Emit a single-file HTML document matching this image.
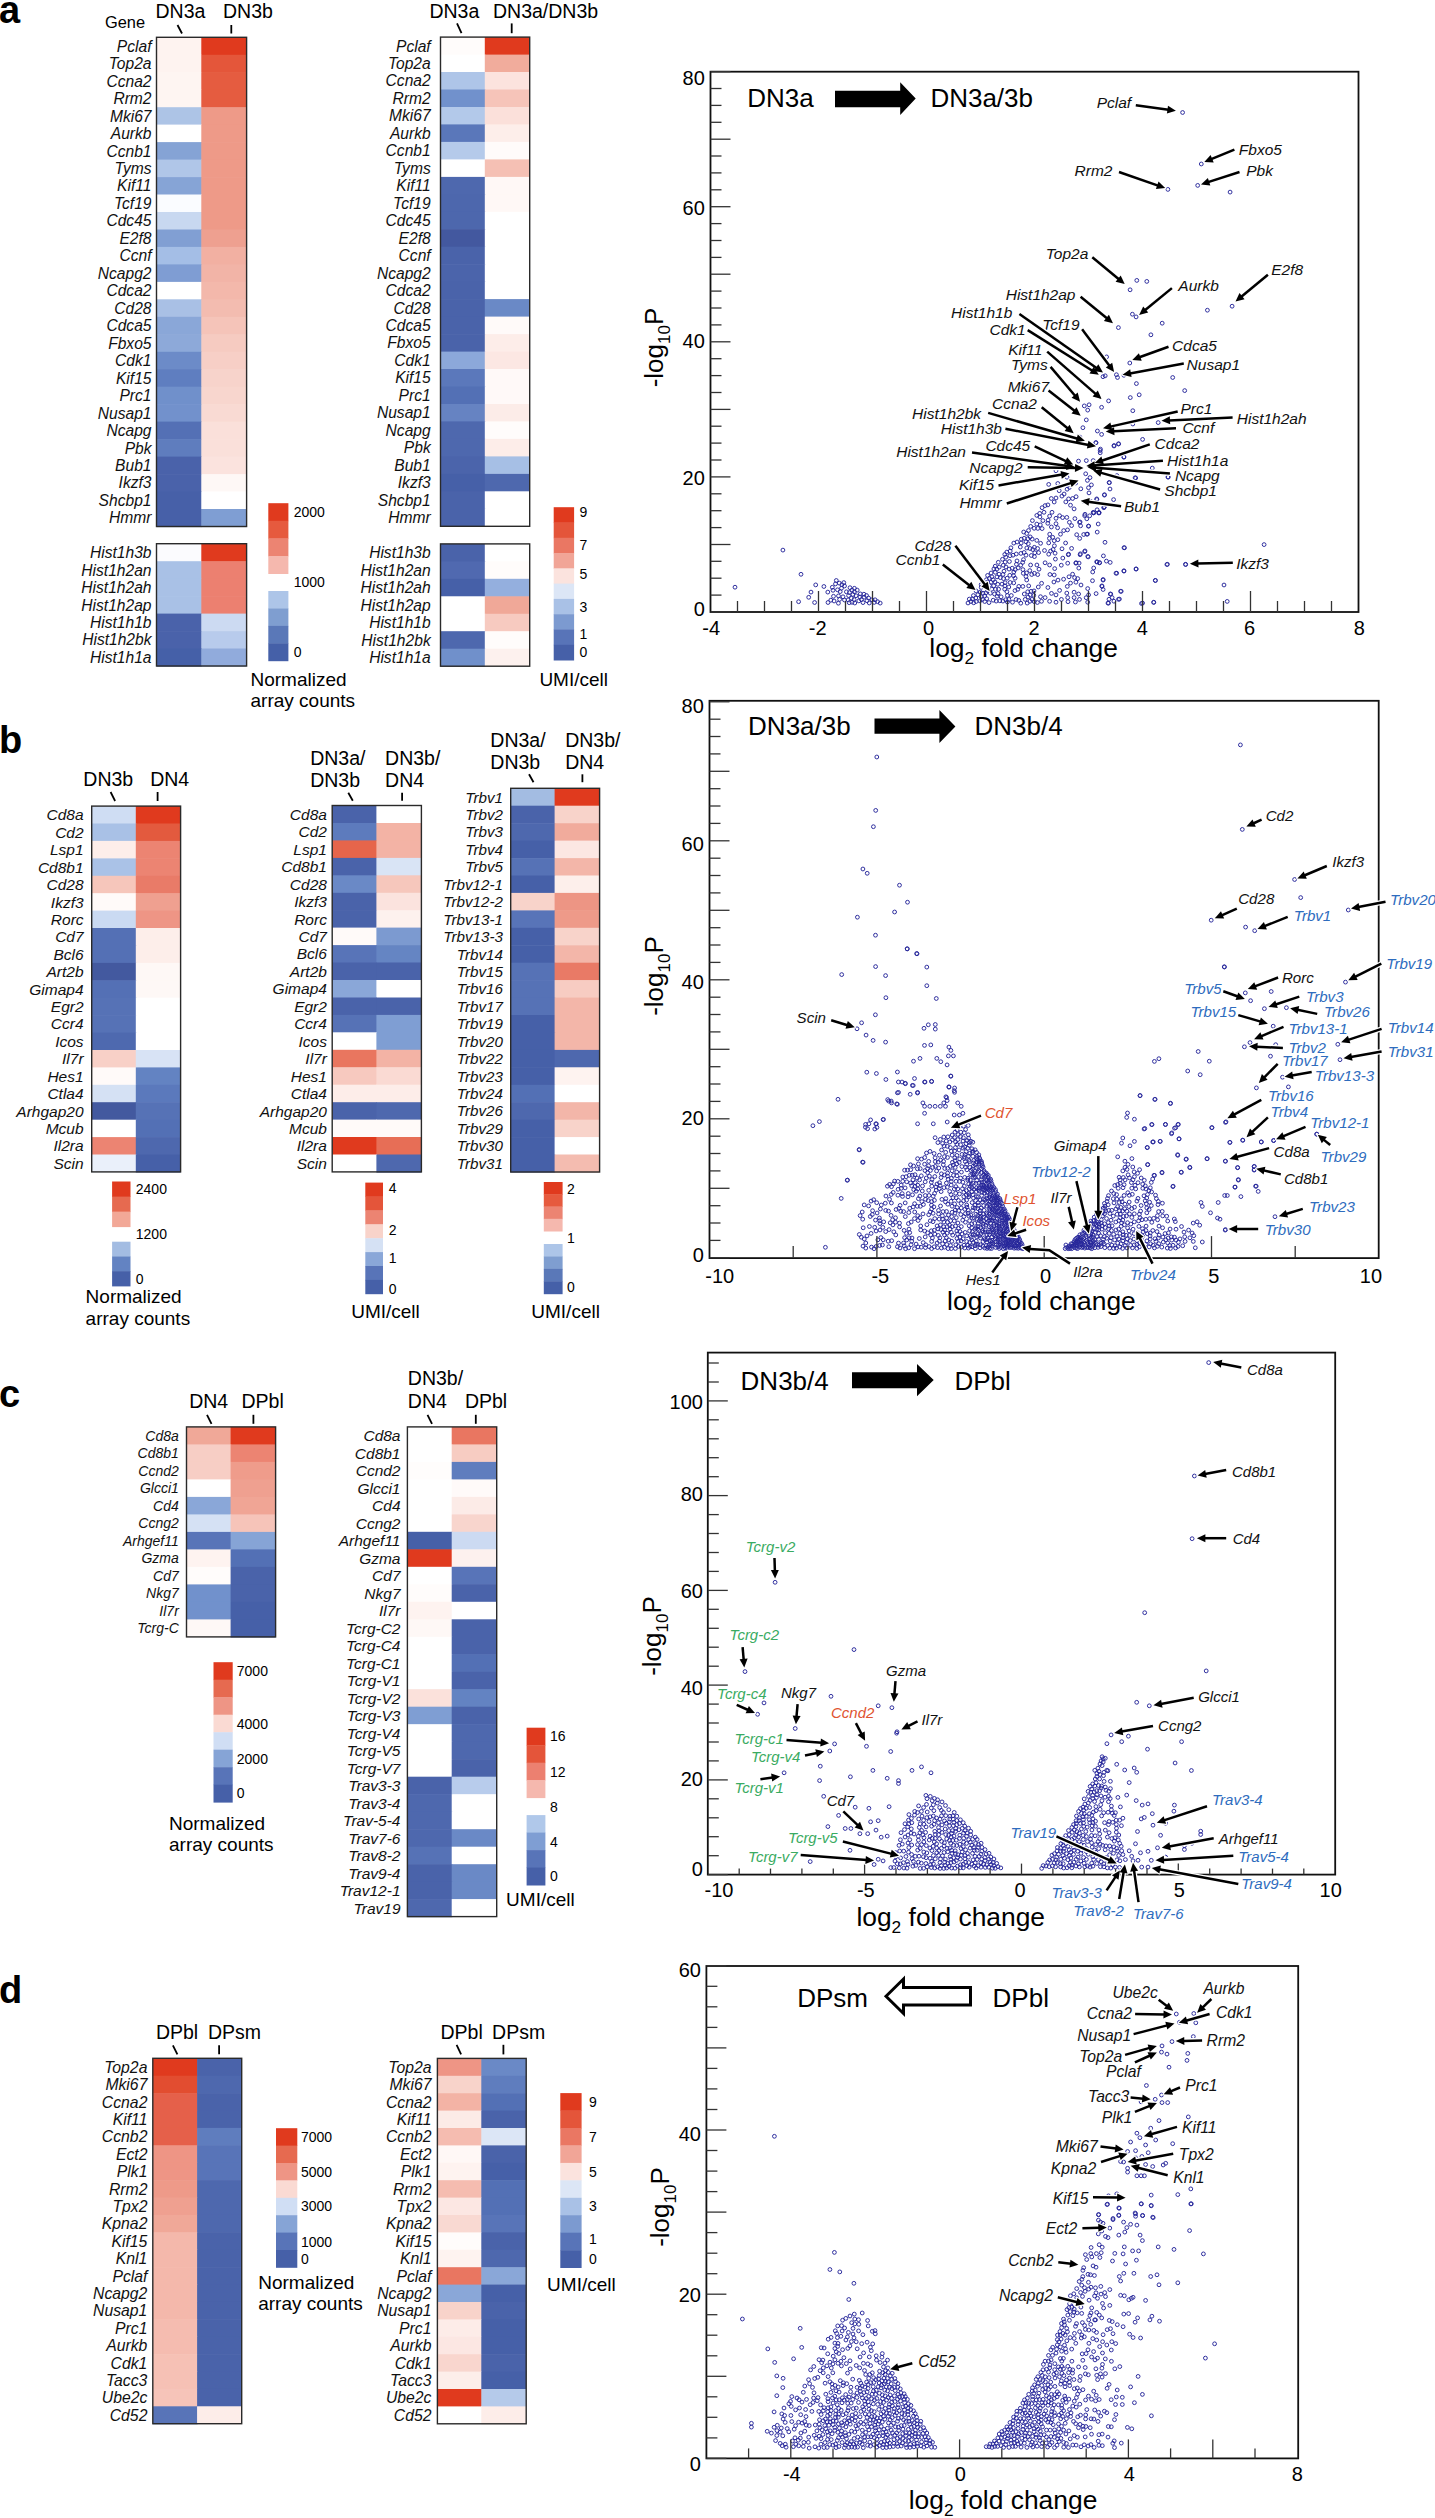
<!DOCTYPE html>
<html><head><meta charset="utf-8"><style>
html,body{margin:0;padding:0;background:#fff;}
svg{display:block;font-family:"Liberation Sans",sans-serif;}
</style></head><body>
<svg width="1435" height="2518" viewBox="0 0 1435 2518">
<defs><marker id="m" markerWidth="6" markerHeight="6" refX="3" refY="3" markerUnits="userSpaceOnUse" overflow="visible"><circle cx="3" cy="3" r="1.9" fill="none" stroke="#26269a" stroke-width="0.95"/></marker></defs>
<rect width="100%" height="100%" fill="#fff"/>
<text x="-1" y="23" font-size="38" text-anchor="start" fill="#000" font-weight="bold">a</text>
<text x="-1" y="753" font-size="38" text-anchor="start" fill="#000" font-weight="bold">b</text>
<text x="-1" y="1407" font-size="38" text-anchor="start" fill="#000" font-weight="bold">c</text>
<text x="-1" y="2003" font-size="38" text-anchor="start" fill="#000" font-weight="bold">d</text>
<text x="105" y="28" font-size="16.4" text-anchor="start" fill="#000">Gene</text>
<text x="155.5" y="17.8" font-size="19.5" text-anchor="start" fill="#000">DN3a</text>
<text x="223" y="17.8" font-size="19.5" text-anchor="start" fill="#000">DN3b</text>
<line x1="177.5" y1="25" x2="182" y2="33.5" stroke="#000" stroke-width="1.8"/>
<line x1="231.3" y1="25" x2="231.3" y2="33.5" stroke="#000" stroke-width="1.8"/>
<rect x="156.5" y="37.3" width="45.4" height="18.1" fill="#FEF3F0"/>
<rect x="201.3" y="37.3" width="45.3" height="18.1" fill="#E03A1E"/>
<text x="151.5" y="51.7" font-size="15.6" text-anchor="end" fill="#111" font-style="italic">Pclaf</text>
<rect x="156.5" y="54.8" width="45.4" height="18.1" fill="#FEF3F0"/>
<rect x="201.3" y="54.8" width="45.3" height="18.1" fill="#E4563A"/>
<text x="151.5" y="69.1" font-size="15.6" text-anchor="end" fill="#111" font-style="italic">Top2a</text>
<rect x="156.5" y="72.2" width="45.4" height="18.1" fill="#FEF5F2"/>
<rect x="201.3" y="72.2" width="45.3" height="18.1" fill="#E55C40"/>
<text x="151.5" y="86.6" font-size="15.6" text-anchor="end" fill="#111" font-style="italic">Ccna2</text>
<rect x="156.5" y="89.7" width="45.4" height="18.1" fill="#FEF5F2"/>
<rect x="201.3" y="89.7" width="45.3" height="18.1" fill="#E55C40"/>
<text x="151.5" y="104.1" font-size="15.6" text-anchor="end" fill="#111" font-style="italic">Rrm2</text>
<rect x="156.5" y="107.2" width="45.4" height="18.1" fill="#ADC4E6"/>
<rect x="201.3" y="107.2" width="45.3" height="18.1" fill="#EE9A88"/>
<text x="151.5" y="121.5" font-size="15.6" text-anchor="end" fill="#111" font-style="italic">Mki67</text>
<rect x="156.5" y="124.6" width="45.4" height="18.1" fill="#FFFFFF"/>
<rect x="201.3" y="124.6" width="45.3" height="18.1" fill="#EE9A88"/>
<text x="151.5" y="139" font-size="15.6" text-anchor="end" fill="#111" font-style="italic">Aurkb</text>
<rect x="156.5" y="142.1" width="45.4" height="18.1" fill="#85A3D5"/>
<rect x="201.3" y="142.1" width="45.3" height="18.1" fill="#EE9A88"/>
<text x="151.5" y="156.5" font-size="15.6" text-anchor="end" fill="#111" font-style="italic">Ccnb1</text>
<rect x="156.5" y="159.6" width="45.4" height="18.1" fill="#B0C6E8"/>
<rect x="201.3" y="159.6" width="45.3" height="18.1" fill="#EE9A88"/>
<text x="151.5" y="173.9" font-size="15.6" text-anchor="end" fill="#111" font-style="italic">Tyms</text>
<rect x="156.5" y="177.1" width="45.4" height="18.1" fill="#86A4D6"/>
<rect x="201.3" y="177.1" width="45.3" height="18.1" fill="#EE9A88"/>
<text x="151.5" y="191.4" font-size="15.6" text-anchor="end" fill="#111" font-style="italic">Kif11</text>
<rect x="156.5" y="194.5" width="45.4" height="18.1" fill="#FAFCFF"/>
<rect x="201.3" y="194.5" width="45.3" height="18.1" fill="#EE9A88"/>
<text x="151.5" y="208.9" font-size="15.6" text-anchor="end" fill="#111" font-style="italic">Tcf19</text>
<rect x="156.5" y="212" width="45.4" height="18.1" fill="#C8D8F0"/>
<rect x="201.3" y="212" width="45.3" height="18.1" fill="#EE9A88"/>
<text x="151.5" y="226.4" font-size="15.6" text-anchor="end" fill="#111" font-style="italic">Cdc45</text>
<rect x="156.5" y="229.5" width="45.4" height="18.1" fill="#819FD3"/>
<rect x="201.3" y="229.5" width="45.3" height="18.1" fill="#EEA090"/>
<text x="151.5" y="243.8" font-size="15.6" text-anchor="end" fill="#111" font-style="italic">E2f8</text>
<rect x="156.5" y="246.9" width="45.4" height="18.1" fill="#A4BEE6"/>
<rect x="201.3" y="246.9" width="45.3" height="18.1" fill="#F2B0A2"/>
<text x="151.5" y="261.3" font-size="15.6" text-anchor="end" fill="#111" font-style="italic">Ccnf</text>
<rect x="156.5" y="264.4" width="45.4" height="18.1" fill="#7F9DD3"/>
<rect x="201.3" y="264.4" width="45.3" height="18.1" fill="#F2B4A7"/>
<text x="151.5" y="278.8" font-size="15.6" text-anchor="end" fill="#111" font-style="italic">Ncapg2</text>
<rect x="156.5" y="281.9" width="45.4" height="18.1" fill="#FFFFFF"/>
<rect x="201.3" y="281.9" width="45.3" height="18.1" fill="#F3B8AB"/>
<text x="151.5" y="296.2" font-size="15.6" text-anchor="end" fill="#111" font-style="italic">Cdca2</text>
<rect x="156.5" y="299.3" width="45.4" height="18.1" fill="#A9C0E5"/>
<rect x="201.3" y="299.3" width="45.3" height="18.1" fill="#F3BCB0"/>
<text x="151.5" y="313.7" font-size="15.6" text-anchor="end" fill="#111" font-style="italic">Cd28</text>
<rect x="156.5" y="316.8" width="45.4" height="18.1" fill="#8AA7D8"/>
<rect x="201.3" y="316.8" width="45.3" height="18.1" fill="#F5C4B9"/>
<text x="151.5" y="331.2" font-size="15.6" text-anchor="end" fill="#111" font-style="italic">Cdca5</text>
<rect x="156.5" y="334.3" width="45.4" height="18.1" fill="#8DA9D9"/>
<rect x="201.3" y="334.3" width="45.3" height="18.1" fill="#F6CBC1"/>
<text x="151.5" y="348.6" font-size="15.6" text-anchor="end" fill="#111" font-style="italic">Fbxo5</text>
<rect x="156.5" y="351.8" width="45.4" height="18.1" fill="#6C8BC8"/>
<rect x="201.3" y="351.8" width="45.3" height="18.1" fill="#F7CFC6"/>
<text x="151.5" y="366.1" font-size="15.6" text-anchor="end" fill="#111" font-style="italic">Cdk1</text>
<rect x="156.5" y="369.2" width="45.4" height="18.1" fill="#5F7EC0"/>
<rect x="201.3" y="369.2" width="45.3" height="18.1" fill="#F7D3CB"/>
<text x="151.5" y="383.6" font-size="15.6" text-anchor="end" fill="#111" font-style="italic">Kif15</text>
<rect x="156.5" y="386.7" width="45.4" height="18.1" fill="#7090CB"/>
<rect x="201.3" y="386.7" width="45.3" height="18.1" fill="#F8D6CE"/>
<text x="151.5" y="401.1" font-size="15.6" text-anchor="end" fill="#111" font-style="italic">Prc1</text>
<rect x="156.5" y="404.2" width="45.4" height="18.1" fill="#7291CC"/>
<rect x="201.3" y="404.2" width="45.3" height="18.1" fill="#F9DAD3"/>
<text x="151.5" y="418.5" font-size="15.6" text-anchor="end" fill="#111" font-style="italic">Nusap1</text>
<rect x="156.5" y="421.6" width="45.4" height="18.1" fill="#5470B5"/>
<rect x="201.3" y="421.6" width="45.3" height="18.1" fill="#FAE0DA"/>
<text x="151.5" y="436" font-size="15.6" text-anchor="end" fill="#111" font-style="italic">Ncapg</text>
<rect x="156.5" y="439.1" width="45.4" height="18.1" fill="#5F7DBE"/>
<rect x="201.3" y="439.1" width="45.3" height="18.1" fill="#FAE0DA"/>
<text x="151.5" y="453.5" font-size="15.6" text-anchor="end" fill="#111" font-style="italic">Pbk</text>
<rect x="156.5" y="456.6" width="45.4" height="18.1" fill="#4A62AA"/>
<rect x="201.3" y="456.6" width="45.3" height="18.1" fill="#FBE3DE"/>
<text x="151.5" y="470.9" font-size="15.6" text-anchor="end" fill="#111" font-style="italic">Bub1</text>
<rect x="156.5" y="474.1" width="45.4" height="18.1" fill="#4A62AA"/>
<rect x="201.3" y="474.1" width="45.3" height="18.1" fill="#FEF8F6"/>
<text x="151.5" y="488.4" font-size="15.6" text-anchor="end" fill="#111" font-style="italic">Ikzf3</text>
<rect x="156.5" y="491.5" width="45.4" height="18.1" fill="#4760A8"/>
<rect x="201.3" y="491.5" width="45.3" height="18.1" fill="#FFFFFF"/>
<text x="151.5" y="505.9" font-size="15.6" text-anchor="end" fill="#111" font-style="italic">Shcbp1</text>
<rect x="156.5" y="509" width="45.4" height="18.1" fill="#4760A8"/>
<rect x="201.3" y="509" width="45.3" height="18.1" fill="#7F9ED3"/>
<text x="151.5" y="523.3" font-size="15.6" text-anchor="end" fill="#111" font-style="italic">Hmmr</text>
<rect x="156.5" y="37.3" width="90.1" height="489.2" fill="none" stroke="#2a2a2a" stroke-width="1.4"/>
<rect x="156.5" y="543.7" width="45.4" height="18.1" fill="#FBFBFE"/>
<rect x="201.3" y="543.7" width="45.3" height="18.1" fill="#E03A1E"/>
<text x="151.5" y="558.1" font-size="15.6" text-anchor="end" fill="#111" font-style="italic">Hist1h3b</text>
<rect x="156.5" y="561.2" width="45.4" height="18.1" fill="#A9C1E6"/>
<rect x="201.3" y="561.2" width="45.3" height="18.1" fill="#EC8070"/>
<text x="151.5" y="575.5" font-size="15.6" text-anchor="end" fill="#111" font-style="italic">Hist1h2an</text>
<rect x="156.5" y="578.6" width="45.4" height="18.1" fill="#A9C1E6"/>
<rect x="201.3" y="578.6" width="45.3" height="18.1" fill="#EC8070"/>
<text x="151.5" y="593" font-size="15.6" text-anchor="end" fill="#111" font-style="italic">Hist1h2ah</text>
<rect x="156.5" y="596.1" width="45.4" height="18.1" fill="#A9C1E6"/>
<rect x="201.3" y="596.1" width="45.3" height="18.1" fill="#EC8070"/>
<text x="151.5" y="610.5" font-size="15.6" text-anchor="end" fill="#111" font-style="italic">Hist1h2ap</text>
<rect x="156.5" y="613.6" width="45.4" height="18.1" fill="#4A62AA"/>
<rect x="201.3" y="613.6" width="45.3" height="18.1" fill="#CCDAF2"/>
<text x="151.5" y="627.9" font-size="15.6" text-anchor="end" fill="#111" font-style="italic">Hist1h1b</text>
<rect x="156.5" y="631.1" width="45.4" height="18.1" fill="#4A62AA"/>
<rect x="201.3" y="631.1" width="45.3" height="18.1" fill="#B8CBEC"/>
<text x="151.5" y="645.4" font-size="15.6" text-anchor="end" fill="#111" font-style="italic">Hist1h2bk</text>
<rect x="156.5" y="648.5" width="45.4" height="18.1" fill="#4560A8"/>
<rect x="201.3" y="648.5" width="45.3" height="18.1" fill="#91ABDC"/>
<text x="151.5" y="662.9" font-size="15.6" text-anchor="end" fill="#111" font-style="italic">Hist1h1a</text>
<rect x="156.5" y="543.7" width="90.1" height="122.3" fill="none" stroke="#2a2a2a" stroke-width="1.4"/>
<rect x="268.3" y="503.2" width="20.1" height="18" fill="#E03A1E"/>
<rect x="268.3" y="520.8" width="20.1" height="18" fill="#E65A3E"/>
<rect x="268.3" y="538.4" width="20.1" height="18" fill="#EC8472"/>
<rect x="268.3" y="556" width="20.1" height="18" fill="#F5B8AE"/>
<rect x="268.3" y="591" width="20.1" height="17.9" fill="#ADC5E8"/>
<rect x="268.3" y="608.5" width="20.1" height="17.8" fill="#7F9ED0"/>
<rect x="268.3" y="625.9" width="20.1" height="17.8" fill="#5A78B8"/>
<rect x="268.3" y="643.3" width="20.1" height="17.9" fill="#4560A8"/>
<text x="293.7" y="517.4" font-size="14" text-anchor="start" fill="#000">2000</text>
<text x="293.7" y="587.2" font-size="14" text-anchor="start" fill="#000">1000</text>
<text x="293.7" y="656.6" font-size="14" text-anchor="start" fill="#000">0</text>
<text x="250.5" y="686.3" font-size="19" text-anchor="start" fill="#000">Normalized</text>
<text x="250.5" y="706.6" font-size="19" text-anchor="start" fill="#000">array counts</text>
<text x="429.4" y="17.8" font-size="19.5" text-anchor="start" fill="#000">DN3a</text>
<text x="493" y="17.8" font-size="19.5" text-anchor="start" fill="#000">DN3a/DN3b</text>
<line x1="457" y1="23.4" x2="461.5" y2="33.2" stroke="#000" stroke-width="1.8"/>
<line x1="511.7" y1="23.4" x2="511.7" y2="33.2" stroke="#000" stroke-width="1.8"/>
<rect x="440.5" y="37.1" width="44.9" height="18.1" fill="#FFFCFB"/>
<rect x="484.8" y="37.1" width="44.9" height="18.1" fill="#E03A1E"/>
<text x="430.7" y="51.5" font-size="15.6" text-anchor="end" fill="#111" font-style="italic">Pclaf</text>
<rect x="440.5" y="54.6" width="44.9" height="18.1" fill="#FFFFFF"/>
<rect x="484.8" y="54.6" width="44.9" height="18.1" fill="#F1AC9C"/>
<text x="430.7" y="68.9" font-size="15.6" text-anchor="end" fill="#111" font-style="italic">Top2a</text>
<rect x="440.5" y="72" width="44.9" height="18.1" fill="#AEC5E8"/>
<rect x="484.8" y="72" width="44.9" height="18.1" fill="#FCE3DE"/>
<text x="430.7" y="86.4" font-size="15.6" text-anchor="end" fill="#111" font-style="italic">Ccna2</text>
<rect x="440.5" y="89.5" width="44.9" height="18.1" fill="#7191CC"/>
<rect x="484.8" y="89.5" width="44.9" height="18.1" fill="#F6C4B9"/>
<text x="430.7" y="103.9" font-size="15.6" text-anchor="end" fill="#111" font-style="italic">Rrm2</text>
<rect x="440.5" y="107" width="44.9" height="18.1" fill="#B3C9EA"/>
<rect x="484.8" y="107" width="44.9" height="18.1" fill="#FBE0DA"/>
<text x="430.7" y="121.3" font-size="15.6" text-anchor="end" fill="#111" font-style="italic">Mki67</text>
<rect x="440.5" y="124.4" width="44.9" height="18.1" fill="#5A77BA"/>
<rect x="484.8" y="124.4" width="44.9" height="18.1" fill="#FDEEEA"/>
<text x="430.7" y="138.8" font-size="15.6" text-anchor="end" fill="#111" font-style="italic">Aurkb</text>
<rect x="440.5" y="141.9" width="44.9" height="18.1" fill="#B5CAEA"/>
<rect x="484.8" y="141.9" width="44.9" height="18.1" fill="#FFFBFA"/>
<text x="430.7" y="156.3" font-size="15.6" text-anchor="end" fill="#111" font-style="italic">Ccnb1</text>
<rect x="440.5" y="159.4" width="44.9" height="18.1" fill="#FFFFFF"/>
<rect x="484.8" y="159.4" width="44.9" height="18.1" fill="#F5C0B4"/>
<text x="430.7" y="173.7" font-size="15.6" text-anchor="end" fill="#111" font-style="italic">Tyms</text>
<rect x="440.5" y="176.9" width="44.9" height="18.1" fill="#4E68AE"/>
<rect x="484.8" y="176.9" width="44.9" height="18.1" fill="#FFF8F6"/>
<text x="430.7" y="191.2" font-size="15.6" text-anchor="end" fill="#111" font-style="italic">Kif11</text>
<rect x="440.5" y="194.3" width="44.9" height="18.1" fill="#4D67AD"/>
<rect x="484.8" y="194.3" width="44.9" height="18.1" fill="#FFF8F6"/>
<text x="430.7" y="208.7" font-size="15.6" text-anchor="end" fill="#111" font-style="italic">Tcf19</text>
<rect x="440.5" y="211.8" width="44.9" height="18.1" fill="#4D67AD"/>
<rect x="484.8" y="211.8" width="44.9" height="18.1" fill="#FFFFFF"/>
<text x="430.7" y="226.2" font-size="15.6" text-anchor="end" fill="#111" font-style="italic">Cdc45</text>
<rect x="440.5" y="229.3" width="44.9" height="18.1" fill="#43589F"/>
<rect x="484.8" y="229.3" width="44.9" height="18.1" fill="#FFFFFF"/>
<text x="430.7" y="243.6" font-size="15.6" text-anchor="end" fill="#111" font-style="italic">E2f8</text>
<rect x="440.5" y="246.7" width="44.9" height="18.1" fill="#4A63AA"/>
<rect x="484.8" y="246.7" width="44.9" height="18.1" fill="#FFFFFF"/>
<text x="430.7" y="261.1" font-size="15.6" text-anchor="end" fill="#111" font-style="italic">Ccnf</text>
<rect x="440.5" y="264.2" width="44.9" height="18.1" fill="#4B64AB"/>
<rect x="484.8" y="264.2" width="44.9" height="18.1" fill="#FFFFFF"/>
<text x="430.7" y="278.6" font-size="15.6" text-anchor="end" fill="#111" font-style="italic">Ncapg2</text>
<rect x="440.5" y="281.7" width="44.9" height="18.1" fill="#4A63AA"/>
<rect x="484.8" y="281.7" width="44.9" height="18.1" fill="#FFFFFF"/>
<text x="430.7" y="296" font-size="15.6" text-anchor="end" fill="#111" font-style="italic">Cdca2</text>
<rect x="440.5" y="299.1" width="44.9" height="18.1" fill="#4A63AA"/>
<rect x="484.8" y="299.1" width="44.9" height="18.1" fill="#6A89C6"/>
<text x="430.7" y="313.5" font-size="15.6" text-anchor="end" fill="#111" font-style="italic">Cd28</text>
<rect x="440.5" y="316.6" width="44.9" height="18.1" fill="#4A63AA"/>
<rect x="484.8" y="316.6" width="44.9" height="18.1" fill="#FFFAF9"/>
<text x="430.7" y="331" font-size="15.6" text-anchor="end" fill="#111" font-style="italic">Cdca5</text>
<rect x="440.5" y="334.1" width="44.9" height="18.1" fill="#4A63AA"/>
<rect x="484.8" y="334.1" width="44.9" height="18.1" fill="#FDEDE9"/>
<text x="430.7" y="348.4" font-size="15.6" text-anchor="end" fill="#111" font-style="italic">Fbxo5</text>
<rect x="440.5" y="351.6" width="44.9" height="18.1" fill="#8CA8DA"/>
<rect x="484.8" y="351.6" width="44.9" height="18.1" fill="#FCE7E3"/>
<text x="430.7" y="365.9" font-size="15.6" text-anchor="end" fill="#111" font-style="italic">Cdk1</text>
<rect x="440.5" y="369" width="44.9" height="18.1" fill="#5B78BB"/>
<rect x="484.8" y="369" width="44.9" height="18.1" fill="#FFF9F8"/>
<text x="430.7" y="383.4" font-size="15.6" text-anchor="end" fill="#111" font-style="italic">Kif15</text>
<rect x="440.5" y="386.5" width="44.9" height="18.1" fill="#5370B5"/>
<rect x="484.8" y="386.5" width="44.9" height="18.1" fill="#FFF9F8"/>
<text x="430.7" y="400.9" font-size="15.6" text-anchor="end" fill="#111" font-style="italic">Prc1</text>
<rect x="440.5" y="404" width="44.9" height="18.1" fill="#6683C2"/>
<rect x="484.8" y="404" width="44.9" height="18.1" fill="#FCECE8"/>
<text x="430.7" y="418.3" font-size="15.6" text-anchor="end" fill="#111" font-style="italic">Nusap1</text>
<rect x="440.5" y="421.4" width="44.9" height="18.1" fill="#4E68AE"/>
<rect x="484.8" y="421.4" width="44.9" height="18.1" fill="#FFFCFB"/>
<text x="430.7" y="435.8" font-size="15.6" text-anchor="end" fill="#111" font-style="italic">Ncapg</text>
<rect x="440.5" y="438.9" width="44.9" height="18.1" fill="#4E68AE"/>
<rect x="484.8" y="438.9" width="44.9" height="18.1" fill="#FDEDE9"/>
<text x="430.7" y="453.3" font-size="15.6" text-anchor="end" fill="#111" font-style="italic">Pbk</text>
<rect x="440.5" y="456.4" width="44.9" height="18.1" fill="#4B64AB"/>
<rect x="484.8" y="456.4" width="44.9" height="18.1" fill="#A6BFE5"/>
<text x="430.7" y="470.7" font-size="15.6" text-anchor="end" fill="#111" font-style="italic">Bub1</text>
<rect x="440.5" y="473.9" width="44.9" height="18.1" fill="#4660A8"/>
<rect x="484.8" y="473.9" width="44.9" height="18.1" fill="#4E68AE"/>
<text x="430.7" y="488.2" font-size="15.6" text-anchor="end" fill="#111" font-style="italic">Ikzf3</text>
<rect x="440.5" y="491.3" width="44.9" height="18.1" fill="#4A63AA"/>
<rect x="484.8" y="491.3" width="44.9" height="18.1" fill="#FFFFFF"/>
<text x="430.7" y="505.7" font-size="15.6" text-anchor="end" fill="#111" font-style="italic">Shcbp1</text>
<rect x="440.5" y="508.8" width="44.9" height="18.1" fill="#4A63AA"/>
<rect x="484.8" y="508.8" width="44.9" height="18.1" fill="#FFFFFF"/>
<text x="430.7" y="523.1" font-size="15.6" text-anchor="end" fill="#111" font-style="italic">Hmmr</text>
<rect x="440.5" y="37.1" width="89.2" height="489.2" fill="none" stroke="#2a2a2a" stroke-width="1.4"/>
<rect x="440.5" y="543.9" width="44.9" height="18.1" fill="#4A63AA"/>
<rect x="484.8" y="543.9" width="44.9" height="18.1" fill="#FFFFFF"/>
<text x="430.7" y="558.3" font-size="15.6" text-anchor="end" fill="#111" font-style="italic">Hist1h3b</text>
<rect x="440.5" y="561.4" width="44.9" height="18.1" fill="#5069B0"/>
<rect x="484.8" y="561.4" width="44.9" height="18.1" fill="#FFFCFB"/>
<text x="430.7" y="575.7" font-size="15.6" text-anchor="end" fill="#111" font-style="italic">Hist1h2an</text>
<rect x="440.5" y="578.8" width="44.9" height="18.1" fill="#4660A8"/>
<rect x="484.8" y="578.8" width="44.9" height="18.1" fill="#94AFDE"/>
<text x="430.7" y="593.2" font-size="15.6" text-anchor="end" fill="#111" font-style="italic">Hist1h2ah</text>
<rect x="440.5" y="596.3" width="44.9" height="18.1" fill="#FFFFFF"/>
<rect x="484.8" y="596.3" width="44.9" height="18.1" fill="#F0A898"/>
<text x="430.7" y="610.7" font-size="15.6" text-anchor="end" fill="#111" font-style="italic">Hist1h2ap</text>
<rect x="440.5" y="613.8" width="44.9" height="18.1" fill="#FFFFFF"/>
<rect x="484.8" y="613.8" width="44.9" height="18.1" fill="#F7CAC0"/>
<text x="430.7" y="628.1" font-size="15.6" text-anchor="end" fill="#111" font-style="italic">Hist1h1b</text>
<rect x="440.5" y="631.2" width="44.9" height="18.1" fill="#4E68AE"/>
<rect x="484.8" y="631.2" width="44.9" height="18.1" fill="#FFFCFB"/>
<text x="430.7" y="645.6" font-size="15.6" text-anchor="end" fill="#111" font-style="italic">Hist1h2bk</text>
<rect x="440.5" y="648.7" width="44.9" height="18.1" fill="#7090CB"/>
<rect x="484.8" y="648.7" width="44.9" height="18.1" fill="#FDF1EE"/>
<text x="430.7" y="663.1" font-size="15.6" text-anchor="end" fill="#111" font-style="italic">Hist1h1a</text>
<rect x="440.5" y="543.9" width="89.2" height="122.3" fill="none" stroke="#2a2a2a" stroke-width="1.4"/>
<rect x="553.7" y="507.2" width="20.4" height="15.7" fill="#E03A1E"/>
<rect x="553.7" y="522.5" width="20.4" height="15.7" fill="#E4553A"/>
<rect x="553.7" y="537.8" width="20.4" height="15.7" fill="#EA7763"/>
<rect x="553.7" y="553.1" width="20.4" height="15.7" fill="#F1A597"/>
<rect x="553.7" y="568.4" width="20.4" height="15.7" fill="#FBE3DE"/>
<rect x="553.7" y="583.6" width="20.4" height="15.7" fill="#DCE6F6"/>
<rect x="553.7" y="598.9" width="20.4" height="15.7" fill="#A9C1E6"/>
<rect x="553.7" y="614.2" width="20.4" height="15.7" fill="#7C9AD0"/>
<rect x="553.7" y="629.5" width="20.4" height="15.7" fill="#5874B8"/>
<rect x="553.7" y="644.8" width="20.4" height="15.7" fill="#4660A8"/>
<text x="579.6" y="516.9" font-size="14" text-anchor="start" fill="#000">9</text>
<text x="579.6" y="549.6" font-size="14" text-anchor="start" fill="#000">7</text>
<text x="579.6" y="578.9" font-size="14" text-anchor="start" fill="#000">5</text>
<text x="579.6" y="611.5" font-size="14" text-anchor="start" fill="#000">3</text>
<text x="579.6" y="639.4" font-size="14" text-anchor="start" fill="#000">1</text>
<text x="579.6" y="656.6" font-size="14" text-anchor="start" fill="#000">0</text>
<text x="539.4" y="686" font-size="19" text-anchor="start" fill="#000">UMI/cell</text>
<text x="83.3" y="786.4" font-size="19.5" text-anchor="start" fill="#000">DN3b</text>
<text x="150.2" y="786.4" font-size="19.5" text-anchor="start" fill="#000">DN4</text>
<line x1="110.6" y1="792" x2="115.1" y2="801" stroke="#000" stroke-width="1.8"/>
<line x1="157.6" y1="792" x2="157.6" y2="801" stroke="#000" stroke-width="1.8"/>
<rect x="91.7" y="806.1" width="44.7" height="18" fill="#CFDDF3"/>
<rect x="135.8" y="806.1" width="44.8" height="18" fill="#E03A1E"/>
<text x="83.6" y="820.4" font-size="15.5" text-anchor="end" fill="#111" font-style="italic">Cd8a</text>
<rect x="91.7" y="823.5" width="44.7" height="18" fill="#A9C1E6"/>
<rect x="135.8" y="823.5" width="44.8" height="18" fill="#E35A3E"/>
<text x="83.6" y="837.8" font-size="15.5" text-anchor="end" fill="#111" font-style="italic">Cd2</text>
<rect x="91.7" y="840.9" width="44.7" height="18" fill="#FDEEEA"/>
<rect x="135.8" y="840.9" width="44.8" height="18" fill="#EC8472"/>
<text x="83.6" y="855.2" font-size="15.5" text-anchor="end" fill="#111" font-style="italic">Lsp1</text>
<rect x="91.7" y="858.4" width="44.7" height="18" fill="#AAC2E7"/>
<rect x="135.8" y="858.4" width="44.8" height="18" fill="#EC8472"/>
<text x="83.6" y="872.7" font-size="15.5" text-anchor="end" fill="#111" font-style="italic">Cd8b1</text>
<rect x="91.7" y="875.8" width="44.7" height="18" fill="#F6C6BB"/>
<rect x="135.8" y="875.8" width="44.8" height="18" fill="#E97B68"/>
<text x="83.6" y="890.1" font-size="15.5" text-anchor="end" fill="#111" font-style="italic">Cd28</text>
<rect x="91.7" y="893.2" width="44.7" height="18" fill="#FFFAF9"/>
<rect x="135.8" y="893.2" width="44.8" height="18" fill="#EFA090"/>
<text x="83.6" y="907.5" font-size="15.5" text-anchor="end" fill="#111" font-style="italic">Ikzf3</text>
<rect x="91.7" y="910.6" width="44.7" height="18" fill="#CADAF2"/>
<rect x="135.8" y="910.6" width="44.8" height="18" fill="#EE9585"/>
<text x="83.6" y="924.9" font-size="15.5" text-anchor="end" fill="#111" font-style="italic">Rorc</text>
<rect x="91.7" y="928" width="44.7" height="18" fill="#5470B5"/>
<rect x="135.8" y="928" width="44.8" height="18" fill="#FDEEEA"/>
<text x="83.6" y="942.3" font-size="15.5" text-anchor="end" fill="#111" font-style="italic">Cd7</text>
<rect x="91.7" y="945.5" width="44.7" height="18" fill="#5470B5"/>
<rect x="135.8" y="945.5" width="44.8" height="18" fill="#FDEEEA"/>
<text x="83.6" y="959.8" font-size="15.5" text-anchor="end" fill="#111" font-style="italic">Bcl6</text>
<rect x="91.7" y="962.9" width="44.7" height="18" fill="#43599F"/>
<rect x="135.8" y="962.9" width="44.8" height="18" fill="#FEF8F6"/>
<text x="83.6" y="977.2" font-size="15.5" text-anchor="end" fill="#111" font-style="italic">Art2b</text>
<rect x="91.7" y="980.3" width="44.7" height="18" fill="#5470B5"/>
<rect x="135.8" y="980.3" width="44.8" height="18" fill="#FEF8F6"/>
<text x="83.6" y="994.6" font-size="15.5" text-anchor="end" fill="#111" font-style="italic">Gimap4</text>
<rect x="91.7" y="997.7" width="44.7" height="18" fill="#5672B6"/>
<rect x="135.8" y="997.7" width="44.8" height="18" fill="#FFFFFF"/>
<text x="83.6" y="1012" font-size="15.5" text-anchor="end" fill="#111" font-style="italic">Egr2</text>
<rect x="91.7" y="1015.1" width="44.7" height="18" fill="#5672B6"/>
<rect x="135.8" y="1015.1" width="44.8" height="18" fill="#FFFFFF"/>
<text x="83.6" y="1029.4" font-size="15.5" text-anchor="end" fill="#111" font-style="italic">Ccr4</text>
<rect x="91.7" y="1032.6" width="44.7" height="18" fill="#4E69AF"/>
<rect x="135.8" y="1032.6" width="44.8" height="18" fill="#FFFFFF"/>
<text x="83.6" y="1046.8" font-size="15.5" text-anchor="end" fill="#111" font-style="italic">Icos</text>
<rect x="91.7" y="1050" width="44.7" height="18" fill="#F8D0C7"/>
<rect x="135.8" y="1050" width="44.8" height="18" fill="#D8E3F5"/>
<text x="83.6" y="1064.3" font-size="15.5" text-anchor="end" fill="#111" font-style="italic">Il7r</text>
<rect x="91.7" y="1067.4" width="44.7" height="18" fill="#FFFAF9"/>
<rect x="135.8" y="1067.4" width="44.8" height="18" fill="#6383C2"/>
<text x="83.6" y="1081.7" font-size="15.5" text-anchor="end" fill="#111" font-style="italic">Hes1</text>
<rect x="91.7" y="1084.8" width="44.7" height="18" fill="#D5E1F4"/>
<rect x="135.8" y="1084.8" width="44.8" height="18" fill="#5B79BC"/>
<text x="83.6" y="1099.1" font-size="15.5" text-anchor="end" fill="#111" font-style="italic">Ctla4</text>
<rect x="91.7" y="1102.2" width="44.7" height="18" fill="#43599F"/>
<rect x="135.8" y="1102.2" width="44.8" height="18" fill="#5672B6"/>
<text x="83.6" y="1116.5" font-size="15.5" text-anchor="end" fill="#111" font-style="italic">Arhgap20</text>
<rect x="91.7" y="1119.7" width="44.7" height="18" fill="#FFFFFF"/>
<rect x="135.8" y="1119.7" width="44.8" height="18" fill="#5370B5"/>
<text x="83.6" y="1134" font-size="15.5" text-anchor="end" fill="#111" font-style="italic">Mcub</text>
<rect x="91.7" y="1137.1" width="44.7" height="18" fill="#EC8472"/>
<rect x="135.8" y="1137.1" width="44.8" height="18" fill="#4E68AE"/>
<text x="83.6" y="1151.4" font-size="15.5" text-anchor="end" fill="#111" font-style="italic">Il2ra</text>
<rect x="91.7" y="1154.5" width="44.7" height="18" fill="#EAF0FA"/>
<rect x="135.8" y="1154.5" width="44.8" height="18" fill="#4660A8"/>
<text x="83.6" y="1168.8" font-size="15.5" text-anchor="end" fill="#111" font-style="italic">Scin</text>
<rect x="91.7" y="806.1" width="88.9" height="365.8" fill="none" stroke="#2a2a2a" stroke-width="1.4"/>
<rect x="112.1" y="1181.5" width="18.4" height="15.5" fill="#E03A1E"/>
<rect x="112.1" y="1196.6" width="18.4" height="15.5" fill="#E66A50"/>
<rect x="112.1" y="1211.6" width="18.4" height="15.5" fill="#F2A897"/>
<rect x="112.1" y="1241.7" width="18.4" height="15.2" fill="#A3BCE2"/>
<rect x="112.1" y="1256.5" width="18.4" height="15.2" fill="#6383C2"/>
<rect x="112.1" y="1271.2" width="18.4" height="15.2" fill="#4660A8"/>
<text x="135.8" y="1194" font-size="14" text-anchor="start" fill="#000">2400</text>
<text x="135.8" y="1239.2" font-size="14" text-anchor="start" fill="#000">1200</text>
<text x="135.8" y="1283.5" font-size="14" text-anchor="start" fill="#000">0</text>
<text x="85.6" y="1303" font-size="19" text-anchor="start" fill="#000">Normalized</text>
<text x="85.6" y="1324.5" font-size="19" text-anchor="start" fill="#000">array counts</text>
<text x="310.2" y="765.4" font-size="19.5" text-anchor="start" fill="#000">DN3a/</text>
<text x="310.2" y="787.4" font-size="19.5" text-anchor="start" fill="#000">DN3b</text>
<text x="385.1" y="765.4" font-size="19.5" text-anchor="start" fill="#000">DN3b/</text>
<text x="385.1" y="787.4" font-size="19.5" text-anchor="start" fill="#000">DN4</text>
<line x1="348.3" y1="792.8" x2="352.8" y2="800.8" stroke="#000" stroke-width="1.8"/>
<line x1="402.1" y1="792.8" x2="402.1" y2="800.8" stroke="#000" stroke-width="1.8"/>
<rect x="332.2" y="805.5" width="44.8" height="18.1" fill="#4A63AA"/>
<rect x="376.4" y="805.5" width="45" height="18.1" fill="#FFFFFF"/>
<text x="326.9" y="819.8" font-size="15.5" text-anchor="end" fill="#111" font-style="italic">Cd8a</text>
<rect x="332.2" y="823" width="44.8" height="18.1" fill="#5D7BBD"/>
<rect x="376.4" y="823" width="45" height="18.1" fill="#F3B3A5"/>
<text x="326.9" y="837.3" font-size="15.5" text-anchor="end" fill="#111" font-style="italic">Cd2</text>
<rect x="332.2" y="840.4" width="44.8" height="18.1" fill="#E6654B"/>
<rect x="376.4" y="840.4" width="45" height="18.1" fill="#F3B3A5"/>
<text x="326.9" y="854.7" font-size="15.5" text-anchor="end" fill="#111" font-style="italic">Lsp1</text>
<rect x="332.2" y="857.9" width="44.8" height="18.1" fill="#4A63AA"/>
<rect x="376.4" y="857.9" width="45" height="18.1" fill="#D9E4F5"/>
<text x="326.9" y="872.2" font-size="15.5" text-anchor="end" fill="#111" font-style="italic">Cd8b1</text>
<rect x="332.2" y="875.3" width="44.8" height="18.1" fill="#6A89C6"/>
<rect x="376.4" y="875.3" width="45" height="18.1" fill="#F6C7BC"/>
<text x="326.9" y="889.6" font-size="15.5" text-anchor="end" fill="#111" font-style="italic">Cd28</text>
<rect x="332.2" y="892.8" width="44.8" height="18.1" fill="#4A63AA"/>
<rect x="376.4" y="892.8" width="45" height="18.1" fill="#FBE3DE"/>
<text x="326.9" y="907.1" font-size="15.5" text-anchor="end" fill="#111" font-style="italic">Ikzf3</text>
<rect x="332.2" y="910.2" width="44.8" height="18.1" fill="#4A63AA"/>
<rect x="376.4" y="910.2" width="45" height="18.1" fill="#FDF1EE"/>
<text x="326.9" y="924.5" font-size="15.5" text-anchor="end" fill="#111" font-style="italic">Rorc</text>
<rect x="332.2" y="927.6" width="44.8" height="18.1" fill="#FFFAF9"/>
<rect x="376.4" y="927.6" width="45" height="18.1" fill="#7C9AD0"/>
<text x="326.9" y="942" font-size="15.5" text-anchor="end" fill="#111" font-style="italic">Cd7</text>
<rect x="332.2" y="945.1" width="44.8" height="18.1" fill="#5874B8"/>
<rect x="376.4" y="945.1" width="45" height="18.1" fill="#6585C3"/>
<text x="326.9" y="959.4" font-size="15.5" text-anchor="end" fill="#111" font-style="italic">Bcl6</text>
<rect x="332.2" y="962.5" width="44.8" height="18.1" fill="#4A63AA"/>
<rect x="376.4" y="962.5" width="45" height="18.1" fill="#4A63AA"/>
<text x="326.9" y="976.9" font-size="15.5" text-anchor="end" fill="#111" font-style="italic">Art2b</text>
<rect x="332.2" y="980" width="44.8" height="18.1" fill="#8AA7D8"/>
<rect x="376.4" y="980" width="45" height="18.1" fill="#FFFFFF"/>
<text x="326.9" y="994.3" font-size="15.5" text-anchor="end" fill="#111" font-style="italic">Gimap4</text>
<rect x="332.2" y="997.5" width="44.8" height="18.1" fill="#4A63AA"/>
<rect x="376.4" y="997.5" width="45" height="18.1" fill="#4A63AA"/>
<text x="326.9" y="1011.8" font-size="15.5" text-anchor="end" fill="#111" font-style="italic">Egr2</text>
<rect x="332.2" y="1014.9" width="44.8" height="18.1" fill="#5672B6"/>
<rect x="376.4" y="1014.9" width="45" height="18.1" fill="#7F9ED3"/>
<text x="326.9" y="1029.2" font-size="15.5" text-anchor="end" fill="#111" font-style="italic">Ccr4</text>
<rect x="332.2" y="1032.3" width="44.8" height="18.1" fill="#FFFFFF"/>
<rect x="376.4" y="1032.3" width="45" height="18.1" fill="#7F9ED3"/>
<text x="326.9" y="1046.7" font-size="15.5" text-anchor="end" fill="#111" font-style="italic">Icos</text>
<rect x="332.2" y="1049.8" width="44.8" height="18.1" fill="#E9765F"/>
<rect x="376.4" y="1049.8" width="45" height="18.1" fill="#F3B3A5"/>
<text x="326.9" y="1064.1" font-size="15.5" text-anchor="end" fill="#111" font-style="italic">Il7r</text>
<rect x="332.2" y="1067.2" width="44.8" height="18.1" fill="#F7C9BF"/>
<rect x="376.4" y="1067.2" width="45" height="18.1" fill="#FADAD3"/>
<text x="326.9" y="1081.6" font-size="15.5" text-anchor="end" fill="#111" font-style="italic">Hes1</text>
<rect x="332.2" y="1084.7" width="44.8" height="18.1" fill="#FDEDE9"/>
<rect x="376.4" y="1084.7" width="45" height="18.1" fill="#FDEDE9"/>
<text x="326.9" y="1099" font-size="15.5" text-anchor="end" fill="#111" font-style="italic">Ctla4</text>
<rect x="332.2" y="1102.2" width="44.8" height="18.1" fill="#4A63AA"/>
<rect x="376.4" y="1102.2" width="45" height="18.1" fill="#4E68AE"/>
<text x="326.9" y="1116.5" font-size="15.5" text-anchor="end" fill="#111" font-style="italic">Arhgap20</text>
<rect x="332.2" y="1119.6" width="44.8" height="18.1" fill="#FFFAF9"/>
<rect x="376.4" y="1119.6" width="45" height="18.1" fill="#FFFAF9"/>
<text x="326.9" y="1133.9" font-size="15.5" text-anchor="end" fill="#111" font-style="italic">Mcub</text>
<rect x="332.2" y="1137" width="44.8" height="18.1" fill="#E03A1E"/>
<rect x="376.4" y="1137" width="45" height="18.1" fill="#E76E56"/>
<text x="326.9" y="1151.4" font-size="15.5" text-anchor="end" fill="#111" font-style="italic">Il2ra</text>
<rect x="332.2" y="1154.5" width="44.8" height="18.1" fill="#FFFFFF"/>
<rect x="376.4" y="1154.5" width="45" height="18.1" fill="#4E68AE"/>
<text x="326.9" y="1168.8" font-size="15.5" text-anchor="end" fill="#111" font-style="italic">Scin</text>
<rect x="332.2" y="805.5" width="89.2" height="366.4" fill="none" stroke="#2a2a2a" stroke-width="1.4"/>
<rect x="365.3" y="1182.6" width="17.7" height="14.3" fill="#E03A1E"/>
<rect x="365.3" y="1196.5" width="17.7" height="14.3" fill="#E4553A"/>
<rect x="365.3" y="1210.4" width="17.7" height="14.3" fill="#EC8472"/>
<rect x="365.3" y="1224.3" width="17.7" height="14.3" fill="#F8D3CA"/>
<rect x="365.3" y="1238.2" width="17.7" height="14.3" fill="#D5E1F4"/>
<rect x="365.3" y="1252.1" width="17.7" height="14.3" fill="#8AA7D8"/>
<rect x="365.3" y="1266" width="17.7" height="14.3" fill="#5874B8"/>
<rect x="365.3" y="1279.9" width="17.7" height="14.3" fill="#4660A8"/>
<text x="388.8" y="1192.9" font-size="14" text-anchor="start" fill="#000">4</text>
<text x="388.8" y="1235.3" font-size="14" text-anchor="start" fill="#000">2</text>
<text x="388.8" y="1263.1" font-size="14" text-anchor="start" fill="#000">1</text>
<text x="388.8" y="1293.5" font-size="14" text-anchor="start" fill="#000">0</text>
<text x="351.2" y="1317.7" font-size="19" text-anchor="start" fill="#000">UMI/cell</text>
<text x="490.3" y="746.9" font-size="19.5" text-anchor="start" fill="#000">DN3a/</text>
<text x="490.3" y="769.4" font-size="19.5" text-anchor="start" fill="#000">DN3b</text>
<text x="565.2" y="746.9" font-size="19.5" text-anchor="start" fill="#000">DN3b/</text>
<text x="565.2" y="769.4" font-size="19.5" text-anchor="start" fill="#000">DN4</text>
<line x1="529" y1="774.3" x2="533.5" y2="782.2" stroke="#000" stroke-width="1.8"/>
<line x1="582.4" y1="774.3" x2="582.4" y2="782.2" stroke="#000" stroke-width="1.8"/>
<rect x="510.7" y="788.3" width="44.5" height="18" fill="#A3BCE2"/>
<rect x="554.6" y="788.3" width="45" height="18" fill="#E03A1E"/>
<text x="503" y="802.5" font-size="15.2" text-anchor="end" fill="#111" font-style="italic">Trbv1</text>
<rect x="510.7" y="805.7" width="44.5" height="18" fill="#4A63AA"/>
<rect x="554.6" y="805.7" width="45" height="18" fill="#F8D3CA"/>
<text x="503" y="819.9" font-size="15.2" text-anchor="end" fill="#111" font-style="italic">Trbv2</text>
<rect x="510.7" y="823.2" width="44.5" height="18" fill="#4E68AE"/>
<rect x="554.6" y="823.2" width="45" height="18" fill="#F1AB9C"/>
<text x="503" y="837.4" font-size="15.2" text-anchor="end" fill="#111" font-style="italic">Trbv3</text>
<rect x="510.7" y="840.6" width="44.5" height="18" fill="#4660A8"/>
<rect x="554.6" y="840.6" width="45" height="18" fill="#FCE7E3"/>
<text x="503" y="854.8" font-size="15.2" text-anchor="end" fill="#111" font-style="italic">Trbv4</text>
<rect x="510.7" y="858.1" width="44.5" height="18" fill="#5672B6"/>
<rect x="554.6" y="858.1" width="45" height="18" fill="#F3B6A9"/>
<text x="503" y="872.3" font-size="15.2" text-anchor="end" fill="#111" font-style="italic">Trbv5</text>
<rect x="510.7" y="875.5" width="44.5" height="18" fill="#4660A8"/>
<rect x="554.6" y="875.5" width="45" height="18" fill="#FDEFEB"/>
<text x="503" y="889.7" font-size="15.2" text-anchor="end" fill="#111" font-style="italic">Trbv12-1</text>
<rect x="510.7" y="892.9" width="44.5" height="18" fill="#F8D3CA"/>
<rect x="554.6" y="892.9" width="45" height="18" fill="#ED9584"/>
<text x="503" y="907.1" font-size="15.2" text-anchor="end" fill="#111" font-style="italic">Trbv12-2</text>
<rect x="510.7" y="910.4" width="44.5" height="18" fill="#5874B8"/>
<rect x="554.6" y="910.4" width="45" height="18" fill="#EE9A89"/>
<text x="503" y="924.6" font-size="15.2" text-anchor="end" fill="#111" font-style="italic">Trbv13-1</text>
<rect x="510.7" y="927.8" width="44.5" height="18" fill="#4660A8"/>
<rect x="554.6" y="927.8" width="45" height="18" fill="#F8D3CA"/>
<text x="503" y="942" font-size="15.2" text-anchor="end" fill="#111" font-style="italic">Trbv13-3</text>
<rect x="510.7" y="945.3" width="44.5" height="18" fill="#4660A8"/>
<rect x="554.6" y="945.3" width="45" height="18" fill="#F3B6A9"/>
<text x="503" y="959.5" font-size="15.2" text-anchor="end" fill="#111" font-style="italic">Trbv14</text>
<rect x="510.7" y="962.7" width="44.5" height="18" fill="#5672B6"/>
<rect x="554.6" y="962.7" width="45" height="18" fill="#E97A66"/>
<text x="503" y="976.9" font-size="15.2" text-anchor="end" fill="#111" font-style="italic">Trbv15</text>
<rect x="510.7" y="980.1" width="44.5" height="18" fill="#5672B6"/>
<rect x="554.6" y="980.1" width="45" height="18" fill="#F7CCC2"/>
<text x="503" y="994.3" font-size="15.2" text-anchor="end" fill="#111" font-style="italic">Trbv16</text>
<rect x="510.7" y="997.6" width="44.5" height="18" fill="#5672B6"/>
<rect x="554.6" y="997.6" width="45" height="18" fill="#F3B6A9"/>
<text x="503" y="1011.8" font-size="15.2" text-anchor="end" fill="#111" font-style="italic">Trbv17</text>
<rect x="510.7" y="1015" width="44.5" height="18" fill="#4660A8"/>
<rect x="554.6" y="1015" width="45" height="18" fill="#F3B6A9"/>
<text x="503" y="1029.2" font-size="15.2" text-anchor="end" fill="#111" font-style="italic">Trbv19</text>
<rect x="510.7" y="1032.5" width="44.5" height="18" fill="#4660A8"/>
<rect x="554.6" y="1032.5" width="45" height="18" fill="#F3B6A9"/>
<text x="503" y="1046.7" font-size="15.2" text-anchor="end" fill="#111" font-style="italic">Trbv20</text>
<rect x="510.7" y="1049.9" width="44.5" height="18" fill="#4660A8"/>
<rect x="554.6" y="1049.9" width="45" height="18" fill="#4E68AE"/>
<text x="503" y="1064.1" font-size="15.2" text-anchor="end" fill="#111" font-style="italic">Trbv22</text>
<rect x="510.7" y="1067.3" width="44.5" height="18" fill="#4660A8"/>
<rect x="554.6" y="1067.3" width="45" height="18" fill="#FEF3F0"/>
<text x="503" y="1081.5" font-size="15.2" text-anchor="end" fill="#111" font-style="italic">Trbv23</text>
<rect x="510.7" y="1084.8" width="44.5" height="18" fill="#5370B5"/>
<rect x="554.6" y="1084.8" width="45" height="18" fill="#FFFFFF"/>
<text x="503" y="1099" font-size="15.2" text-anchor="end" fill="#111" font-style="italic">Trbv24</text>
<rect x="510.7" y="1102.2" width="44.5" height="18" fill="#4E68AE"/>
<rect x="554.6" y="1102.2" width="45" height="18" fill="#F3B6A9"/>
<text x="503" y="1116.4" font-size="15.2" text-anchor="end" fill="#111" font-style="italic">Trbv26</text>
<rect x="510.7" y="1119.7" width="44.5" height="18" fill="#4660A8"/>
<rect x="554.6" y="1119.7" width="45" height="18" fill="#F8D3CA"/>
<text x="503" y="1133.9" font-size="15.2" text-anchor="end" fill="#111" font-style="italic">Trbv29</text>
<rect x="510.7" y="1137.1" width="44.5" height="18" fill="#4660A8"/>
<rect x="554.6" y="1137.1" width="45" height="18" fill="#FFFFFF"/>
<text x="503" y="1151.3" font-size="15.2" text-anchor="end" fill="#111" font-style="italic">Trbv30</text>
<rect x="510.7" y="1154.5" width="44.5" height="18" fill="#4660A8"/>
<rect x="554.6" y="1154.5" width="45" height="18" fill="#F4BCB0"/>
<text x="503" y="1168.7" font-size="15.2" text-anchor="end" fill="#111" font-style="italic">Trbv31</text>
<rect x="510.7" y="788.3" width="88.9" height="383.7" fill="none" stroke="#2a2a2a" stroke-width="1.4"/>
<rect x="543.8" y="1182" width="18.8" height="12.7" fill="#E03A1E"/>
<rect x="543.8" y="1194.2" width="18.8" height="12.7" fill="#E65A3E"/>
<rect x="543.8" y="1206.5" width="18.8" height="12.7" fill="#EC8472"/>
<rect x="543.8" y="1218.8" width="18.8" height="12.7" fill="#F5B8AE"/>
<rect x="543.8" y="1244" width="18.8" height="12.9" fill="#ADC5E8"/>
<rect x="543.8" y="1256.5" width="18.8" height="12.9" fill="#7F9ED0"/>
<rect x="543.8" y="1268.9" width="18.8" height="12.8" fill="#5A78B8"/>
<rect x="543.8" y="1281.3" width="18.8" height="12.9" fill="#4560A8"/>
<text x="567" y="1194.2" font-size="14" text-anchor="start" fill="#000">2</text>
<text x="567" y="1243.2" font-size="14" text-anchor="start" fill="#000">1</text>
<text x="567" y="1292.2" font-size="14" text-anchor="start" fill="#000">0</text>
<text x="531.3" y="1317.7" font-size="19" text-anchor="start" fill="#000">UMI/cell</text>
<text x="189.2" y="1407.8" font-size="19.5" text-anchor="start" fill="#000">DN4</text>
<text x="241.5" y="1407.8" font-size="19.5" text-anchor="start" fill="#000">DPbl</text>
<line x1="207" y1="1414.8" x2="211.5" y2="1423.8" stroke="#000" stroke-width="1.8"/>
<line x1="253.4" y1="1414.8" x2="253.4" y2="1423.8" stroke="#000" stroke-width="1.8"/>
<rect x="186.5" y="1426.9" width="44.7" height="18.1" fill="#F0A898"/>
<rect x="230.6" y="1426.9" width="45" height="18.1" fill="#E03A1E"/>
<text x="178.8" y="1440.7" font-size="14.0" text-anchor="end" fill="#111" font-style="italic">Cd8a</text>
<rect x="186.5" y="1444.4" width="44.7" height="18.1" fill="#F7CEC5"/>
<rect x="230.6" y="1444.4" width="45" height="18.1" fill="#EC8472"/>
<text x="178.8" y="1458.2" font-size="14.0" text-anchor="end" fill="#111" font-style="italic">Cd8b1</text>
<rect x="186.5" y="1461.9" width="44.7" height="18.1" fill="#F7CEC5"/>
<rect x="230.6" y="1461.9" width="45" height="18.1" fill="#EF9C8B"/>
<text x="178.8" y="1475.7" font-size="14.0" text-anchor="end" fill="#111" font-style="italic">Ccnd2</text>
<rect x="186.5" y="1479.4" width="44.7" height="18.1" fill="#FFFFFF"/>
<rect x="230.6" y="1479.4" width="45" height="18.1" fill="#EFA090"/>
<text x="178.8" y="1493.2" font-size="14.0" text-anchor="end" fill="#111" font-style="italic">Glcci1</text>
<rect x="186.5" y="1496.9" width="44.7" height="18.1" fill="#8AA7D8"/>
<rect x="230.6" y="1496.9" width="45" height="18.1" fill="#F0A595"/>
<text x="178.8" y="1510.7" font-size="14.0" text-anchor="end" fill="#111" font-style="italic">Cd4</text>
<rect x="186.5" y="1514.4" width="44.7" height="18.1" fill="#D5E1F4"/>
<rect x="230.6" y="1514.4" width="45" height="18.1" fill="#F6C4B9"/>
<text x="178.8" y="1528.2" font-size="14.0" text-anchor="end" fill="#111" font-style="italic">Ccng2</text>
<rect x="186.5" y="1531.9" width="44.7" height="18.1" fill="#5874B8"/>
<rect x="230.6" y="1531.9" width="45" height="18.1" fill="#86A4D6"/>
<text x="178.8" y="1545.7" font-size="14.0" text-anchor="end" fill="#111" font-style="italic">Arhgef11</text>
<rect x="186.5" y="1549.4" width="44.7" height="18.1" fill="#FEF3F0"/>
<rect x="230.6" y="1549.4" width="45" height="18.1" fill="#5370B5"/>
<text x="178.8" y="1563.2" font-size="14.0" text-anchor="end" fill="#111" font-style="italic">Gzma</text>
<rect x="186.5" y="1566.9" width="44.7" height="18.1" fill="#FFFCFB"/>
<rect x="230.6" y="1566.9" width="45" height="18.1" fill="#4A63AA"/>
<text x="178.8" y="1580.7" font-size="14.0" text-anchor="end" fill="#111" font-style="italic">Cd7</text>
<rect x="186.5" y="1584.4" width="44.7" height="18.1" fill="#7191CC"/>
<rect x="230.6" y="1584.4" width="45" height="18.1" fill="#4A63AA"/>
<text x="178.8" y="1598.2" font-size="14.0" text-anchor="end" fill="#111" font-style="italic">Nkg7</text>
<rect x="186.5" y="1601.9" width="44.7" height="18.1" fill="#7191CC"/>
<rect x="230.6" y="1601.9" width="45" height="18.1" fill="#4660A8"/>
<text x="178.8" y="1615.7" font-size="14.0" text-anchor="end" fill="#111" font-style="italic">Il7r</text>
<rect x="186.5" y="1619.4" width="44.7" height="18.1" fill="#FEF8F6"/>
<rect x="230.6" y="1619.4" width="45" height="18.1" fill="#4660A8"/>
<text x="178.8" y="1633.2" font-size="14.0" text-anchor="end" fill="#111" font-style="italic">Tcrg-C</text>
<rect x="186.5" y="1426.9" width="89.1" height="210" fill="none" stroke="#2a2a2a" stroke-width="1.4"/>
<rect x="213.5" y="1662.2" width="19.2" height="17.9" fill="#E03A1E"/>
<rect x="213.5" y="1679.7" width="19.2" height="17.9" fill="#E66A50"/>
<rect x="213.5" y="1697.2" width="19.2" height="17.9" fill="#EE9585"/>
<rect x="213.5" y="1714.7" width="19.2" height="17.9" fill="#FADAD3"/>
<rect x="213.5" y="1732.2" width="19.2" height="17.9" fill="#D0DEF4"/>
<rect x="213.5" y="1749.7" width="19.2" height="17.9" fill="#86A4D6"/>
<rect x="213.5" y="1767.2" width="19.2" height="17.9" fill="#5874B8"/>
<rect x="213.5" y="1784.7" width="19.2" height="17.9" fill="#4660A8"/>
<text x="236.8" y="1676.4" font-size="14" text-anchor="start" fill="#000">7000</text>
<text x="236.8" y="1729" font-size="14" text-anchor="start" fill="#000">4000</text>
<text x="236.8" y="1763.8" font-size="14" text-anchor="start" fill="#000">2000</text>
<text x="236.8" y="1798.3" font-size="14" text-anchor="start" fill="#000">0</text>
<text x="169" y="1830.1" font-size="19" text-anchor="start" fill="#000">Normalized</text>
<text x="169" y="1850.8" font-size="19" text-anchor="start" fill="#000">array counts</text>
<text x="407.8" y="1384.8" font-size="19.5" text-anchor="start" fill="#000">DN3b/</text>
<text x="407.8" y="1407.8" font-size="19.5" text-anchor="start" fill="#000">DN4</text>
<text x="464.9" y="1407.8" font-size="19.5" text-anchor="start" fill="#000">DPbl</text>
<line x1="427.5" y1="1414.8" x2="432" y2="1423.8" stroke="#000" stroke-width="1.8"/>
<line x1="475.8" y1="1414.8" x2="475.8" y2="1423.8" stroke="#000" stroke-width="1.8"/>
<rect x="407.4" y="1426.9" width="44.9" height="18.1" fill="#FFFFFF"/>
<rect x="451.7" y="1426.9" width="45" height="18.1" fill="#E97661"/>
<text x="400.5" y="1441.2" font-size="15.5" text-anchor="end" fill="#111" font-style="italic">Cd8a</text>
<rect x="407.4" y="1444.4" width="44.9" height="18.1" fill="#FFFFFF"/>
<rect x="451.7" y="1444.4" width="45" height="18.1" fill="#F7CCC2"/>
<text x="400.5" y="1458.7" font-size="15.5" text-anchor="end" fill="#111" font-style="italic">Cd8b1</text>
<rect x="407.4" y="1461.9" width="44.9" height="18.1" fill="#FFFDFC"/>
<rect x="451.7" y="1461.9" width="45" height="18.1" fill="#5F7DBE"/>
<text x="400.5" y="1476.2" font-size="15.5" text-anchor="end" fill="#111" font-style="italic">Ccnd2</text>
<rect x="407.4" y="1479.4" width="44.9" height="18.1" fill="#FFFFFF"/>
<rect x="451.7" y="1479.4" width="45" height="18.1" fill="#FFFAF9"/>
<text x="400.5" y="1493.7" font-size="15.5" text-anchor="end" fill="#111" font-style="italic">Glcci1</text>
<rect x="407.4" y="1496.9" width="44.9" height="18.1" fill="#FFFFFF"/>
<rect x="451.7" y="1496.9" width="45" height="18.1" fill="#FCEBE7"/>
<text x="400.5" y="1511.2" font-size="15.5" text-anchor="end" fill="#111" font-style="italic">Cd4</text>
<rect x="407.4" y="1514.4" width="44.9" height="18.1" fill="#FFFFFF"/>
<rect x="451.7" y="1514.4" width="45" height="18.1" fill="#F8D5CD"/>
<text x="400.5" y="1528.7" font-size="15.5" text-anchor="end" fill="#111" font-style="italic">Ccng2</text>
<rect x="407.4" y="1531.8" width="44.9" height="18.1" fill="#4660A8"/>
<rect x="451.7" y="1531.8" width="45" height="18.1" fill="#CCDAF2"/>
<text x="400.5" y="1546.2" font-size="15.5" text-anchor="end" fill="#111" font-style="italic">Arhgef11</text>
<rect x="407.4" y="1549.3" width="44.9" height="18.1" fill="#E03A1E"/>
<rect x="451.7" y="1549.3" width="45" height="18.1" fill="#FDF1EE"/>
<text x="400.5" y="1563.7" font-size="15.5" text-anchor="end" fill="#111" font-style="italic">Gzma</text>
<rect x="407.4" y="1566.8" width="44.9" height="18.1" fill="#FFFFFF"/>
<rect x="451.7" y="1566.8" width="45" height="18.1" fill="#5874B8"/>
<text x="400.5" y="1581.1" font-size="15.5" text-anchor="end" fill="#111" font-style="italic">Cd7</text>
<rect x="407.4" y="1584.3" width="44.9" height="18.1" fill="#FFFCFB"/>
<rect x="451.7" y="1584.3" width="45" height="18.1" fill="#4A63AA"/>
<text x="400.5" y="1598.6" font-size="15.5" text-anchor="end" fill="#111" font-style="italic">Nkg7</text>
<rect x="407.4" y="1601.8" width="44.9" height="18.1" fill="#FEF3F0"/>
<rect x="451.7" y="1601.8" width="45" height="18.1" fill="#FFFFFF"/>
<text x="400.5" y="1616.1" font-size="15.5" text-anchor="end" fill="#111" font-style="italic">Il7r</text>
<rect x="407.4" y="1619.3" width="44.9" height="18.1" fill="#FEF8F6"/>
<rect x="451.7" y="1619.3" width="45" height="18.1" fill="#4A63AA"/>
<text x="400.5" y="1633.6" font-size="15.5" text-anchor="end" fill="#111" font-style="italic">Tcrg-C2</text>
<rect x="407.4" y="1636.8" width="44.9" height="18.1" fill="#FFFFFF"/>
<rect x="451.7" y="1636.8" width="45" height="18.1" fill="#4A63AA"/>
<text x="400.5" y="1651.1" font-size="15.5" text-anchor="end" fill="#111" font-style="italic">Tcrg-C4</text>
<rect x="407.4" y="1654.3" width="44.9" height="18.1" fill="#FFFFFF"/>
<rect x="451.7" y="1654.3" width="45" height="18.1" fill="#5370B5"/>
<text x="400.5" y="1668.6" font-size="15.5" text-anchor="end" fill="#111" font-style="italic">Tcrg-C1</text>
<rect x="407.4" y="1671.8" width="44.9" height="18.1" fill="#FFFFFF"/>
<rect x="451.7" y="1671.8" width="45" height="18.1" fill="#4A63AA"/>
<text x="400.5" y="1686.1" font-size="15.5" text-anchor="end" fill="#111" font-style="italic">Tcrg-V1</text>
<rect x="407.4" y="1689.2" width="44.9" height="18.1" fill="#FBE1DB"/>
<rect x="451.7" y="1689.2" width="45" height="18.1" fill="#6383C2"/>
<text x="400.5" y="1703.6" font-size="15.5" text-anchor="end" fill="#111" font-style="italic">Tcrg-V2</text>
<rect x="407.4" y="1706.7" width="44.9" height="18.1" fill="#7F9ED3"/>
<rect x="451.7" y="1706.7" width="45" height="18.1" fill="#4A63AA"/>
<text x="400.5" y="1721.1" font-size="15.5" text-anchor="end" fill="#111" font-style="italic">Tcrg-V3</text>
<rect x="407.4" y="1724.2" width="44.9" height="18.1" fill="#FFFFFF"/>
<rect x="451.7" y="1724.2" width="45" height="18.1" fill="#4E68AE"/>
<text x="400.5" y="1738.6" font-size="15.5" text-anchor="end" fill="#111" font-style="italic">Tcrg-V4</text>
<rect x="407.4" y="1741.7" width="44.9" height="18.1" fill="#FFFFFF"/>
<rect x="451.7" y="1741.7" width="45" height="18.1" fill="#4E68AE"/>
<text x="400.5" y="1756" font-size="15.5" text-anchor="end" fill="#111" font-style="italic">Tcrg-V5</text>
<rect x="407.4" y="1759.2" width="44.9" height="18.1" fill="#FFFFFF"/>
<rect x="451.7" y="1759.2" width="45" height="18.1" fill="#4A63AA"/>
<text x="400.5" y="1773.5" font-size="15.5" text-anchor="end" fill="#111" font-style="italic">Tcrg-V7</text>
<rect x="407.4" y="1776.7" width="44.9" height="18.1" fill="#4A63AA"/>
<rect x="451.7" y="1776.7" width="45" height="18.1" fill="#B8CCEC"/>
<text x="400.5" y="1791" font-size="15.5" text-anchor="end" fill="#111" font-style="italic">Trav3-3</text>
<rect x="407.4" y="1794.2" width="44.9" height="18.1" fill="#4E68AE"/>
<rect x="451.7" y="1794.2" width="45" height="18.1" fill="#FFFFFF"/>
<text x="400.5" y="1808.5" font-size="15.5" text-anchor="end" fill="#111" font-style="italic">Trav3-4</text>
<rect x="407.4" y="1811.7" width="44.9" height="18.1" fill="#4E68AE"/>
<rect x="451.7" y="1811.7" width="45" height="18.1" fill="#FFFFFF"/>
<text x="400.5" y="1826" font-size="15.5" text-anchor="end" fill="#111" font-style="italic">Trav-5-4</text>
<rect x="407.4" y="1829.2" width="44.9" height="18.1" fill="#4E68AE"/>
<rect x="451.7" y="1829.2" width="45" height="18.1" fill="#6A89C6"/>
<text x="400.5" y="1843.5" font-size="15.5" text-anchor="end" fill="#111" font-style="italic">Trav7-6</text>
<rect x="407.4" y="1846.7" width="44.9" height="18.1" fill="#5672B6"/>
<rect x="451.7" y="1846.7" width="45" height="18.1" fill="#FFFFFF"/>
<text x="400.5" y="1861" font-size="15.5" text-anchor="end" fill="#111" font-style="italic">Trav8-2</text>
<rect x="407.4" y="1864.2" width="44.9" height="18.1" fill="#4A63AA"/>
<rect x="451.7" y="1864.2" width="45" height="18.1" fill="#6A89C6"/>
<text x="400.5" y="1878.5" font-size="15.5" text-anchor="end" fill="#111" font-style="italic">Trav9-4</text>
<rect x="407.4" y="1881.6" width="44.9" height="18.1" fill="#4A63AA"/>
<rect x="451.7" y="1881.6" width="45" height="18.1" fill="#6A89C6"/>
<text x="400.5" y="1896" font-size="15.5" text-anchor="end" fill="#111" font-style="italic">Trav12-1</text>
<rect x="407.4" y="1899.1" width="44.9" height="18.1" fill="#4E68AE"/>
<rect x="451.7" y="1899.1" width="45" height="18.1" fill="#FFFFFF"/>
<text x="400.5" y="1913.5" font-size="15.5" text-anchor="end" fill="#111" font-style="italic">Trav19</text>
<rect x="407.4" y="1426.9" width="89.3" height="489.7" fill="none" stroke="#2a2a2a" stroke-width="1.4"/>
<rect x="526.6" y="1727.7" width="18.8" height="17.9" fill="#E03A1E"/>
<rect x="526.6" y="1745.2" width="18.8" height="17.9" fill="#E4553A"/>
<rect x="526.6" y="1762.7" width="18.8" height="17.9" fill="#EC8070"/>
<rect x="526.6" y="1780.2" width="18.8" height="17.9" fill="#F5B8AE"/>
<rect x="526.6" y="1815.1" width="18.8" height="17.9" fill="#B0C8EA"/>
<rect x="526.6" y="1832.6" width="18.8" height="17.9" fill="#7F9ED3"/>
<rect x="526.6" y="1850.1" width="18.8" height="17.9" fill="#5874B8"/>
<rect x="526.6" y="1867.6" width="18.8" height="17.9" fill="#4660A8"/>
<text x="550" y="1741" font-size="14" text-anchor="start" fill="#000">16</text>
<text x="550" y="1776.6" font-size="14" text-anchor="start" fill="#000">12</text>
<text x="550" y="1811.7" font-size="14" text-anchor="start" fill="#000">8</text>
<text x="550" y="1846.6" font-size="14" text-anchor="start" fill="#000">4</text>
<text x="550" y="1881.1" font-size="14" text-anchor="start" fill="#000">0</text>
<text x="506.1" y="1906" font-size="19" text-anchor="start" fill="#000">UMI/cell</text>
<text x="155.9" y="2039.3" font-size="19.5" text-anchor="start" fill="#000">DPbl</text>
<text x="208" y="2039.3" font-size="19.5" text-anchor="start" fill="#000">DPsm</text>
<line x1="172.9" y1="2045.3" x2="177.4" y2="2054.3" stroke="#000" stroke-width="1.8"/>
<line x1="219.1" y1="2045.3" x2="219.1" y2="2054.3" stroke="#000" stroke-width="1.8"/>
<rect x="152.8" y="2058.3" width="44.9" height="18" fill="#E03A1E"/>
<rect x="197.1" y="2058.3" width="44.6" height="18" fill="#4A63AA"/>
<text x="147.4" y="2072.7" font-size="15.75" text-anchor="end" fill="#111" font-style="italic">Top2a</text>
<rect x="152.8" y="2075.7" width="44.9" height="18" fill="#E24D30"/>
<rect x="197.1" y="2075.7" width="44.6" height="18" fill="#4E68AE"/>
<text x="147.4" y="2090.1" font-size="15.75" text-anchor="end" fill="#111" font-style="italic">Mki67</text>
<rect x="152.8" y="2093.1" width="44.9" height="18" fill="#E5604A"/>
<rect x="197.1" y="2093.1" width="44.6" height="18" fill="#4A63AA"/>
<text x="147.4" y="2107.5" font-size="15.75" text-anchor="end" fill="#111" font-style="italic">Ccna2</text>
<rect x="152.8" y="2110.5" width="44.9" height="18" fill="#E5604A"/>
<rect x="197.1" y="2110.5" width="44.6" height="18" fill="#4A63AA"/>
<text x="147.4" y="2124.9" font-size="15.75" text-anchor="end" fill="#111" font-style="italic">Kif11</text>
<rect x="152.8" y="2127.9" width="44.9" height="18" fill="#E5604A"/>
<rect x="197.1" y="2127.9" width="44.6" height="18" fill="#5F7DBE"/>
<text x="147.4" y="2142.3" font-size="15.75" text-anchor="end" fill="#111" font-style="italic">Ccnb2</text>
<rect x="152.8" y="2145.3" width="44.9" height="18" fill="#EE9585"/>
<rect x="197.1" y="2145.3" width="44.6" height="18" fill="#5874B8"/>
<text x="147.4" y="2159.7" font-size="15.75" text-anchor="end" fill="#111" font-style="italic">Ect2</text>
<rect x="152.8" y="2162.7" width="44.9" height="18" fill="#EE9585"/>
<rect x="197.1" y="2162.7" width="44.6" height="18" fill="#5874B8"/>
<text x="147.4" y="2177.1" font-size="15.75" text-anchor="end" fill="#111" font-style="italic">Plk1</text>
<rect x="152.8" y="2180.1" width="44.9" height="18" fill="#EE9A89"/>
<rect x="197.1" y="2180.1" width="44.6" height="18" fill="#4E68AE"/>
<text x="147.4" y="2194.5" font-size="15.75" text-anchor="end" fill="#111" font-style="italic">Rrm2</text>
<rect x="152.8" y="2197.5" width="44.9" height="18" fill="#EFA090"/>
<rect x="197.1" y="2197.5" width="44.6" height="18" fill="#4E68AE"/>
<text x="147.4" y="2211.9" font-size="15.75" text-anchor="end" fill="#111" font-style="italic">Tpx2</text>
<rect x="152.8" y="2214.9" width="44.9" height="18" fill="#F0A898"/>
<rect x="197.1" y="2214.9" width="44.6" height="18" fill="#4E68AE"/>
<text x="147.4" y="2229.3" font-size="15.75" text-anchor="end" fill="#111" font-style="italic">Kpna2</text>
<rect x="152.8" y="2232.3" width="44.9" height="18" fill="#F4B8AB"/>
<rect x="197.1" y="2232.3" width="44.6" height="18" fill="#4A63AA"/>
<text x="147.4" y="2246.7" font-size="15.75" text-anchor="end" fill="#111" font-style="italic">Kif15</text>
<rect x="152.8" y="2249.7" width="44.9" height="18" fill="#F4B8AB"/>
<rect x="197.1" y="2249.7" width="44.6" height="18" fill="#4A63AA"/>
<text x="147.4" y="2264.1" font-size="15.75" text-anchor="end" fill="#111" font-style="italic">Knl1</text>
<rect x="152.8" y="2267.1" width="44.9" height="18" fill="#F4B8AB"/>
<rect x="197.1" y="2267.1" width="44.6" height="18" fill="#4A63AA"/>
<text x="147.4" y="2281.5" font-size="15.75" text-anchor="end" fill="#111" font-style="italic">Pclaf</text>
<rect x="152.8" y="2284.5" width="44.9" height="18" fill="#F4B8AB"/>
<rect x="197.1" y="2284.5" width="44.6" height="18" fill="#4A63AA"/>
<text x="147.4" y="2298.9" font-size="15.75" text-anchor="end" fill="#111" font-style="italic">Ncapg2</text>
<rect x="152.8" y="2301.9" width="44.9" height="18" fill="#F4B8AB"/>
<rect x="197.1" y="2301.9" width="44.6" height="18" fill="#4A63AA"/>
<text x="147.4" y="2316.3" font-size="15.75" text-anchor="end" fill="#111" font-style="italic">Nusap1</text>
<rect x="152.8" y="2319.3" width="44.9" height="18" fill="#F5BCB0"/>
<rect x="197.1" y="2319.3" width="44.6" height="18" fill="#4A63AA"/>
<text x="147.4" y="2333.7" font-size="15.75" text-anchor="end" fill="#111" font-style="italic">Prc1</text>
<rect x="152.8" y="2336.7" width="44.9" height="18" fill="#F5BCB0"/>
<rect x="197.1" y="2336.7" width="44.6" height="18" fill="#4A63AA"/>
<text x="147.4" y="2351.1" font-size="15.75" text-anchor="end" fill="#111" font-style="italic">Aurkb</text>
<rect x="152.8" y="2354.1" width="44.9" height="18" fill="#F6C1B5"/>
<rect x="197.1" y="2354.1" width="44.6" height="18" fill="#4A63AA"/>
<text x="147.4" y="2368.5" font-size="15.75" text-anchor="end" fill="#111" font-style="italic">Cdk1</text>
<rect x="152.8" y="2371.5" width="44.9" height="18" fill="#F6C1B5"/>
<rect x="197.1" y="2371.5" width="44.6" height="18" fill="#4A63AA"/>
<text x="147.4" y="2385.9" font-size="15.75" text-anchor="end" fill="#111" font-style="italic">Tacc3</text>
<rect x="152.8" y="2388.9" width="44.9" height="18" fill="#F6C4B9"/>
<rect x="197.1" y="2388.9" width="44.6" height="18" fill="#4A63AA"/>
<text x="147.4" y="2403.3" font-size="15.75" text-anchor="end" fill="#111" font-style="italic">Ube2c</text>
<rect x="152.8" y="2406.3" width="44.9" height="18" fill="#5874B8"/>
<rect x="197.1" y="2406.3" width="44.6" height="18" fill="#FDEDE9"/>
<text x="147.4" y="2420.7" font-size="15.75" text-anchor="end" fill="#111" font-style="italic">Cd52</text>
<rect x="152.8" y="2058.3" width="88.9" height="365.4" fill="none" stroke="#2a2a2a" stroke-width="1.4"/>
<rect x="276" y="2128.2" width="21.3" height="17.8" fill="#E03A1E"/>
<rect x="276" y="2145.6" width="21.3" height="17.8" fill="#E66A50"/>
<rect x="276" y="2163" width="21.3" height="17.8" fill="#EE9585"/>
<rect x="276" y="2180.4" width="21.3" height="17.8" fill="#FADAD3"/>
<rect x="276" y="2197.8" width="21.3" height="17.8" fill="#D0DEF4"/>
<rect x="276" y="2215.2" width="21.3" height="17.8" fill="#86A4D6"/>
<rect x="276" y="2232.6" width="21.3" height="17.8" fill="#5874B8"/>
<rect x="276" y="2250" width="21.3" height="17.8" fill="#4660A8"/>
<text x="300.9" y="2142.2" font-size="14" text-anchor="start" fill="#000">7000</text>
<text x="300.9" y="2176.6" font-size="14" text-anchor="start" fill="#000">5000</text>
<text x="300.9" y="2211.4" font-size="14" text-anchor="start" fill="#000">3000</text>
<text x="300.9" y="2246.5" font-size="14" text-anchor="start" fill="#000">1000</text>
<text x="300.9" y="2264.1" font-size="14" text-anchor="start" fill="#000">0</text>
<text x="258.2" y="2289.2" font-size="19" text-anchor="start" fill="#000">Normalized</text>
<text x="258.2" y="2309.5" font-size="19" text-anchor="start" fill="#000">array counts</text>
<text x="440.5" y="2038.8" font-size="19.5" text-anchor="start" fill="#000">DPbl</text>
<text x="492.1" y="2038.8" font-size="19.5" text-anchor="start" fill="#000">DPsm</text>
<line x1="456.6" y1="2044.8" x2="461.1" y2="2054.4" stroke="#000" stroke-width="1.8"/>
<line x1="503.4" y1="2044.8" x2="503.4" y2="2054.4" stroke="#000" stroke-width="1.8"/>
<rect x="437.4" y="2058.4" width="44.5" height="18" fill="#EE9585"/>
<rect x="481.3" y="2058.4" width="44.9" height="18" fill="#6A89C6"/>
<text x="431.5" y="2072.8" font-size="15.75" text-anchor="end" fill="#111" font-style="italic">Top2a</text>
<rect x="437.4" y="2075.8" width="44.5" height="18" fill="#F8D3CA"/>
<rect x="481.3" y="2075.8" width="44.9" height="18" fill="#5F7DBE"/>
<text x="431.5" y="2090.2" font-size="15.75" text-anchor="end" fill="#111" font-style="italic">Mki67</text>
<rect x="437.4" y="2093.2" width="44.5" height="18" fill="#F3B3A5"/>
<rect x="481.3" y="2093.2" width="44.9" height="18" fill="#5370B5"/>
<text x="431.5" y="2107.6" font-size="15.75" text-anchor="end" fill="#111" font-style="italic">Ccna2</text>
<rect x="437.4" y="2110.6" width="44.5" height="18" fill="#FCEBE7"/>
<rect x="481.3" y="2110.6" width="44.9" height="18" fill="#4A63AA"/>
<text x="431.5" y="2125" font-size="15.75" text-anchor="end" fill="#111" font-style="italic">Kif11</text>
<rect x="437.4" y="2128" width="44.5" height="18" fill="#F5BCB0"/>
<rect x="481.3" y="2128" width="44.9" height="18" fill="#DCE6F6"/>
<text x="431.5" y="2142.4" font-size="15.75" text-anchor="end" fill="#111" font-style="italic">Ccnb2</text>
<rect x="437.4" y="2145.4" width="44.5" height="18" fill="#FFF8F6"/>
<rect x="481.3" y="2145.4" width="44.9" height="18" fill="#4A63AA"/>
<text x="431.5" y="2159.8" font-size="15.75" text-anchor="end" fill="#111" font-style="italic">Ect2</text>
<rect x="437.4" y="2162.8" width="44.5" height="18" fill="#FEF3F0"/>
<rect x="481.3" y="2162.8" width="44.9" height="18" fill="#4660A8"/>
<text x="431.5" y="2177.2" font-size="15.75" text-anchor="end" fill="#111" font-style="italic">Plk1</text>
<rect x="437.4" y="2180.2" width="44.5" height="18" fill="#F5BCB0"/>
<rect x="481.3" y="2180.2" width="44.9" height="18" fill="#5370B5"/>
<text x="431.5" y="2194.6" font-size="15.75" text-anchor="end" fill="#111" font-style="italic">Rrm2</text>
<rect x="437.4" y="2197.6" width="44.5" height="18" fill="#FCE7E3"/>
<rect x="481.3" y="2197.6" width="44.9" height="18" fill="#5370B5"/>
<text x="431.5" y="2212" font-size="15.75" text-anchor="end" fill="#111" font-style="italic">Tpx2</text>
<rect x="437.4" y="2215" width="44.5" height="18" fill="#F9D9D2"/>
<rect x="481.3" y="2215" width="44.9" height="18" fill="#5874B8"/>
<text x="431.5" y="2229.4" font-size="15.75" text-anchor="end" fill="#111" font-style="italic">Kpna2</text>
<rect x="437.4" y="2232.4" width="44.5" height="18" fill="#FFFCFB"/>
<rect x="481.3" y="2232.4" width="44.9" height="18" fill="#4A63AA"/>
<text x="431.5" y="2246.8" font-size="15.75" text-anchor="end" fill="#111" font-style="italic">Kif15</text>
<rect x="437.4" y="2249.8" width="44.5" height="18" fill="#FEF3F0"/>
<rect x="481.3" y="2249.8" width="44.9" height="18" fill="#4E68AE"/>
<text x="431.5" y="2264.2" font-size="15.75" text-anchor="end" fill="#111" font-style="italic">Knl1</text>
<rect x="437.4" y="2267.2" width="44.5" height="18" fill="#E97661"/>
<rect x="481.3" y="2267.2" width="44.9" height="18" fill="#8AA7D8"/>
<text x="431.5" y="2281.6" font-size="15.75" text-anchor="end" fill="#111" font-style="italic">Pclaf</text>
<rect x="437.4" y="2284.6" width="44.5" height="18" fill="#8AA7D8"/>
<rect x="481.3" y="2284.6" width="44.9" height="18" fill="#4660A8"/>
<text x="431.5" y="2299" font-size="15.75" text-anchor="end" fill="#111" font-style="italic">Ncapg2</text>
<rect x="437.4" y="2302" width="44.5" height="18" fill="#F8D3CA"/>
<rect x="481.3" y="2302" width="44.9" height="18" fill="#4A63AA"/>
<text x="431.5" y="2316.4" font-size="15.75" text-anchor="end" fill="#111" font-style="italic">Nusap1</text>
<rect x="437.4" y="2319.4" width="44.5" height="18" fill="#FDECE8"/>
<rect x="481.3" y="2319.4" width="44.9" height="18" fill="#4660A8"/>
<text x="431.5" y="2333.8" font-size="15.75" text-anchor="end" fill="#111" font-style="italic">Prc1</text>
<rect x="437.4" y="2336.8" width="44.5" height="18" fill="#FCE7E3"/>
<rect x="481.3" y="2336.8" width="44.9" height="18" fill="#4660A8"/>
<text x="431.5" y="2351.2" font-size="15.75" text-anchor="end" fill="#111" font-style="italic">Aurkb</text>
<rect x="437.4" y="2354.2" width="44.5" height="18" fill="#F9D6CE"/>
<rect x="481.3" y="2354.2" width="44.9" height="18" fill="#4A63AA"/>
<text x="431.5" y="2368.6" font-size="15.75" text-anchor="end" fill="#111" font-style="italic">Cdk1</text>
<rect x="437.4" y="2371.6" width="44.5" height="18" fill="#FDEEEA"/>
<rect x="481.3" y="2371.6" width="44.9" height="18" fill="#4660A8"/>
<text x="431.5" y="2386" font-size="15.75" text-anchor="end" fill="#111" font-style="italic">Tacc3</text>
<rect x="437.4" y="2389" width="44.5" height="18" fill="#E03A1E"/>
<rect x="481.3" y="2389" width="44.9" height="18" fill="#B5CAEA"/>
<text x="431.5" y="2403.4" font-size="15.75" text-anchor="end" fill="#111" font-style="italic">Ube2c</text>
<rect x="437.4" y="2406.4" width="44.5" height="18" fill="#FFFFFF"/>
<rect x="481.3" y="2406.4" width="44.9" height="18" fill="#FDEDE9"/>
<text x="431.5" y="2420.8" font-size="15.75" text-anchor="end" fill="#111" font-style="italic">Cd52</text>
<rect x="437.4" y="2058.4" width="88.8" height="365.4" fill="none" stroke="#2a2a2a" stroke-width="1.4"/>
<rect x="560.3" y="2093.1" width="21.3" height="17.8" fill="#E03A1E"/>
<rect x="560.3" y="2110.5" width="21.3" height="17.9" fill="#E4553A"/>
<rect x="560.3" y="2128" width="21.3" height="17.8" fill="#EA7763"/>
<rect x="560.3" y="2145.4" width="21.3" height="17.9" fill="#F1A597"/>
<rect x="560.3" y="2162.9" width="21.3" height="17.8" fill="#FBE3DE"/>
<rect x="560.3" y="2180.3" width="21.3" height="17.8" fill="#DCE6F6"/>
<rect x="560.3" y="2197.8" width="21.3" height="17.9" fill="#A9C1E6"/>
<rect x="560.3" y="2215.2" width="21.3" height="17.8" fill="#7C9AD0"/>
<rect x="560.3" y="2232.7" width="21.3" height="17.9" fill="#5874B8"/>
<rect x="560.3" y="2250.2" width="21.3" height="17.8" fill="#4660A8"/>
<text x="588.9" y="2107.3" font-size="14" text-anchor="start" fill="#000">9</text>
<text x="588.9" y="2142" font-size="14" text-anchor="start" fill="#000">7</text>
<text x="588.9" y="2176.9" font-size="14" text-anchor="start" fill="#000">5</text>
<text x="588.9" y="2211.4" font-size="14" text-anchor="start" fill="#000">3</text>
<text x="588.9" y="2244.2" font-size="14" text-anchor="start" fill="#000">1</text>
<text x="588.9" y="2263.7" font-size="14" text-anchor="start" fill="#000">0</text>
<text x="547.1" y="2291.4" font-size="19" text-anchor="start" fill="#000">UMI/cell</text>
<polyline points="1182.6,112.5 1201.3,164 1167.9,189.4 1197.7,185.4 1230.1,192.1 1130.1,289.8 1136.8,280.4 1146.8,281.4 1136.1,316.9 1132.4,314.2 1207.4,310.2 1232.1,306.2 1162.2,323.2 1118.4,327.6 1150.9,334.8 1106.6,356.9 1129.8,363 1116.4,374.7 1117.5,377.5 1123.9,375.3 1103,376.7 1105.2,375.8 1172.7,377.5 1136.4,383.6 1184.7,390.6 1130.3,397.6 1139.2,394.8 1108.6,400.9 1101.6,407.3 1084.3,405.9 1089.1,404.8 1087.7,410.1 1132.8,410.7 1158.2,422.6 1132.8,424 1086.3,419.9 1082.9,427.7 1097.4,431 1101.6,434.4 1079.9,437.1 1096,442.7 1114.1,445.5 1118.6,443.8 1142.6,439.4 1100.2,450.5 1100.2,452.8 1123.9,456.9 1078.5,461.1 1086.3,460.6 1093.2,460.6 1152.3,468.1 1167.9,477 1116.9,475.6 1135.1,477.8 1109.1,482.6 1110,489 1104.4,495.1 1113.6,499.6 1096.9,499.6 1104.4,506.8 1093.2,512.4 1098.8,513 1124,547.7 1264.1,544.6 1166.9,564.5 1185.7,564.5 1116,573.2 1124,571.1 1136.2,569 1155.4,580.5 1224,585 1227.2,601.4 1141.5,603.5 1153.7,602.4 1120.6,591.3 1118.5,599.3 1110.8,594.1 1109,599.3 1103.1,580.1 1102.1,586.4 1108,603.1 1087.5,534.1 1088.5,526.1 1080.1,522 1084.7,515.7 1099,512.5 1093.7,512.9 1103.8,507.7 1080.1,554.7 1084.7,551.6 1087.8,556.4 1097.2,562 1099.7,562.7 1076,562.7 1068.3,554.7 1095.8,442.7 1100.4,449.1 1114,446 1118.5,444 1123.9,457.2 1168.3,477.1 1135.7,478 1109.4,482.6 1104.5,494.7 1104,507.4 1096.7,498.9 1093.7,512.8 1099.1,512.8 1056,470.8 1057.8,483.5 1048.7,484.4 1064.1,494 1056,498 1054.2,502 1045.1,505.6 1068.6,498.9 1074.1,508.9 1070.5,505.2 1084,501.6 1085,514.3 1079.5,522.4 1086.8,518.8 1088.6,526.1 1086.8,534.2 1066.8,517.4 1059.6,515.7 1056,518.3 1049.6,516.1 1047.8,523.3 1039.7,513.4 1032.4,520.6 1037.8,528.4 1023.7,532 1030.2,536.9 1056,523.7 1051.4,527 1060.5,534.2 1057.8,539.7 1040.6,543.3 1048.7,542.9 1044.5,550.5 1055.1,553.2 1068.6,554.2 1080.4,553.8 1085,550.9 1088.2,556.9 1062.8,558.1 1075.9,563.2 1067.7,563.2 1096.7,561.8 1099.4,562.8 1124.5,547.8 1032.8,549.6 1030.6,565 1048.7,554.2 1036.9,565 1045.1,562.8 1049.6,565 1054.7,568.6 1054.2,575 1063.6,579.2 1069,576.8 1070.5,583.1 1075.9,582.2 1077.7,578.6 1081,585 1087.7,588.6 1088.6,594.9 1087.7,602.2 1103.1,579.5 1101.8,585.9 1103.1,589.5 1110.3,594 1112.1,597.6 1108.5,603.1 1116.7,573.2 1123.9,570.8 1136,569 1121.2,591.3 1119.4,599.1 1142.6,603.1 1153.8,602.2 1155.3,580.4 1167.4,564.3 1185.5,564.3 1059.6,590.4 1066.8,593.1 1074.1,592.2 1078.6,594 1067.7,597.6 1074.1,597.6 1079.5,599.4 1056,594.9 1061.4,599.4 1056,602.2 1049.6,601.3 1045.1,597.6 1041.5,601.3 1034.2,601.6 1030.2,594.9 1025.2,599.4 1024.3,594 1018.8,600.4 1012.5,602.2 1008.9,599.4 735,587.2 782.9,550.1 801,574.3 798.6,601.7 815.7,584.9 823.9,586.5 811,592.1 808.7,597.3 814.6,602.5 827.8,592.1 828,602.5 836.3,580.5 835.5,583.9 843.8,582.6 844.5,586 840.2,591.6 833.5,596.3 838.4,603.2 843,596.8 997.8,584.3 1002.9,601.1 1017.1,542 973.7,602.8 1020.8,603.2 969.3,599.1 1004,571.2 998.3,562.3 1072.6,574.2 985.9,592.9 973.4,595.6 976.2,601.5 981.2,587.4 981.2,596.7 986.4,579.7 983,593.2 983.4,582 980.2,592 995.3,572.3 1015,590.6 968,603 990.9,582.3 1027.2,603.1 1036.8,540.4 995,582 1016.4,564.3 1034.8,552.8 996.8,569.2 1028.5,530.5 986.7,598.7 997,576.9 1071,483.2 987.6,590.6 998,593.5 1017,560.9 1058,580.1 1031.7,574.5 1028.3,543.7 993.2,600.2 976.1,591 991.9,576.8 1020.3,547 1005.8,557.2 989,602.6 1009.8,575.3 1013.8,572 993.7,585.8 984.7,601.5 1061.3,565.2 979.9,600.9 1005.1,582.7 1037.7,574.6 987.6,575.4 993.9,568.9 1007.4,595.5 1037.4,602.5 1003.3,565.2 1029.8,570.6 1013,555.2 984,585.1 1022.7,562.4 1015.1,578.2 1004.7,589.2 1020.9,553.4 972.5,598.9 1013.6,575.8 1047.9,504.9 1049.9,574.5 1026,555.2 1007.2,578.2 995.5,589.3 1020.7,565.2 1039,569.2 1008.8,587 981.2,584.5 1034,590.9 1030.7,526.4 1054.2,540.7 1006.8,552.1 1036.8,524.1 993.2,579.8 1065.8,501.9 1069.4,522.3 995.2,566.2 991.8,589.2 1061.9,496.1 1006.9,591.7 1004.8,554.4 1021.3,539.2 1018.2,567.9 1075.8,483 1000.3,577.6 1051.5,593.4 999.1,574.2 1067.4,485.5 1015.2,569.6 1033.8,595.3 1003,574.4 977.9,594.7 1032,599.4 1010.2,551.1 1023.5,559.6 1042.1,507.7 1071.6,548.4 996.2,601.1 1040.5,596.7 975.8,598 971,601.5 1034.2,528.3 1028,597 1050.6,551.1 1001.1,596.8 998.6,589.2 989.5,585.4 1022.8,586.4 1027.9,538.7 982.6,599.4 1009.1,569.1 1068,601.7 1011.3,595.5 1026.5,572.9 1055.4,559.1 1027.7,591.8 997.1,596.2 1029.9,601.3 1010.2,582.5 990.3,593.2 1038.3,587 1030,548.5 1017.8,589.3 1072.6,498.5 1090.7,501.3 1080.8,488.8 991.1,573 994.5,594 1067,477.2 1039.9,516.9 1012.2,568.2 987.6,582.2 1007.4,602 1036.8,515.4 1005.7,599.7 1024.1,552.5 1010,555.7 1044,512.3 1026.8,548 1083.7,534.5 1004.8,585.8 1002,584.1 1090,477.6 1067.5,529.9 1024.2,538.3 1049.7,534.2 1034.4,556.6 1052.7,537.3 1067.1,489.2 1002.5,559.3 1069.5,487.4 1026,541.8 1016.1,599.5 1089,492.9 1018.8,586.4 1034.4,547.3 999.8,600.8 999.2,567.1 1016.3,554 1006,567 1063.7,530.6 1031.3,555.5 1013.8,543.1 1009.4,561.5 1092.5,580.7 1053.1,549.5 1062.6,517.6 1028.7,585.9 989.4,578.4 1022.9,569.6 1053.9,582 1089.7,515.8 1038.6,552.6 1003.5,578.6 1021.2,543 1074.9,518.6 1042.9,520.6 1037.6,548.5 1049.4,538.4 1005.2,562.1 1010.9,547.8 1013.7,582.9 1076.1,496.7 1042.1,528.6 1023.3,573.3 1051.3,498.5 1048.1,520.1 1041.6,583.3 1031.1,591.3 1059.2,490.7 984.7,596 1040.3,524.9 1032.2,539.1 1079.1,563.1 1047.9,587.5 1026.7,533.5 1026.7,580 1062,548.8 1067.3,586.4 1076.7,534.7 1110.2,562.4 1105,542.3 1052,512.3 1113.9,601.2 1057.6,527.8 1071.6,525.6 1088.5,487.7 1097.2,532.1 1080.6,525.8 1065.6,543 1103.4,555.9 1086.2,597.7 1106.4,561.1 1054.4,545.8 1075.4,602 1085.7,473.8 1091.4,484.9 1098.2,524 1074.6,577.6 1092.7,572 1087.4,480.4 1034.4,573.3 1097.1,509.8 1079.7,538.4 1096.1,593.6 1026,576.5 1078.8,568.1 1093.7,568 869.3,603 880.2,603.1 841.5,588.2 856,595.7 863.9,594.2 832.3,587.3 872,599.8 868.6,598 849.2,602.7 874.2,602.4 864.1,597.2 867,600.7 854.8,603 857.2,590.1 848.6,595.6 860.3,593.9 849.4,592.6 859.9,597 877.6,601.7 861.4,599.6 858.8,600.9 854.4,591.8 844.5,600 834.1,601 852,602.3 854.1,599.6 850,587.7 853,594.5 863,602.6 833,590.3 846.4,591.8 854.4,588.3 838.5,595.9 839.6,599.4 830.8,600.2 848.1,599.9 839.3,583.1 866.5,595.5 837.5,589.8 852,590.1 851.4,598.3 875.1,599.8 841.9,584.7" fill="none" stroke="none" marker-start="url(#m)" marker-mid="url(#m)" marker-end="url(#m)"/>
<rect x="710.5" y="71.7" width="648" height="540.3" fill="none" stroke="#111" stroke-width="1.8"/>
<line x1="710.5" y1="612" x2="730.5" y2="612" stroke="#333" stroke-width="1.3"/>
<line x1="710.5" y1="595.1" x2="721.5" y2="595.1" stroke="#333" stroke-width="1.3"/>
<line x1="710.5" y1="578.2" x2="721.5" y2="578.2" stroke="#333" stroke-width="1.3"/>
<line x1="710.5" y1="561.3" x2="721.5" y2="561.3" stroke="#333" stroke-width="1.3"/>
<line x1="710.5" y1="544.5" x2="730.5" y2="544.5" stroke="#333" stroke-width="1.3"/>
<line x1="710.5" y1="527.6" x2="721.5" y2="527.6" stroke="#333" stroke-width="1.3"/>
<line x1="710.5" y1="510.7" x2="721.5" y2="510.7" stroke="#333" stroke-width="1.3"/>
<line x1="710.5" y1="493.8" x2="721.5" y2="493.8" stroke="#333" stroke-width="1.3"/>
<line x1="710.5" y1="476.9" x2="730.5" y2="476.9" stroke="#333" stroke-width="1.3"/>
<line x1="710.5" y1="460" x2="721.5" y2="460" stroke="#333" stroke-width="1.3"/>
<line x1="710.5" y1="443.1" x2="721.5" y2="443.1" stroke="#333" stroke-width="1.3"/>
<line x1="710.5" y1="426.2" x2="721.5" y2="426.2" stroke="#333" stroke-width="1.3"/>
<line x1="710.5" y1="409.4" x2="730.5" y2="409.4" stroke="#333" stroke-width="1.3"/>
<line x1="710.5" y1="392.5" x2="721.5" y2="392.5" stroke="#333" stroke-width="1.3"/>
<line x1="710.5" y1="375.6" x2="721.5" y2="375.6" stroke="#333" stroke-width="1.3"/>
<line x1="710.5" y1="358.7" x2="721.5" y2="358.7" stroke="#333" stroke-width="1.3"/>
<line x1="710.5" y1="341.8" x2="730.5" y2="341.8" stroke="#333" stroke-width="1.3"/>
<line x1="710.5" y1="324.9" x2="721.5" y2="324.9" stroke="#333" stroke-width="1.3"/>
<line x1="710.5" y1="308" x2="721.5" y2="308" stroke="#333" stroke-width="1.3"/>
<line x1="710.5" y1="291.1" x2="721.5" y2="291.1" stroke="#333" stroke-width="1.3"/>
<line x1="710.5" y1="274.2" x2="730.5" y2="274.2" stroke="#333" stroke-width="1.3"/>
<line x1="710.5" y1="257.4" x2="721.5" y2="257.4" stroke="#333" stroke-width="1.3"/>
<line x1="710.5" y1="240.5" x2="721.5" y2="240.5" stroke="#333" stroke-width="1.3"/>
<line x1="710.5" y1="223.6" x2="721.5" y2="223.6" stroke="#333" stroke-width="1.3"/>
<line x1="710.5" y1="206.7" x2="730.5" y2="206.7" stroke="#333" stroke-width="1.3"/>
<line x1="710.5" y1="189.8" x2="721.5" y2="189.8" stroke="#333" stroke-width="1.3"/>
<line x1="710.5" y1="172.9" x2="721.5" y2="172.9" stroke="#333" stroke-width="1.3"/>
<line x1="710.5" y1="156" x2="721.5" y2="156" stroke="#333" stroke-width="1.3"/>
<line x1="710.5" y1="139.2" x2="730.5" y2="139.2" stroke="#333" stroke-width="1.3"/>
<line x1="710.5" y1="122.3" x2="721.5" y2="122.3" stroke="#333" stroke-width="1.3"/>
<line x1="710.5" y1="105.4" x2="721.5" y2="105.4" stroke="#333" stroke-width="1.3"/>
<line x1="710.5" y1="88.5" x2="721.5" y2="88.5" stroke="#333" stroke-width="1.3"/>
<line x1="710.5" y1="71.6" x2="730.5" y2="71.6" stroke="#333" stroke-width="1.3"/>
<line x1="737.5" y1="612" x2="737.5" y2="601" stroke="#333" stroke-width="1.3"/>
<line x1="764.5" y1="612" x2="764.5" y2="601" stroke="#333" stroke-width="1.3"/>
<line x1="791.5" y1="612" x2="791.5" y2="601" stroke="#333" stroke-width="1.3"/>
<line x1="818.5" y1="612" x2="818.5" y2="591" stroke="#333" stroke-width="1.3"/>
<line x1="845.5" y1="612" x2="845.5" y2="601" stroke="#333" stroke-width="1.3"/>
<line x1="872.5" y1="612" x2="872.5" y2="591" stroke="#333" stroke-width="1.3"/>
<line x1="899.5" y1="612" x2="899.5" y2="601" stroke="#333" stroke-width="1.3"/>
<line x1="926.5" y1="612" x2="926.5" y2="591" stroke="#333" stroke-width="1.3"/>
<line x1="953.5" y1="612" x2="953.5" y2="601" stroke="#333" stroke-width="1.3"/>
<line x1="980.5" y1="612" x2="980.5" y2="591" stroke="#333" stroke-width="1.3"/>
<line x1="1007.5" y1="612" x2="1007.5" y2="601" stroke="#333" stroke-width="1.3"/>
<line x1="1034.5" y1="612" x2="1034.5" y2="591" stroke="#333" stroke-width="1.3"/>
<line x1="1061.5" y1="612" x2="1061.5" y2="601" stroke="#333" stroke-width="1.3"/>
<line x1="1088.5" y1="612" x2="1088.5" y2="591" stroke="#333" stroke-width="1.3"/>
<line x1="1115.5" y1="612" x2="1115.5" y2="601" stroke="#333" stroke-width="1.3"/>
<line x1="1142.5" y1="612" x2="1142.5" y2="591" stroke="#333" stroke-width="1.3"/>
<line x1="1169.5" y1="612" x2="1169.5" y2="601" stroke="#333" stroke-width="1.3"/>
<line x1="1196.5" y1="612" x2="1196.5" y2="601" stroke="#333" stroke-width="1.3"/>
<line x1="1223.5" y1="612" x2="1223.5" y2="601" stroke="#333" stroke-width="1.3"/>
<line x1="1250.5" y1="612" x2="1250.5" y2="591" stroke="#333" stroke-width="1.3"/>
<line x1="1277.5" y1="612" x2="1277.5" y2="601" stroke="#333" stroke-width="1.3"/>
<line x1="1304.5" y1="612" x2="1304.5" y2="601" stroke="#333" stroke-width="1.3"/>
<line x1="1331.5" y1="612" x2="1331.5" y2="601" stroke="#333" stroke-width="1.3"/>
<text x="704.8" y="616" font-size="20" text-anchor="end" fill="#000">0</text>
<text x="704.8" y="485.3" font-size="20" text-anchor="end" fill="#000">20</text>
<text x="704.8" y="348" font-size="20" text-anchor="end" fill="#000">40</text>
<text x="704.8" y="214.9" font-size="20" text-anchor="end" fill="#000">60</text>
<text x="704.8" y="85" font-size="20" text-anchor="end" fill="#000">80</text>
<text x="711.2" y="634.9" font-size="20" text-anchor="middle" fill="#000">-4</text>
<text x="817.7" y="634.9" font-size="20" text-anchor="middle" fill="#000">-2</text>
<text x="928.6" y="634.9" font-size="20" text-anchor="middle" fill="#000">0</text>
<text x="1034.1" y="634.9" font-size="20" text-anchor="middle" fill="#000">2</text>
<text x="1142.2" y="634.9" font-size="20" text-anchor="middle" fill="#000">4</text>
<text x="1249.5" y="634.9" font-size="20" text-anchor="middle" fill="#000">6</text>
<text x="1359.2" y="634.9" font-size="20" text-anchor="middle" fill="#000">8</text>
<text x="929.3" y="656.5" font-size="26.4">log<tspan font-size="17.3" dy="7">2</tspan><tspan dy="-7"> fold change</tspan></text>
<text transform="translate(663.3,347.5) rotate(-90)" font-size="26" text-anchor="middle">-log<tspan font-size="17" dy="7">10</tspan><tspan dy="-7">P</tspan></text>
<text x="747.3" y="107" font-size="26" text-anchor="start" fill="#000">DN3a</text>
<text x="930.4" y="107" font-size="26" text-anchor="start" fill="#000">DN3a/3b</text>
<polygon points="835,90.7 900.2,90.7 900.2,82.2 915.7,98.6 900.2,115 900.2,107.2 835,107.2" fill="#000"/>
<text x="1096.7" y="108.2" font-size="15.5" text-anchor="start" fill="#111" font-style="italic">Pclaf</text>
<text x="1238.8" y="155" font-size="15.5" text-anchor="start" fill="#111" font-style="italic">Fbxo5</text>
<text x="1246.2" y="175.8" font-size="15.5" text-anchor="start" fill="#111" font-style="italic">Pbk</text>
<text x="1074.6" y="175.8" font-size="15.5" text-anchor="start" fill="#111" font-style="italic">Rrm2</text>
<text x="1045.8" y="259.4" font-size="15.5" text-anchor="start" fill="#111" font-style="italic">Top2a</text>
<text x="1178.3" y="291.4" font-size="15.5" text-anchor="start" fill="#111" font-style="italic">Aurkb</text>
<text x="1271.2" y="275.1" font-size="15.5" text-anchor="start" fill="#111" font-style="italic">E2f8</text>
<text x="1005.7" y="299.5" font-size="15.5" text-anchor="start" fill="#111" font-style="italic">Hist1h2ap</text>
<text x="951.1" y="317.9" font-size="15.5" text-anchor="start" fill="#111" font-style="italic">Hist1h1b</text>
<text x="989.5" y="334.7" font-size="15.5" text-anchor="start" fill="#111" font-style="italic">Cdk1</text>
<text x="1042.2" y="329.9" font-size="15.5" text-anchor="start" fill="#111" font-style="italic">Tcf19</text>
<text x="1172.1" y="350.6" font-size="15.5" text-anchor="start" fill="#111" font-style="italic">Cdca5</text>
<text x="1186.6" y="369.5" font-size="15.5" text-anchor="start" fill="#111" font-style="italic">Nusap1</text>
<text x="1008.2" y="355" font-size="15.5" text-anchor="start" fill="#111" font-style="italic">Kif11</text>
<text x="1011" y="369.5" font-size="15.5" text-anchor="start" fill="#111" font-style="italic">Tyms</text>
<text x="1007.7" y="391.8" font-size="15.5" text-anchor="start" fill="#111" font-style="italic">Mki67</text>
<text x="992.1" y="408.5" font-size="15.5" text-anchor="start" fill="#111" font-style="italic">Ccna2</text>
<text x="912.1" y="419.1" font-size="15.5" text-anchor="start" fill="#111" font-style="italic">Hist1h2bk</text>
<text x="940.8" y="434.2" font-size="15.5" text-anchor="start" fill="#111" font-style="italic">Hist1h3b</text>
<text x="985.4" y="450.9" font-size="15.5" text-anchor="start" fill="#111" font-style="italic">Cdc45</text>
<text x="896.2" y="457.3" font-size="15.5" text-anchor="start" fill="#111" font-style="italic">Hist1h2an</text>
<text x="969.2" y="472.6" font-size="15.5" text-anchor="start" fill="#111" font-style="italic">Ncapg2</text>
<text x="958.9" y="489.9" font-size="15.5" text-anchor="start" fill="#111" font-style="italic">Kif15</text>
<text x="959.4" y="507.5" font-size="15.5" text-anchor="start" fill="#111" font-style="italic">Hmmr</text>
<text x="1180.5" y="414.1" font-size="15.5" text-anchor="start" fill="#111" font-style="italic">Prc1</text>
<text x="1236.8" y="423.9" font-size="15.5" text-anchor="start" fill="#111" font-style="italic">Hist1h2ah</text>
<text x="1182.4" y="433.1" font-size="15.5" text-anchor="start" fill="#111" font-style="italic">Ccnf</text>
<text x="1154.6" y="449" font-size="15.5" text-anchor="start" fill="#111" font-style="italic">Cdca2</text>
<text x="1167.1" y="466.2" font-size="15.5" text-anchor="start" fill="#111" font-style="italic">Hist1h1a</text>
<text x="1174.9" y="481" font-size="15.5" text-anchor="start" fill="#111" font-style="italic">Ncapg</text>
<text x="1164.3" y="496.3" font-size="15.5" text-anchor="start" fill="#111" font-style="italic">Shcbp1</text>
<text x="1123.9" y="512.2" font-size="15.5" text-anchor="start" fill="#111" font-style="italic">Bub1</text>
<text x="914.4" y="550.6" font-size="15.5" text-anchor="start" fill="#111" font-style="italic">Cd28</text>
<text x="895.6" y="564.5" font-size="15.5" text-anchor="start" fill="#111" font-style="italic">Ccnb1</text>
<text x="1236.2" y="569.2" font-size="15.5" text-anchor="start" fill="#111" font-style="italic">Ikzf3</text>
<line x1="1135.8" y1="105.2" x2="1168.5" y2="109.8" stroke="#fff" stroke-width="5.1" stroke-linecap="round"/>
<polygon points="1175.9,110.8 1166.9,113.6 1168,105.7" fill="#fff" stroke="#fff" stroke-width="2.4" stroke-linejoin="round"/>
<line x1="1234.4" y1="149.6" x2="1211.2" y2="159.1" stroke="#fff" stroke-width="5.1" stroke-linecap="round"/>
<polygon points="1204.3,162 1210.6,155.1 1213.7,162.5" fill="#fff" stroke="#fff" stroke-width="2.4" stroke-linejoin="round"/>
<line x1="1239.5" y1="172" x2="1208.1" y2="182.1" stroke="#fff" stroke-width="5.1" stroke-linecap="round"/>
<polygon points="1201,184.4 1207.9,178 1210.3,185.6" fill="#fff" stroke="#fff" stroke-width="2.4" stroke-linejoin="round"/>
<line x1="1119" y1="172" x2="1158.1" y2="185.6" stroke="#fff" stroke-width="5.1" stroke-linecap="round"/>
<polygon points="1165.2,188.1 1155.9,189.1 1158.5,181.5" fill="#fff" stroke="#fff" stroke-width="2.4" stroke-linejoin="round"/>
<line x1="1092.3" y1="257.3" x2="1118.9" y2="279.2" stroke="#fff" stroke-width="5.1" stroke-linecap="round"/>
<polygon points="1124.7,284 1115.6,281.7 1120.7,275.5" fill="#fff" stroke="#fff" stroke-width="2.4" stroke-linejoin="round"/>
<line x1="1171.9" y1="288.1" x2="1144.9" y2="310.2" stroke="#fff" stroke-width="5.1" stroke-linecap="round"/>
<polygon points="1139.1,314.9 1143.2,306.4 1148.2,312.6" fill="#fff" stroke="#fff" stroke-width="2.4" stroke-linejoin="round"/>
<line x1="1267.9" y1="274.7" x2="1241.3" y2="296.7" stroke="#fff" stroke-width="5.1" stroke-linecap="round"/>
<polygon points="1235.5,301.5 1239.5,293 1244.6,299.2" fill="#fff" stroke="#fff" stroke-width="2.4" stroke-linejoin="round"/>
<line x1="1080.6" y1="296.8" x2="1107.2" y2="318.5" stroke="#fff" stroke-width="5.1" stroke-linecap="round"/>
<polygon points="1113,323.2 1103.9,320.9 1108.9,314.7" fill="#fff" stroke="#fff" stroke-width="2.4" stroke-linejoin="round"/>
<line x1="1019.4" y1="313.9" x2="1096.9" y2="368.2" stroke="#fff" stroke-width="5.1" stroke-linecap="round"/>
<polygon points="1103,372.5 1093.7,370.9 1098.3,364.3" fill="#fff" stroke="#fff" stroke-width="2.4" stroke-linejoin="round"/>
<line x1="1027.7" y1="330.1" x2="1092.4" y2="370.7" stroke="#fff" stroke-width="5.1" stroke-linecap="round"/>
<polygon points="1098.8,374.7 1089.5,373.6 1093.7,366.8" fill="#fff" stroke="#fff" stroke-width="2.4" stroke-linejoin="round"/>
<line x1="1082.1" y1="329.3" x2="1109.6" y2="365.9" stroke="#fff" stroke-width="5.1" stroke-linecap="round"/>
<polygon points="1114.1,371.9 1105.8,367.5 1112.2,362.7" fill="#fff" stroke="#fff" stroke-width="2.4" stroke-linejoin="round"/>
<line x1="1168.5" y1="346.8" x2="1139.4" y2="357.3" stroke="#fff" stroke-width="5.1" stroke-linecap="round"/>
<polygon points="1132.3,359.9 1138.9,353.2 1141.7,360.8" fill="#fff" stroke="#fff" stroke-width="2.4" stroke-linejoin="round"/>
<line x1="1183.8" y1="363.6" x2="1129.9" y2="373.4" stroke="#fff" stroke-width="5.1" stroke-linecap="round"/>
<polygon points="1122.5,374.7 1130.2,369.2 1131.6,377.1" fill="#fff" stroke="#fff" stroke-width="2.4" stroke-linejoin="round"/>
<line x1="1047.2" y1="351.6" x2="1095.9" y2="394.1" stroke="#fff" stroke-width="5.1" stroke-linecap="round"/>
<polygon points="1101.6,399 1092.6,396.4 1097.8,390.4" fill="#fff" stroke="#fff" stroke-width="2.4" stroke-linejoin="round"/>
<line x1="1050.6" y1="366.9" x2="1075.3" y2="396" stroke="#fff" stroke-width="5.1" stroke-linecap="round"/>
<polygon points="1080.1,401.7 1071.6,397.8 1077.7,392.6" fill="#fff" stroke="#fff" stroke-width="2.4" stroke-linejoin="round"/>
<line x1="1048.6" y1="390.6" x2="1074.8" y2="411.1" stroke="#fff" stroke-width="5.1" stroke-linecap="round"/>
<polygon points="1080.7,415.7 1071.5,413.6 1076.5,407.3" fill="#fff" stroke="#fff" stroke-width="2.4" stroke-linejoin="round"/>
<line x1="1041.7" y1="407.3" x2="1067.9" y2="428.5" stroke="#fff" stroke-width="5.1" stroke-linecap="round"/>
<polygon points="1073.7,433.2 1064.6,431 1069.6,424.7" fill="#fff" stroke="#fff" stroke-width="2.4" stroke-linejoin="round"/>
<line x1="988.2" y1="412.9" x2="1077.7" y2="438.7" stroke="#fff" stroke-width="5.1" stroke-linecap="round"/>
<polygon points="1084.9,440.8 1075.6,442.3 1077.8,434.6" fill="#fff" stroke="#fff" stroke-width="2.4" stroke-linejoin="round"/>
<line x1="1005.4" y1="428.8" x2="1088.6" y2="444.9" stroke="#fff" stroke-width="5.1" stroke-linecap="round"/>
<polygon points="1096,446.3 1086.9,448.6 1088.4,440.8" fill="#fff" stroke="#fff" stroke-width="2.4" stroke-linejoin="round"/>
<line x1="1034.7" y1="446.3" x2="1066.4" y2="461.3" stroke="#fff" stroke-width="5.1" stroke-linecap="round"/>
<polygon points="1073.2,464.5 1063.8,464.5 1067.2,457.3" fill="#fff" stroke="#fff" stroke-width="2.4" stroke-linejoin="round"/>
<line x1="972" y1="452.5" x2="1067.7" y2="466.1" stroke="#fff" stroke-width="5.1" stroke-linecap="round"/>
<polygon points="1075.1,467.2 1066.1,470 1067.2,462" fill="#fff" stroke="#fff" stroke-width="2.4" stroke-linejoin="round"/>
<line x1="1027.7" y1="467.2" x2="1076" y2="468" stroke="#fff" stroke-width="5.1" stroke-linecap="round"/>
<polygon points="1083.5,468.1 1074.9,472 1075.1,464" fill="#fff" stroke="#fff" stroke-width="2.4" stroke-linejoin="round"/>
<line x1="998.5" y1="485.4" x2="1062.1" y2="474.6" stroke="#fff" stroke-width="5.1" stroke-linecap="round"/>
<polygon points="1069.5,473.4 1061.8,478.8 1060.5,470.9" fill="#fff" stroke="#fff" stroke-width="2.4" stroke-linejoin="round"/>
<line x1="1006.8" y1="503.5" x2="1071.4" y2="482.9" stroke="#fff" stroke-width="5.1" stroke-linecap="round"/>
<polygon points="1078.5,480.6 1071.6,487 1069.2,479.4" fill="#fff" stroke="#fff" stroke-width="2.4" stroke-linejoin="round"/>
<line x1="1177.7" y1="411.5" x2="1110.3" y2="426.6" stroke="#fff" stroke-width="5.1" stroke-linecap="round"/>
<polygon points="1103,428.2 1110.4,422.4 1112.2,430.2" fill="#fff" stroke="#fff" stroke-width="2.4" stroke-linejoin="round"/>
<line x1="1232.6" y1="417.6" x2="1169" y2="420.4" stroke="#fff" stroke-width="5.1" stroke-linecap="round"/>
<polygon points="1161.5,420.7 1169.8,416.3 1170.2,424.3" fill="#fff" stroke="#fff" stroke-width="2.4" stroke-linejoin="round"/>
<line x1="1176" y1="428.2" x2="1113.3" y2="431.2" stroke="#fff" stroke-width="5.1" stroke-linecap="round"/>
<polygon points="1105.8,431.6 1114.1,427.2 1114.5,435.2" fill="#fff" stroke="#fff" stroke-width="2.4" stroke-linejoin="round"/>
<line x1="1149.8" y1="444.4" x2="1101.7" y2="460.7" stroke="#fff" stroke-width="5.1" stroke-linecap="round"/>
<polygon points="1094.6,463.1 1101.4,456.6 1103.9,464.2" fill="#fff" stroke="#fff" stroke-width="2.4" stroke-linejoin="round"/>
<line x1="1162.9" y1="460.8" x2="1093.8" y2="465.4" stroke="#fff" stroke-width="5.1" stroke-linecap="round"/>
<polygon points="1086.3,465.9 1094.5,461.3 1095,469.3" fill="#fff" stroke="#fff" stroke-width="2.4" stroke-linejoin="round"/>
<line x1="1169.9" y1="473.4" x2="1095.2" y2="467.8" stroke="#fff" stroke-width="5.1" stroke-linecap="round"/>
<polygon points="1087.7,467.2 1096.5,463.9 1095.9,471.8" fill="#fff" stroke="#fff" stroke-width="2.4" stroke-linejoin="round"/>
<line x1="1160.1" y1="489.5" x2="1100.4" y2="472.6" stroke="#fff" stroke-width="5.1" stroke-linecap="round"/>
<polygon points="1093.2,470.6 1102.5,469.1 1100.3,476.8" fill="#fff" stroke="#fff" stroke-width="2.4" stroke-linejoin="round"/>
<line x1="1121.1" y1="506.3" x2="1088.1" y2="501.7" stroke="#fff" stroke-width="5.1" stroke-linecap="round"/>
<polygon points="1080.7,500.7 1089.7,497.9 1088.6,505.8" fill="#fff" stroke="#fff" stroke-width="2.4" stroke-linejoin="round"/>
<line x1="955.4" y1="545.7" x2="985.2" y2="584.9" stroke="#fff" stroke-width="5.1" stroke-linecap="round"/>
<polygon points="989.7,590.9 981.4,586.5 987.7,581.7" fill="#fff" stroke="#fff" stroke-width="2.4" stroke-linejoin="round"/>
<line x1="942.8" y1="564.5" x2="969.6" y2="585.5" stroke="#fff" stroke-width="5.1" stroke-linecap="round"/>
<polygon points="975.5,590.1 966.3,588 971.3,581.7" fill="#fff" stroke="#fff" stroke-width="2.4" stroke-linejoin="round"/>
<line x1="1232.8" y1="562.7" x2="1197.4" y2="563.6" stroke="#fff" stroke-width="5.1" stroke-linecap="round"/>
<polygon points="1189.9,563.8 1198.3,559.6 1198.5,567.6" fill="#fff" stroke="#fff" stroke-width="2.4" stroke-linejoin="round"/>
<line x1="1135.8" y1="105.2" x2="1168.5" y2="109.8" stroke="#000" stroke-width="2.5"/>
<polygon points="1175.9,110.8 1166.9,113.6 1168,105.7" fill="#000"/>
<line x1="1234.4" y1="149.6" x2="1211.2" y2="159.1" stroke="#000" stroke-width="2.5"/>
<polygon points="1204.3,162 1210.6,155.1 1213.7,162.5" fill="#000"/>
<line x1="1239.5" y1="172" x2="1208.1" y2="182.1" stroke="#000" stroke-width="2.5"/>
<polygon points="1201,184.4 1207.9,178 1210.3,185.6" fill="#000"/>
<line x1="1119" y1="172" x2="1158.1" y2="185.6" stroke="#000" stroke-width="2.5"/>
<polygon points="1165.2,188.1 1155.9,189.1 1158.5,181.5" fill="#000"/>
<line x1="1092.3" y1="257.3" x2="1118.9" y2="279.2" stroke="#000" stroke-width="2.5"/>
<polygon points="1124.7,284 1115.6,281.7 1120.7,275.5" fill="#000"/>
<line x1="1171.9" y1="288.1" x2="1144.9" y2="310.2" stroke="#000" stroke-width="2.5"/>
<polygon points="1139.1,314.9 1143.2,306.4 1148.2,312.6" fill="#000"/>
<line x1="1267.9" y1="274.7" x2="1241.3" y2="296.7" stroke="#000" stroke-width="2.5"/>
<polygon points="1235.5,301.5 1239.5,293 1244.6,299.2" fill="#000"/>
<line x1="1080.6" y1="296.8" x2="1107.2" y2="318.5" stroke="#000" stroke-width="2.5"/>
<polygon points="1113,323.2 1103.9,320.9 1108.9,314.7" fill="#000"/>
<line x1="1019.4" y1="313.9" x2="1096.9" y2="368.2" stroke="#000" stroke-width="2.5"/>
<polygon points="1103,372.5 1093.7,370.9 1098.3,364.3" fill="#000"/>
<line x1="1027.7" y1="330.1" x2="1092.4" y2="370.7" stroke="#000" stroke-width="2.5"/>
<polygon points="1098.8,374.7 1089.5,373.6 1093.7,366.8" fill="#000"/>
<line x1="1082.1" y1="329.3" x2="1109.6" y2="365.9" stroke="#000" stroke-width="2.5"/>
<polygon points="1114.1,371.9 1105.8,367.5 1112.2,362.7" fill="#000"/>
<line x1="1168.5" y1="346.8" x2="1139.4" y2="357.3" stroke="#000" stroke-width="2.5"/>
<polygon points="1132.3,359.9 1138.9,353.2 1141.7,360.8" fill="#000"/>
<line x1="1183.8" y1="363.6" x2="1129.9" y2="373.4" stroke="#000" stroke-width="2.5"/>
<polygon points="1122.5,374.7 1130.2,369.2 1131.6,377.1" fill="#000"/>
<line x1="1047.2" y1="351.6" x2="1095.9" y2="394.1" stroke="#000" stroke-width="2.5"/>
<polygon points="1101.6,399 1092.6,396.4 1097.8,390.4" fill="#000"/>
<line x1="1050.6" y1="366.9" x2="1075.3" y2="396" stroke="#000" stroke-width="2.5"/>
<polygon points="1080.1,401.7 1071.6,397.8 1077.7,392.6" fill="#000"/>
<line x1="1048.6" y1="390.6" x2="1074.8" y2="411.1" stroke="#000" stroke-width="2.5"/>
<polygon points="1080.7,415.7 1071.5,413.6 1076.5,407.3" fill="#000"/>
<line x1="1041.7" y1="407.3" x2="1067.9" y2="428.5" stroke="#000" stroke-width="2.5"/>
<polygon points="1073.7,433.2 1064.6,431 1069.6,424.7" fill="#000"/>
<line x1="988.2" y1="412.9" x2="1077.7" y2="438.7" stroke="#000" stroke-width="2.5"/>
<polygon points="1084.9,440.8 1075.6,442.3 1077.8,434.6" fill="#000"/>
<line x1="1005.4" y1="428.8" x2="1088.6" y2="444.9" stroke="#000" stroke-width="2.5"/>
<polygon points="1096,446.3 1086.9,448.6 1088.4,440.8" fill="#000"/>
<line x1="1034.7" y1="446.3" x2="1066.4" y2="461.3" stroke="#000" stroke-width="2.5"/>
<polygon points="1073.2,464.5 1063.8,464.5 1067.2,457.3" fill="#000"/>
<line x1="972" y1="452.5" x2="1067.7" y2="466.1" stroke="#000" stroke-width="2.5"/>
<polygon points="1075.1,467.2 1066.1,470 1067.2,462" fill="#000"/>
<line x1="1027.7" y1="467.2" x2="1076" y2="468" stroke="#000" stroke-width="2.5"/>
<polygon points="1083.5,468.1 1074.9,472 1075.1,464" fill="#000"/>
<line x1="998.5" y1="485.4" x2="1062.1" y2="474.6" stroke="#000" stroke-width="2.5"/>
<polygon points="1069.5,473.4 1061.8,478.8 1060.5,470.9" fill="#000"/>
<line x1="1006.8" y1="503.5" x2="1071.4" y2="482.9" stroke="#000" stroke-width="2.5"/>
<polygon points="1078.5,480.6 1071.6,487 1069.2,479.4" fill="#000"/>
<line x1="1177.7" y1="411.5" x2="1110.3" y2="426.6" stroke="#000" stroke-width="2.5"/>
<polygon points="1103,428.2 1110.4,422.4 1112.2,430.2" fill="#000"/>
<line x1="1232.6" y1="417.6" x2="1169" y2="420.4" stroke="#000" stroke-width="2.5"/>
<polygon points="1161.5,420.7 1169.8,416.3 1170.2,424.3" fill="#000"/>
<line x1="1176" y1="428.2" x2="1113.3" y2="431.2" stroke="#000" stroke-width="2.5"/>
<polygon points="1105.8,431.6 1114.1,427.2 1114.5,435.2" fill="#000"/>
<line x1="1149.8" y1="444.4" x2="1101.7" y2="460.7" stroke="#000" stroke-width="2.5"/>
<polygon points="1094.6,463.1 1101.4,456.6 1103.9,464.2" fill="#000"/>
<line x1="1162.9" y1="460.8" x2="1093.8" y2="465.4" stroke="#000" stroke-width="2.5"/>
<polygon points="1086.3,465.9 1094.5,461.3 1095,469.3" fill="#000"/>
<line x1="1169.9" y1="473.4" x2="1095.2" y2="467.8" stroke="#000" stroke-width="2.5"/>
<polygon points="1087.7,467.2 1096.5,463.9 1095.9,471.8" fill="#000"/>
<line x1="1160.1" y1="489.5" x2="1100.4" y2="472.6" stroke="#000" stroke-width="2.5"/>
<polygon points="1093.2,470.6 1102.5,469.1 1100.3,476.8" fill="#000"/>
<line x1="1121.1" y1="506.3" x2="1088.1" y2="501.7" stroke="#000" stroke-width="2.5"/>
<polygon points="1080.7,500.7 1089.7,497.9 1088.6,505.8" fill="#000"/>
<line x1="955.4" y1="545.7" x2="985.2" y2="584.9" stroke="#000" stroke-width="2.5"/>
<polygon points="989.7,590.9 981.4,586.5 987.7,581.7" fill="#000"/>
<line x1="942.8" y1="564.5" x2="969.6" y2="585.5" stroke="#000" stroke-width="2.5"/>
<polygon points="975.5,590.1 966.3,588 971.3,581.7" fill="#000"/>
<line x1="1232.8" y1="562.7" x2="1197.4" y2="563.6" stroke="#000" stroke-width="2.5"/>
<polygon points="1189.9,563.8 1198.3,559.6 1198.5,567.6" fill="#000"/>
<polyline points="876.8,757 875.7,810.4 873.4,826.7 862.9,869 867.2,873.3 899.5,885.2 907.5,902.2 894.6,912 857.4,917.2 875.5,935.2 907.2,948.9 916.7,953.5 1240.4,744.9 1242.3,829.4 1294.6,879.5 1300.7,897.6 1348.3,910 1211.2,920.2 1245.6,927.1 1254.7,930.7 1224.4,967 1345.5,982.1 1245.3,992.9 1250.6,1000.7 1271.2,991.5 1264.4,1008.7 1286.4,1007.7 1273.2,1026.2 1250,1042.6 1244.4,1046.8 1275.7,1044.7 1337.8,1044.3 1340,1059.7 1270.5,1056.2 1256.4,1087.9 1282.5,1077.2 1288.4,1086.9 1225.5,1122.4 1242.8,1140.3 1273.6,1140.5 1261.3,1142 1230,1142.4 1316.8,1134.1 1225.3,1161.1 1254.1,1166.6 1254.1,1170.1 1237.7,1167.6 1238.3,1179.6 1235,1187.2 1256.2,1186.2 1224.3,966.8 1198.2,1051.5 1158.9,1058.7 1154.4,1061.4 1209.3,1061.2 1187.7,1071 1200.2,1074.7 1154.8,1099.4 1170.4,1103.5 1140,1095.7 1151.7,1124.5 1144.1,1129 1165.5,1124.5 1178,1124.5 1174.5,1128.2 1171.5,1133.7 1179.1,1138.9 1212,1127.6 1152.7,1142 1160.1,1141.3 1147.2,1147.5 1177.6,1154.7 1186.3,1159 1207,1158.8 1147.6,1164.6 1189.8,1167.2 1181.1,1172.2 1162,1172.8 1154,1175.3 1152.7,1179 1151.3,1182.4 1172.9,1186.6 1150.3,1187.8 1275,1216.7 1225.5,1229.6 1140.1,1095.5 1155.1,1099.3 1170.5,1103.2 1127.5,1113 1126.7,1117.4 1134.4,1119.2 1144.8,1128.5 1152,1124.6 1165.4,1124.4 1171.8,1132.9 1178.3,1124.4 1175.7,1127.7 1179,1138.8 1211.8,1127.7 1226,1121.8 1122.8,1138 1121.5,1143.2 1130,1145.8 1134.4,1141.4 1147.3,1147.6 1153.3,1141.9 1160.2,1141.4 1229.8,1142.4 1242.7,1140.1 1261.3,1141.9 1273.7,1140.6 1316.7,1134.2 1117.7,1156.8 1124.9,1161.2 1131.9,1158.6 1147.8,1164.6 1177.8,1155.3 1186,1159.4 1189.9,1167.7 1207.2,1158.6 1225.5,1161.2 1237.6,1167.7 1254.3,1166.4 1254.3,1169.7 1139.6,1169.7 1162,1172.3 1181.4,1172.3 1154.5,1175.4 1134.4,1176.7 1238.4,1180.1 1235,1187 1255.6,1186.2 1258.2,1191.4 1240.9,1196.6 1224.7,1195.5 1227.3,1195.5 1173.1,1186.2 1201,1202.5 1202.3,1206.4 1218.2,1202.5 1210.5,1212.8 1217.5,1218 1220,1219.2 1202.3,1242 1225.2,1230.1 1193.2,1223.1 1197.1,1221.8 1199.7,1225.2 1188.6,1230.1 1184,1232.1 1184.7,1236.8 1189.9,1237.8 907.2,948.8 917,953.8 875.6,966.6 841.7,974.6 885.6,975.6 926.8,967.1 926.8,985.7 885.9,997.7 936.3,998.5 875.4,1014.8 861.6,1022.8 857,1028.8 866.1,1035.1 873.1,1040.4 885.6,1042.1 924,1028.3 928.3,1024.8 935.3,1024.5 935.3,1029.1 924.5,1045.4 930.8,1044.9 948.9,1047.1 950.9,1050.4 948.4,1055.9 953.4,1055.9 913.5,1061.2 920,1058.4 936.8,1058.4 940.8,1061.7 947.1,1064.9 866.8,1072.2 876.4,1073.5 885.9,1079.5 897.4,1072 898.4,1082 905.2,1083.3 914.5,1078.5 913.2,1085.5 925,1082 931.6,1081.5 950.9,1076.2 838,1099.3 897.4,1092.8 910.2,1094.3 917.5,1093 887.7,1099.6 891.2,1101.1 897.4,1104.3 948.9,1086.8 954.6,1088 954.6,1092.3 945.9,1096.8 947.1,1100.6 812.9,1125.7 819.4,1121.6 865.6,1124.4 870.6,1119.9 867.6,1128.7 876.4,1123.9 876.9,1127.4 883.4,1119.4 859.3,1149.5 863.1,1162.3 847.5,1180.1 841.2,1198.4 825.4,1247.3 924.6,1106.3 929.8,1106.3 935.1,1106.3 940.3,1106.3 957.7,1102.9 961.2,1106.3 962.9,1113.3 968.2,1125.5 954.2,1115 959.4,1115 933.3,1123.8 947.2,1122 917.6,1123.8 935.1,1137.7 940.3,1139.4 924.6,1113.3 922.9,1102.9 943.8,1102.9 945.5,1106.3 946.6,1097.6 954.2,1090.7 949,1087.2 950.7,1076 902,1082 898.5,1092.4 905.4,1083.7 912.4,1085.4 917.6,1092.4 924.6,1082 931.6,1081.3 888.7,1101.1 891.5,1102.9 896.7,1103.9 875.8,1123.8 868.9,1123.8 883.1,1119.6 865.4,1127.2 874.8,1129 859.1,1149.9 862.6,1162.1 847.2,1180.2 1018.3,1248.3 952.1,1226.7 960.5,1136.5 992.4,1213.4 942.6,1143.4 992.3,1208.4 1006.3,1243.5 1015,1236 973.2,1183.1 986.8,1206.1 968.6,1193.5 1011.1,1238.5 984.1,1210.3 984.3,1237.9 968.2,1213.2 969.6,1230.8 983.4,1214.1 971.1,1170.4 976.9,1219.1 918.4,1163.9 1003.9,1239.5 1000.2,1241.8 995.3,1239 989.5,1190.4 1001.3,1214.7 938,1228.9 996.2,1241.8 1014.2,1248.2 975.4,1248.6 955.5,1226 969.7,1153.3 986.3,1245.4 987.9,1237.7 995.2,1221.1 943,1232.2 983.8,1220.7 951.3,1248.6 986.3,1173 1005.4,1227.3 970.7,1174.6 945.2,1240.9 1013.2,1227.7 957.1,1130 992,1230 1003.6,1235.8 1016,1245.9 976.1,1244.1 989.9,1210.6 978.5,1176.7 909,1229.1 993.1,1189.2 983.8,1181.9 970.3,1186.4 998.3,1207.4 986.9,1234.7 982.9,1246.3 959.9,1237.3 946.4,1237.8 987,1248.4 980.3,1244.8 972.9,1156.3 976.6,1167.4 997.2,1211.8 964,1245.2 968.9,1216.1 981.4,1179.8 983.7,1205.6 1006,1231.3 969.3,1145.4 994.8,1205.3 992,1240.3 996.6,1215.2 1011.7,1245 985.3,1230.1 1020.4,1245.1 1018,1238.2 989,1226.8 983,1232.1 1008,1225.3 1000.6,1202.2 945.5,1201.9 971.7,1227.7 991.5,1248.5 968.9,1196.7 944.4,1247.2 992.8,1243.9 982.4,1165.5 993.7,1195.6 995.6,1235.6 1012.6,1230.4 983.2,1188.2 974.7,1229.4 988.7,1201.1 968.3,1134.8 961.2,1203.5 925.2,1181.8 965,1154.5 929.1,1246.6 945.7,1152.3 983.9,1170.6 1000.7,1247.3 1011,1222.5 929.4,1176.2 1007.4,1219.5 992.4,1185.5 932.7,1167.4 979.4,1220.6 999.5,1237.3 956.7,1172 970.3,1180 918,1246.9 973.6,1163 961.1,1240.9 963.1,1148.1 986.5,1186.1 917.7,1185.1 976.2,1241.2 973.6,1177.5 993.4,1217.9 912,1238 975.9,1214.2 893.8,1231.8 972.1,1202.6 973.3,1234.4 973.5,1198.1 955.6,1141.9 1007.8,1241 1010,1234.7 974.2,1173.4 986.9,1242.2 956.2,1197.8 891.7,1240.7 914.5,1248.7 1010.1,1247.5 882.4,1245 885.3,1203.2 905.1,1187.9 998,1197.6 1007.3,1214.6 883.7,1221.9 947.7,1168.3 940.5,1206 936.6,1171 957.8,1188.9 898.1,1189.3 974.7,1223.3 993.7,1201.2 966.1,1151.6 955.3,1210 961.3,1226.6 1016.8,1243 906.5,1233.4 972,1246.8 966.7,1235.8 877.1,1213 963,1141 959.2,1162.4 903.6,1211.6 939.9,1237.8 981.5,1172.4 1002.4,1225.3 932.4,1237.9 955.4,1248.5 992.5,1198.3 1002,1211.3 966.7,1205 981.6,1195.5 990,1217.9 958.5,1246.4 1019.9,1240.7 861.3,1237.2 1001.7,1217.8 962.5,1188.7 942.6,1243.8 876.7,1202.7 930.3,1220.8 981.1,1216.3 937,1184 967.1,1140.5 951,1201.3 978.3,1223.5 946.4,1183.1 905.3,1216.6 999.3,1232.9 924.6,1164.2 961.2,1208 995.7,1247.5 953.5,1175.3 952.1,1170.8 946.3,1141 906.1,1176.7 959.5,1193.9 954.6,1151 928.7,1214.7 1011.4,1225.4 937.1,1243 1000,1220.5 972.5,1218.2 940.4,1224.9 952.4,1162.3 960.6,1178.1 930,1151.4 976.3,1191.6 962,1154.4 897.4,1246.7 933.2,1196.2 892.6,1219.8 973.3,1166.2 1003.2,1231.3 989.5,1197.2 975.6,1200.5 977.6,1229.1 994.5,1210.3 944.8,1168.5 947.6,1173.1 995.7,1191.8 965.6,1129.5 981.8,1192.3 931.6,1201.6 956.9,1155.4 977,1156.3 996.9,1203.4 950.1,1229 959.1,1150 909.7,1208.2 868.6,1205.9 956.8,1163.9 946.8,1244.5 962.9,1182.2 913,1179.8 989.3,1185.4 943.1,1211.6 875.5,1220.1 952.2,1135 944.4,1175 1014.5,1232.8 919.6,1179.9 908,1196.8 934.8,1234.1 898.5,1243.1 1022.9,1248.7 944.1,1187.6 881.3,1205 941.6,1150 949.7,1191.5 930.1,1212 968.5,1248.1 988.3,1182.5 934.1,1153.5 990.6,1193.4 934.8,1176.5 949.8,1142 963.6,1200.8 969.6,1220.7 879.6,1245.5 955,1132.2 904.6,1237.7 985.9,1218.7 938.2,1162.1 996.7,1228.3 983.1,1241.6 954.6,1203.9 1004.4,1222.5 939.3,1188.6 902.2,1193.6 928.7,1190.3 937.5,1247.6 968.7,1184 981.6,1168.6 972,1148.8 976.5,1162 980.1,1213.6 931.6,1208.9 914.5,1218.6 958.8,1210.6 989.4,1244.4 970,1167.4 968.2,1210.2 925.5,1199.3 951.8,1241.3 915.3,1182.7 891.1,1215.4 964.2,1132.7 900.8,1211.3 985.7,1179.6 965.6,1167.2 951.3,1181.5 964.3,1158.6 979.1,1164.1 1003.4,1248.7 885.7,1210.4 1000.8,1229.3 986,1225.2 986.8,1195.9 1004.3,1216.1 1002.6,1206.2 915,1186.4 906.7,1240 882.8,1227.4 951.2,1185 928.2,1200.6 924.7,1157.5 978.5,1205.3 940.1,1185.6 990,1232 955,1213.1 950.5,1245.5 969,1160.1 906.7,1181.8 979.1,1183.2 976.7,1180.4 925.2,1236.9 911.1,1244.7 960.6,1144.7 980.1,1247.8 930.4,1170.5 941.9,1199.4 963.8,1192.2 920.2,1168.6 997,1225.2 997.2,1219 985.8,1176.2 1004.7,1212.5 956.3,1217.6 862.7,1219.2 992.8,1233.2 957.1,1207.5 960.8,1214.5 933.9,1206.9 931.3,1230.8 972.5,1152.7 934.2,1246.8 954.3,1221 963.1,1238.7 917.3,1206.3 1009.9,1228.6 890.2,1222.8 931.3,1182.2 905.2,1202.9 947.5,1157.5 880.4,1209 902.5,1196.4 885.9,1196 976.6,1236.7 900,1248 957.9,1223 978,1208.7 991.7,1237 951.6,1216.6 934.6,1193.4 1007.3,1247.1 968.6,1138.2 932,1179.5 873.7,1199.7 968,1178.3 1014.9,1240.2 980.8,1227.5 954.5,1137.6 1004.1,1245.8 963.4,1137.7 940.6,1160.1 862.2,1212 961.4,1172.1 922.5,1186 934.8,1218.6 990.5,1223 945.8,1198.6 915,1174.7 939.2,1219.1 950.4,1147.6 941,1229.5 939.4,1155.2 860.1,1215.6 965.3,1213.7 980.4,1238 896.1,1209.5 957.8,1139.6 946.6,1218 929,1195.5 966.9,1169.8 967.8,1245.1 930.8,1235.1 933.1,1213.3 988.4,1177.6 895.8,1234.9 947.3,1187.2 876.1,1246.5 889.6,1184.4 898.9,1208.3 998.6,1245 946.5,1211.5 976.6,1152.4 958.5,1228.4 963.9,1216.5 965.4,1222.2 952.5,1139.7 871.1,1201.1 958.2,1134.6 938.5,1210.4 961.9,1166.6 950.6,1220.7 908.8,1212.5 925,1170.6 955.8,1186.6 986.8,1214.6 947.8,1204.2 987,1192.1 947.1,1233.2 969.2,1225.8 975,1205.3 912.5,1194.8 955.7,1193.2 926.9,1224.7 935.3,1166.4 926.5,1153 901.2,1185.1 948.1,1179.3 947.9,1136.8 972,1191.7 959.7,1158.9 895.5,1222.2 859.3,1234.5 872.3,1214.5 963.5,1126.1 955.2,1167.4 964.8,1248 893.2,1192.4 997.5,1194.2 977.7,1172.2 964.7,1177.4 1011.3,1241.5 996.5,1200.6 901.2,1188.4 972.7,1210.5 909.3,1175.3 891.5,1186.7 943.3,1164.7 877.9,1239.8 893.4,1183.9 908.4,1223.6 964.3,1186.2 923.2,1242.6 871.5,1247.1 971.9,1240 939.4,1241.1 931.7,1241.4 941.4,1173.8 954.3,1189 883.2,1239.8 907.5,1170.1 928.7,1161.4 996.8,1231.1 1007.2,1236.7 951.3,1232.3 976.5,1196.6 980.3,1200.1 944.1,1146 952.7,1235.1 925.8,1244.8 941.1,1191.6 981.7,1176.5 908.7,1247.8 970.2,1235.6 917.6,1158.7 955,1160.7 943.8,1137 979.3,1191.1 913.2,1206.9 937.9,1142.6 942.4,1215.8 938.6,1213.9 956.1,1181.3 911.2,1222 919.3,1238.5 927.6,1232.8 958.4,1200.4 947.3,1146.3 918.4,1198.7 964.9,1209.3 921.3,1175.8 923,1213.9 931.8,1186.2 951,1194.6 913.6,1166 899.5,1223.1 899.6,1226.9 864.3,1239 965.2,1232.4 959.9,1126.4 960.8,1132.2 956.8,1231 917.8,1215.7 874.1,1248.7 963.8,1196.7 948.5,1215.1 921.5,1159.1 924.7,1231 955.4,1147.6 958.3,1241.4 887.4,1186.2 966.3,1195.1 990.2,1205.6 947.5,1176.1 943.7,1226.8 888.5,1211.1 879.9,1223.6 904.2,1245.8 926.3,1178 925.3,1195.5 904.1,1230.4 867,1235.9 983.4,1199.4 916.2,1191.2 973.3,1242.4 914.6,1203.7 973.3,1207.6 957.5,1233.9 931.5,1205.1 957,1144.4 982.9,1224 952,1206.2 972.4,1231.6 891.4,1203 870.3,1216.5 897.9,1195.2 865.8,1248.1 928.6,1165.8 910.7,1169.7 863,1246.1 951.4,1178.3 919.9,1217.6 966.7,1164.2 921.9,1201.6 943.6,1161.4 888.8,1246.7 909.7,1232.6 961.3,1247 951.3,1151.2 933,1221.7 918.1,1220.5 959.5,1181.4 931.6,1248.6 934.4,1200.3 900.1,1205.4 879.4,1218 910.5,1164.8 955.8,1244.8 939.5,1182.7 966.7,1241.5 941.4,1248 920.7,1226 1004.1,1208.9 949.6,1225.2 889.5,1199.3 941,1177.6 917.8,1188.9 920.7,1230 925.4,1247.6 966.4,1190.6 934.3,1230.2 892.9,1224.9 891.2,1194.5 953.3,1165.2 962.1,1233.9 872.6,1210.7 976.5,1187.9 944.6,1229.8 972.8,1142.2 902.7,1181.3 980.1,1159.7 917.4,1168.8 991,1180.7 904.6,1170.2 981,1185.2 948.1,1248.6 889.1,1229.6 942.6,1219.2 916.1,1244.1 950.3,1166.4 912.2,1175.2 895.5,1217.8 869.4,1226.5 922.3,1191 914.7,1212 954.8,1157.8 936.2,1190.1 909.1,1237.8 921.2,1247.2 957,1238.4 894.6,1181.1 965.3,1161.6 956.9,1175.8 880.9,1237.6 975.1,1149.8 977.7,1233.8 885.7,1231.6 927.5,1168.6 903.6,1243 880,1230 943.9,1222 976.1,1183.4 974,1189.3 864.2,1204.9 944.4,1156.6 938.8,1168 935.9,1187 947.5,1222.2 938.3,1235.4 905.6,1248.7 1002.7,1243.3 923.4,1204.5 917.1,1178.1 994.2,1224.2 948.8,1239.9 911.7,1241.2 902.8,1177 962.7,1220.2 966.1,1143.7 913.7,1189.6 910.6,1183 952.1,1155.2 919.9,1196.1 953,1197.7 908.3,1193.5 871.1,1233.4 863.2,1227.8 989.6,1214.1 959.9,1231.5 888.2,1241.2 927.6,1172.7 879.7,1220.7 947.2,1226.6 876.1,1231 968.6,1156.1 944.5,1235 966.6,1200.1 874.7,1227.3 897.9,1181.4 972.9,1194.7 911.7,1185.8 967.8,1148.3 981.2,1208.1 952.1,1212.3 935.3,1161.6 920.3,1206.3 971.8,1223.9 865.8,1243 935.1,1157.8 937.1,1225.9 969.6,1242.6 1014.6,1238.2 1001.6,1244.8 1008.8,1223.4 969.4,1142.5 1019.7,1247.5 1016.9,1234.9 1005.5,1239.5 996.2,1197.8 988.1,1189.2 1010.1,1224.4 1009.6,1219 1009.5,1241.4 1008,1232.4 993.9,1226 1022.1,1244.6 1012.1,1232.9 969.5,1161.6 975.2,1177.2 984.6,1177.3 1006.6,1229.2 987,1180.6 982.7,1185.2 986.5,1201.5 981.4,1161.4 1002.2,1203.6 1014,1242.3 971.4,1184.2 1015,1231.2 1001.1,1213 1000.3,1200.2 981.8,1163.2 1008.8,1227.3 1002.8,1209.7 985.5,1190.7 1005.9,1245 1006.7,1222.3 998.6,1201.5 985,1239.6 1006.2,1220.6 1006.7,1217.7 1004.6,1218 1008.3,1234.1 1014,1244 1018.3,1246.1 985,1200 1008.5,1220.9 1000.1,1239.3 1001.1,1208.9 997.8,1246.8 1010.6,1236.9 986.4,1184 1019.2,1242.1 1011.7,1228.6 991.1,1244 1008.2,1245.3 1004,1229.6 987,1222.9 999.5,1228.4 978.6,1166.6 986.5,1213 964.7,1146.9 1015.6,1241.7 992,1196.3 993,1205.9 1016.8,1239.8 989.5,1209 1013.6,1236.7 996.6,1222.8 999.1,1226.3 984.6,1172.4 980.9,1233.9 999.3,1231.3 990.9,1227.5 999.6,1218.6 990,1220.2 1022.7,1246.8 995.8,1229.7 994.9,1196.8 995.5,1189.7 1008.6,1217.2 1016.1,1233 998.9,1205.3 1005.7,1234.5 986.9,1174.6 1016.2,1248 989.1,1180.4 993.7,1234.8 972.5,1168.9 983.5,1175.2 992.7,1203.1 1002.4,1220.6 997.9,1235.1 978.2,1196.7 1011.7,1247.4 1002.8,1234.3 990.2,1201.9 1019.4,1239.1 1005.1,1210.8 991.1,1199.3 974.3,1218.2 982.5,1230.5 984.7,1248 1001,1233.5 969.3,1195 1010,1243.3 1000.2,1206.2 991.3,1187.4 1012.6,1239.9 1006,1225.7 975,1245.7 991.6,1219.6 966.9,1207.2 979.2,1161.8 998,1239.6 994.6,1202.8 975,1171.4 969.9,1246.5 1018.2,1243.7 1000.1,1243.5 972.9,1151.1 1005.4,1237.4 982.4,1202.1 981.4,1221.7 998.8,1211.4 989.5,1234.7 1016.7,1237.3 992.8,1220.7 988,1231.9 975.2,1164.6 993.9,1187.5 1005.5,1214.2 999.1,1215.6 999.3,1248.5 979.6,1158.1 988.6,1221.2 996,1237.4 1005.6,1242 1011.3,1227 998.1,1199.7 998.2,1241.6 978.2,1226.6 1009.9,1245.5 1004.6,1224.7 996.5,1209.6 971.1,1237.4 973.9,1160.4 1021.3,1243.1 977.8,1215.2 998.9,1223.7 1010.4,1232.8 988.4,1215.9 988,1247 1002.9,1238.2 989.8,1195.1 984.5,1193 979.9,1217.4 969.2,1188.9 1012.4,1235.3 1001.6,1227.2 993.6,1193.3 994.7,1213.7 1003.1,1213.8 989.3,1187.2 1007.2,1248.7 1014.2,1245.9 978.8,1230.3 977.6,1159.7 1003.7,1232.9 983.2,1226 1008.8,1236.4 1004.3,1243.6 986.8,1198.2 988.3,1175.3 1018.2,1236.6 980.1,1210.6 996.6,1207.8 979.2,1188 995.4,1211.6 1012,1223.8 1008.2,1229 1007.9,1238.2 980.5,1219 985.3,1232.2 989.6,1248.3 996.5,1244.7 1005.3,1248 979.5,1235.7 1009.4,1239.5 1021.1,1248.1 984.2,1186.5 986.8,1239.6 978.2,1189.5 1010.2,1220.5 996.5,1205.2 994.6,1215.5 1000.9,1236.1 997,1196 999.7,1198.5 988.5,1204.6 991.7,1190.4 985.6,1188.4 981.9,1182 978.8,1154.8 981.9,1187 964.5,1156.9 983.1,1167.2 999.5,1213.7 992.4,1210.1 1006.1,1216.1 972,1187.7 990.5,1207.5 970.7,1214.9 1008.3,1243.2 967.8,1180.1 978.1,1202.7 983.6,1189.9 971,1141.3 993.6,1231.7 983.8,1217.2 975.8,1228 994.4,1199.2 1004.7,1219.8 975.1,1235 973.6,1175.2 992.4,1228.4 976.5,1158.4 987.1,1187.9 990.6,1241 977.8,1244.4 990.5,1189.1 992,1242.4 975,1208.2 992.1,1246.2 1001.9,1223.1 1015.2,1234.3 991.7,1211.8 991.8,1183.6 978.9,1171 972.5,1173.7 990.5,1179.1 1116.6,1194.6 1119.9,1247 1094.9,1247.7 1104.8,1247.7 1122.8,1170.9 1124.9,1204.2 1112.1,1225.8 1098.1,1247.4 1094.3,1242.4 1078.4,1239.3 1083.8,1242.2 1076.2,1242.2 1097.4,1244.7 1122.8,1220.2 1083.9,1230.2 1068.3,1248.7 1098.6,1233.2 1072.7,1243.6 1167.3,1248.1 1084.8,1248.1 1133.9,1239 1142.5,1228.7 1193.8,1235.7 1087.5,1233 1118.8,1239 1126.9,1247.9 1122.7,1211 1074.3,1247.4 1157.4,1246.3 1111.5,1191 1098.6,1239.3 1135,1185.3 1083.9,1238.6 1094.7,1239.6 1088,1243.7 1124.7,1208.8 1136.9,1201.1 1079.5,1244.7 1088.4,1247.6 1090.9,1229.4 1100.6,1235.8 1119.1,1177.3 1086.3,1236.4 1099.2,1227.1 1082.2,1233.8 1115,1245.7 1134.5,1207.2 1134.3,1221.9 1157.4,1215.7 1111.8,1210.3 1086.5,1228.5 1120.2,1183.3 1137.6,1173.3 1129.5,1177.9 1077.5,1248.6 1081.1,1240.7 1089.7,1226 1142.8,1188.3 1141.2,1178 1138.6,1220.9 1103.2,1208.2 1097.3,1236.6 1138.9,1226.4 1166.7,1216.2 1091.3,1237.2 1137.4,1232.9 1118.2,1188.3 1123.5,1216.4 1125.3,1245.4 1110.3,1241.1 1094.3,1228.6 1146.8,1207.9 1092.8,1245.2 1109.7,1248.1 1105,1206.1 1134.3,1213.8 1136.9,1244.4 1122.8,1240.9 1192.1,1233 1131.8,1217.4 1101.6,1213.1 1159,1226.1 1119.9,1233.3 1102.3,1226 1104.5,1223.8 1145.8,1219.3 1142.7,1184.2 1089,1235.5 1151.3,1205.6 1097,1215.5 1102.6,1216 1151.6,1191.9 1130.2,1240.6 1132.5,1247.8 1106.5,1218.5 1129.2,1202 1113.3,1216.1 1101.9,1229.1 1150.3,1233 1111,1220.2 1142.3,1244.7 1111.4,1230.5 1113.3,1198.7 1107.8,1245.4 1080.3,1237 1086.4,1240.4 1109.1,1233.4 1090.2,1242 1090.8,1221.1 1108.5,1195.6 1119.5,1210.8 1130.6,1245.3 1137.6,1237.8 1158.3,1201.4 1098.4,1221.7 1127.6,1222.7 1107.5,1198.5 1134.2,1233.6 1115.9,1209 1135.7,1188.9 1094.6,1223.8 1149.7,1218.7 1115.9,1230 1128.1,1174.8 1122.8,1231.8 1123,1187.7 1121.3,1198.8 1093.9,1220.5 1103.4,1239.6 1109.9,1213.5 1132.3,1194.3 1158.8,1243.7 1114,1202.9 1098.7,1229.8 1157,1231.6 1146.1,1226.1 1126.2,1235.3 1069.9,1245.8 1116.8,1199.1 1098.2,1212 1095.4,1232.3 1104.6,1213.7 1144,1195.8 1105.2,1232.7 1124.1,1195.5 1129.1,1230.9 1156,1241.4 1107,1201.4 1081.8,1247.6 1127.8,1192.7 1149.2,1246.9 1122.6,1248.4 1123.3,1177.5 1133,1179.8 1105.5,1210.9 1129.5,1213.9 1128.9,1206.6 1126.4,1216 1182.7,1245.8 1165.8,1239.8 1100.9,1246.6 1178,1246.4 1113.6,1234.3 1101.1,1243.3 1119.3,1202.5 1171.8,1240.1 1139.4,1214.2 1121.2,1226.3 1147.5,1194.5 1175.3,1221.6 1168.4,1232.9 1125,1167.3 1117.7,1243.1 1127,1169.4 1144.3,1180.3 1153.1,1245.2 1147.3,1233.7 1111,1237.7 1167.7,1221 1150.1,1236 1156.4,1198.6 1123,1237.7 1113.8,1193.6 1142,1219.7 1149.1,1209.5 1158.6,1211.6 1131.8,1188.2 1157.6,1219.8 1117.1,1214.3 1125.1,1179.9 1145.9,1230.5 1098.1,1218.4 1114.7,1239.9 1115.8,1222 1131.8,1208.6 1117.6,1206.6 1176,1229.2 1140,1217.7 1108.3,1222.6 1145.2,1200.8 1132.8,1167 1154.4,1247.9 1108.2,1204.8 1148.9,1190.7 1130.8,1224.1 1162.7,1215.9 1161.8,1247.1 1127.6,1227.9 1141.1,1205.5 1162.2,1211.4 1133.1,1229.2 1104.1,1243.8 1155.5,1195.2 1126.9,1211.2 1176,1240.1 1145.7,1247.9 1121.6,1222.9 1158,1204.6 1181.5,1226.5 1139.6,1243 1139.5,1246.8 1093.1,1235.1 1111.9,1245.1 1145.3,1185.9 1084.3,1245.3 1163.3,1242.1 1134.1,1171.9 1117.2,1236.4 1162.6,1227.8 1124.3,1224.8 1117.7,1184.5 1131.4,1182.6 1195.3,1247.8 1146.8,1212.8 1174.3,1219 1091.7,1248.7 1088.9,1239.2 1118.7,1229.1 1129.3,1195.3 1151.8,1222.3 1140.6,1211.1 1120.1,1180 1120.1,1217.8 1162.4,1203.2 1071.7,1248.7 1106.7,1238.2 1126.3,1242.5 1146.9,1240.9 1101.3,1219.7 1170.1,1229 1152.8,1230.5 1168.2,1238 1180,1238.9 1134.2,1244.9 1146,1189 1094.2,1217.2 1175.6,1248 1138,1182.7 1108.6,1228.9 1153.7,1218.3 1193.3,1241.4 1162.9,1237.1 1121.1,1243.7 1120.8,1207.4 1105.2,1227.5 1099.8,1208.7 1109.1,1226 1149.6,1202.2 1108.9,1210.4 1159.1,1235.1 1118.9,1220.5 1143.2,1231.7 1114.8,1185.5 1146.7,1198 1128,1164.4 1124.1,1184.7 1075,1239.6 1138,1198.4 1150.6,1243.8 1120.3,1214 1174.5,1237.2 1185.1,1241.4 1146.3,1203.8 1122.1,1201.8 1113.6,1248.4 1101.2,1223.1 1078.1,1237.2 1075.1,1243.5 1066.7,1247.4 1090.8,1244.9 1076.6,1240.7 1074.1,1241.6 1075.4,1245.2 1090,1231.7 1080.4,1239.1 1071.8,1246.2 1077.1,1246.2 1065.2,1248.6 1096.3,1213.9 1079.3,1240.7 1079.9,1234.8 1104.5,1236.7 1082.8,1244.2 1071.1,1243.8 1102.9,1212 1068.8,1247 1088.8,1245.6 1076,1248 1097.3,1226.2 1073.8,1245.4 1079.6,1247.1 1076.5,1238.2 1088.1,1231.5 1092,1231 1085.1,1231.6 1091.8,1242.8 1083.9,1233.1 1092.5,1246.8 1081.2,1243.3 1085.8,1234.5 1102.9,1242.3 1099.1,1245.1 1069.9,1248.5 1104.8,1208.5 1096.5,1219.2 1096.7,1221.1 1082.7,1240.3 1093.1,1240.9 1090.3,1224.1 1090.2,1247.9 1088.3,1224.9 1093.2,1237.2 1078.1,1242.1 1083.2,1246.9 1081.5,1245.2 1090.5,1238.9 1099.1,1224.1 1093,1224.1 1087.6,1242 1091,1233.6 1076.8,1244.1 1096.1,1224.9 1104.4,1203.4 1082,1237.6 1065.9,1245 1086.8,1247.5 1100,1210.8 1096.1,1243.4 1087.8,1227.5 1091.6,1223 1096.6,1229.6 1167.7,1242.9 1173,1245.3 1141.1,1239.2 1137,1240.6 1123.3,1234.8 1169.8,1245.5 1142.7,1236.3 1155.1,1238.7 1170.4,1248.5 1127.3,1239 1129.5,1235.3 1178.4,1242.2 1145.6,1244.4 1165.1,1233.6 1171.3,1236.9 1136.9,1248.4 1150.2,1239 1158.4,1238 1116.4,1248.1 1140.2,1235" fill="none" stroke="none" marker-start="url(#m)" marker-mid="url(#m)" marker-end="url(#m)"/>
<rect x="709.5" y="700.8" width="669.2" height="557.3" fill="none" stroke="#111" stroke-width="1.8"/>
<line x1="709.5" y1="1257.8" x2="729.5" y2="1257.8" stroke="#333" stroke-width="1.3"/>
<line x1="709.5" y1="1240.4" x2="720.5" y2="1240.4" stroke="#333" stroke-width="1.3"/>
<line x1="709.5" y1="1223" x2="720.5" y2="1223" stroke="#333" stroke-width="1.3"/>
<line x1="709.5" y1="1205.7" x2="720.5" y2="1205.7" stroke="#333" stroke-width="1.3"/>
<line x1="709.5" y1="1188.3" x2="729.5" y2="1188.3" stroke="#333" stroke-width="1.3"/>
<line x1="709.5" y1="1170.9" x2="720.5" y2="1170.9" stroke="#333" stroke-width="1.3"/>
<line x1="709.5" y1="1153.5" x2="720.5" y2="1153.5" stroke="#333" stroke-width="1.3"/>
<line x1="709.5" y1="1136.2" x2="720.5" y2="1136.2" stroke="#333" stroke-width="1.3"/>
<line x1="709.5" y1="1118.8" x2="729.5" y2="1118.8" stroke="#333" stroke-width="1.3"/>
<line x1="709.5" y1="1101.4" x2="720.5" y2="1101.4" stroke="#333" stroke-width="1.3"/>
<line x1="709.5" y1="1084" x2="720.5" y2="1084" stroke="#333" stroke-width="1.3"/>
<line x1="709.5" y1="1066.7" x2="720.5" y2="1066.7" stroke="#333" stroke-width="1.3"/>
<line x1="709.5" y1="1049.3" x2="729.5" y2="1049.3" stroke="#333" stroke-width="1.3"/>
<line x1="709.5" y1="1031.9" x2="720.5" y2="1031.9" stroke="#333" stroke-width="1.3"/>
<line x1="709.5" y1="1014.5" x2="720.5" y2="1014.5" stroke="#333" stroke-width="1.3"/>
<line x1="709.5" y1="997.2" x2="720.5" y2="997.2" stroke="#333" stroke-width="1.3"/>
<line x1="709.5" y1="979.8" x2="729.5" y2="979.8" stroke="#333" stroke-width="1.3"/>
<line x1="709.5" y1="962.4" x2="720.5" y2="962.4" stroke="#333" stroke-width="1.3"/>
<line x1="709.5" y1="945" x2="720.5" y2="945" stroke="#333" stroke-width="1.3"/>
<line x1="709.5" y1="927.7" x2="720.5" y2="927.7" stroke="#333" stroke-width="1.3"/>
<line x1="709.5" y1="910.3" x2="729.5" y2="910.3" stroke="#333" stroke-width="1.3"/>
<line x1="709.5" y1="892.9" x2="720.5" y2="892.9" stroke="#333" stroke-width="1.3"/>
<line x1="709.5" y1="875.5" x2="720.5" y2="875.5" stroke="#333" stroke-width="1.3"/>
<line x1="709.5" y1="858.2" x2="720.5" y2="858.2" stroke="#333" stroke-width="1.3"/>
<line x1="709.5" y1="840.8" x2="729.5" y2="840.8" stroke="#333" stroke-width="1.3"/>
<line x1="709.5" y1="823.4" x2="720.5" y2="823.4" stroke="#333" stroke-width="1.3"/>
<line x1="709.5" y1="806" x2="720.5" y2="806" stroke="#333" stroke-width="1.3"/>
<line x1="709.5" y1="788.7" x2="720.5" y2="788.7" stroke="#333" stroke-width="1.3"/>
<line x1="709.5" y1="771.3" x2="729.5" y2="771.3" stroke="#333" stroke-width="1.3"/>
<line x1="709.5" y1="753.9" x2="720.5" y2="753.9" stroke="#333" stroke-width="1.3"/>
<line x1="709.5" y1="736.5" x2="720.5" y2="736.5" stroke="#333" stroke-width="1.3"/>
<line x1="709.5" y1="719.2" x2="720.5" y2="719.2" stroke="#333" stroke-width="1.3"/>
<line x1="709.5" y1="701.8" x2="729.5" y2="701.8" stroke="#333" stroke-width="1.3"/>
<line x1="793.2" y1="1258.1" x2="793.2" y2="1246.1" stroke="#333" stroke-width="1.3"/>
<line x1="876.9" y1="1258.1" x2="876.9" y2="1236.1" stroke="#333" stroke-width="1.3"/>
<line x1="960.5" y1="1258.1" x2="960.5" y2="1246.1" stroke="#333" stroke-width="1.3"/>
<line x1="1044.2" y1="1258.1" x2="1044.2" y2="1236.1" stroke="#333" stroke-width="1.3"/>
<line x1="1127.9" y1="1258.1" x2="1127.9" y2="1246.1" stroke="#333" stroke-width="1.3"/>
<line x1="1211.5" y1="1258.1" x2="1211.5" y2="1236.1" stroke="#333" stroke-width="1.3"/>
<line x1="1295.2" y1="1258.1" x2="1295.2" y2="1246.1" stroke="#333" stroke-width="1.3"/>
<text x="703.8" y="1261.7" font-size="20" text-anchor="end" fill="#000">0</text>
<text x="703.8" y="1125.2" font-size="20" text-anchor="end" fill="#000">20</text>
<text x="703.8" y="988.7" font-size="20" text-anchor="end" fill="#000">40</text>
<text x="703.8" y="851.3" font-size="20" text-anchor="end" fill="#000">60</text>
<text x="703.8" y="713.1" font-size="20" text-anchor="end" fill="#000">80</text>
<text x="719.7" y="1282.9" font-size="20" text-anchor="middle" fill="#000">-10</text>
<text x="880.3" y="1282.9" font-size="20" text-anchor="middle" fill="#000">-5</text>
<text x="1045.6" y="1282.9" font-size="20" text-anchor="middle" fill="#000">0</text>
<text x="1213.9" y="1282.9" font-size="20" text-anchor="middle" fill="#000">5</text>
<text x="1370.9" y="1282.9" font-size="20" text-anchor="middle" fill="#000">10</text>
<text x="947.1" y="1309.5" font-size="26.4">log<tspan font-size="17.3" dy="7">2</tspan><tspan dy="-7"> fold change</tspan></text>
<text transform="translate(662.5,976) rotate(-90)" font-size="26" text-anchor="middle">-log<tspan font-size="17" dy="7">10</tspan><tspan dy="-7">P</tspan></text>
<text x="748.1" y="734.9" font-size="26" text-anchor="start" fill="#000">DN3a/3b</text>
<text x="974.5" y="735.4" font-size="26" text-anchor="start" fill="#000">DN3b/4</text>
<polygon points="874.5,718.4 939.4,718.4 939.4,710.1 955.4,726.5 939.4,742.9 939.4,733.8 874.5,733.8" fill="#000"/>
<text x="796.6" y="1022.6" font-size="15.1" text-anchor="start" fill="#111" font-style="italic">Scin</text>
<text x="984.7" y="1118.4" font-size="15.1" text-anchor="start" fill="#e0532f" font-style="italic">Cd7</text>
<text x="1003.6" y="1203.7" font-size="15.1" text-anchor="start" fill="#e0532f" font-style="italic">Lsp1</text>
<text x="1022.4" y="1226.3" font-size="15.1" text-anchor="start" fill="#e0532f" font-style="italic">Icos</text>
<text x="965.4" y="1285.3" font-size="15.1" text-anchor="start" fill="#111" font-style="italic">Hes1</text>
<text x="1073.3" y="1277.4" font-size="15.1" text-anchor="start" fill="#111" font-style="italic">Il2ra</text>
<text x="1053.7" y="1151.1" font-size="15.1" text-anchor="start" fill="#111" font-style="italic">Gimap4</text>
<text x="1031.3" y="1176.8" font-size="15.1" text-anchor="start" fill="#2e6cbe" font-style="italic">Trbv12-2</text>
<text x="1050.6" y="1202.6" font-size="15.1" text-anchor="start" fill="#111" font-style="italic">Il7r</text>
<text x="1130" y="1280" font-size="15.1" text-anchor="start" fill="#2e6cbe" font-style="italic">Trbv24</text>
<text x="1265.7" y="820.9" font-size="15.1" text-anchor="start" fill="#111" font-style="italic">Cd2</text>
<text x="1332.3" y="867.1" font-size="15.1" text-anchor="start" fill="#111" font-style="italic">Ikzf3</text>
<text x="1238.2" y="904" font-size="15.1" text-anchor="start" fill="#111" font-style="italic">Cd28</text>
<text x="1293.8" y="921.4" font-size="15.1" text-anchor="start" fill="#2e6cbe" font-style="italic">Trbv1</text>
<text x="1390.1" y="904.9" font-size="15.1" text-anchor="start" fill="#2e6cbe" font-style="italic">Trbv20</text>
<text x="1386.3" y="969" font-size="15.1" text-anchor="start" fill="#2e6cbe" font-style="italic">Trbv19</text>
<text x="1281.9" y="983.4" font-size="15.1" text-anchor="start" fill="#111" font-style="italic">Rorc</text>
<text x="1184.2" y="993.7" font-size="15.1" text-anchor="start" fill="#2e6cbe" font-style="italic">Trbv5</text>
<text x="1306.1" y="1001.9" font-size="15.1" text-anchor="start" fill="#2e6cbe" font-style="italic">Trbv3</text>
<text x="1324" y="1016.7" font-size="15.1" text-anchor="start" fill="#2e6cbe" font-style="italic">Trbv26</text>
<text x="1190.4" y="1016.7" font-size="15.1" text-anchor="start" fill="#2e6cbe" font-style="italic">Trbv15</text>
<text x="1288.4" y="1033.8" font-size="15.1" text-anchor="start" fill="#2e6cbe" font-style="italic">Trbv13-1</text>
<text x="1288.4" y="1052.7" font-size="15.1" text-anchor="start" fill="#2e6cbe" font-style="italic">Trbv2</text>
<text x="1387.7" y="1032.7" font-size="15.1" text-anchor="start" fill="#2e6cbe" font-style="italic">Trbv14</text>
<text x="1387.7" y="1056.8" font-size="15.1" text-anchor="start" fill="#2e6cbe" font-style="italic">Trbv31</text>
<text x="1281.9" y="1066" font-size="15.1" text-anchor="start" fill="#2e6cbe" font-style="italic">Trbv17</text>
<text x="1314.8" y="1081" font-size="15.1" text-anchor="start" fill="#2e6cbe" font-style="italic">Trbv13-3</text>
<text x="1267.9" y="1101.4" font-size="15.1" text-anchor="start" fill="#2e6cbe" font-style="italic">Trbv16</text>
<text x="1270.6" y="1117" font-size="15.1" text-anchor="start" fill="#2e6cbe" font-style="italic">Trbv4</text>
<text x="1310.2" y="1128.3" font-size="15.1" text-anchor="start" fill="#2e6cbe" font-style="italic">Trbv12-1</text>
<text x="1320.5" y="1161.6" font-size="15.1" text-anchor="start" fill="#2e6cbe" font-style="italic">Trbv29</text>
<text x="1273.6" y="1156.5" font-size="15.1" text-anchor="start" fill="#111" font-style="italic">Cd8a</text>
<text x="1283.9" y="1184.3" font-size="15.1" text-anchor="start" fill="#111" font-style="italic">Cd8b1</text>
<text x="1309" y="1212.2" font-size="15.1" text-anchor="start" fill="#2e6cbe" font-style="italic">Trbv23</text>
<text x="1264.7" y="1234.9" font-size="15.1" text-anchor="start" fill="#2e6cbe" font-style="italic">Trbv30</text>
<line x1="831.2" y1="1020.3" x2="847.6" y2="1025.2" stroke="#fff" stroke-width="5.1" stroke-linecap="round"/>
<polygon points="854.8,1027.3 845.5,1028.7 847.8,1021" fill="#fff" stroke="#fff" stroke-width="2.4" stroke-linejoin="round"/>
<line x1="981" y1="1115.6" x2="957.9" y2="1124.9" stroke="#fff" stroke-width="5.1" stroke-linecap="round"/>
<polygon points="950.9,1127.7 957.3,1120.8 960.3,1128.2" fill="#fff" stroke="#fff" stroke-width="2.4" stroke-linejoin="round"/>
<line x1="1017.4" y1="1207.2" x2="1013" y2="1223.7" stroke="#fff" stroke-width="5.1" stroke-linecap="round"/>
<polygon points="1011.1,1231 1009.4,1221.8 1017.1,1223.8" fill="#fff" stroke="#fff" stroke-width="2.4" stroke-linejoin="round"/>
<line x1="1026.1" y1="1229.8" x2="1014.4" y2="1233.7" stroke="#fff" stroke-width="5.1" stroke-linecap="round"/>
<polygon points="1007.3,1236 1014.1,1229.5 1016.6,1237.1" fill="#fff" stroke="#fff" stroke-width="2.4" stroke-linejoin="round"/>
<line x1="992.3" y1="1272.4" x2="1003.6" y2="1257.1" stroke="#fff" stroke-width="5.1" stroke-linecap="round"/>
<polygon points="1008.1,1251.1 1006.2,1260.3 999.8,1255.5" fill="#fff" stroke="#fff" stroke-width="2.4" stroke-linejoin="round"/>
<polyline points="1070,1263.6 1049.3,1250.2 1030,1248.9" fill="none" stroke="#fff" stroke-width="5" stroke-linejoin="round"/>
<line x1="1030" y1="1248.9" x2="1029.4" y2="1248.8" stroke="#fff" stroke-width="5.1" stroke-linecap="round"/>
<polygon points="1022,1247.5 1031.1,1245 1029.7,1252.9" fill="#fff" stroke="#fff" stroke-width="2.4" stroke-linejoin="round"/>
<line x1="1098.3" y1="1156.1" x2="1098.3" y2="1211.7" stroke="#fff" stroke-width="5.1" stroke-linecap="round"/>
<polygon points="1098.3,1219.2 1094.3,1210.7 1102.3,1210.7" fill="#fff" stroke="#fff" stroke-width="2.4" stroke-linejoin="round"/>
<line x1="1076.4" y1="1181.1" x2="1087.1" y2="1226.1" stroke="#fff" stroke-width="5.1" stroke-linecap="round"/>
<polygon points="1088.8,1233.4 1082.9,1226.1 1090.7,1224.2" fill="#fff" stroke="#fff" stroke-width="2.4" stroke-linejoin="round"/>
<line x1="1068.7" y1="1206.9" x2="1072.2" y2="1222.3" stroke="#fff" stroke-width="5.1" stroke-linecap="round"/>
<polygon points="1073.8,1229.6 1068,1222.2 1075.8,1220.4" fill="#fff" stroke="#fff" stroke-width="2.4" stroke-linejoin="round"/>
<line x1="1152.5" y1="1263.6" x2="1139.5" y2="1237.6" stroke="#fff" stroke-width="5.1" stroke-linecap="round"/>
<polygon points="1136.2,1230.9 1143.6,1236.7 1136.4,1240.3" fill="#fff" stroke="#fff" stroke-width="2.4" stroke-linejoin="round"/>
<line x1="1261.6" y1="819.7" x2="1253.2" y2="823.5" stroke="#fff" stroke-width="5.1" stroke-linecap="round"/>
<polygon points="1246.4,826.6 1252.5,819.4 1255.8,826.7" fill="#fff" stroke="#fff" stroke-width="2.4" stroke-linejoin="round"/>
<line x1="1326.8" y1="866" x2="1304.3" y2="875.5" stroke="#fff" stroke-width="5.1" stroke-linecap="round"/>
<polygon points="1297.4,878.4 1303.7,871.4 1306.8,878.8" fill="#fff" stroke="#fff" stroke-width="2.4" stroke-linejoin="round"/>
<line x1="1236.8" y1="908.6" x2="1221.7" y2="915.3" stroke="#fff" stroke-width="5.1" stroke-linecap="round"/>
<polygon points="1214.8,918.3 1221,911.2 1224.2,918.5" fill="#fff" stroke="#fff" stroke-width="2.4" stroke-linejoin="round"/>
<line x1="1287.7" y1="916.9" x2="1264.5" y2="926.2" stroke="#fff" stroke-width="5.1" stroke-linecap="round"/>
<polygon points="1257.5,929 1263.9,922.1 1266.9,929.6" fill="#fff" stroke="#fff" stroke-width="2.4" stroke-linejoin="round"/>
<line x1="1385.5" y1="901.8" x2="1358.4" y2="907.1" stroke="#fff" stroke-width="5.1" stroke-linecap="round"/>
<polygon points="1351,908.6 1358.6,903 1360.1,910.9" fill="#fff" stroke="#fff" stroke-width="2.4" stroke-linejoin="round"/>
<line x1="1381.3" y1="963.7" x2="1355" y2="976.8" stroke="#fff" stroke-width="5.1" stroke-linecap="round"/>
<polygon points="1348.3,980.2 1354.1,972.8 1357.7,980" fill="#fff" stroke="#fff" stroke-width="2.4" stroke-linejoin="round"/>
<line x1="1278.1" y1="977.5" x2="1254.8" y2="986.3" stroke="#fff" stroke-width="5.1" stroke-linecap="round"/>
<polygon points="1247.8,989 1254.3,982.2 1257.2,989.7" fill="#fff" stroke="#fff" stroke-width="2.4" stroke-linejoin="round"/>
<line x1="1223.3" y1="991.2" x2="1237.9" y2="996.5" stroke="#fff" stroke-width="5.1" stroke-linecap="round"/>
<polygon points="1244.9,999.1 1235.5,999.9 1238.3,992.4" fill="#fff" stroke="#fff" stroke-width="2.4" stroke-linejoin="round"/>
<line x1="1299.3" y1="996.6" x2="1275.6" y2="1004.5" stroke="#fff" stroke-width="5.1" stroke-linecap="round"/>
<polygon points="1268.5,1006.9 1275.3,1000.4 1277.8,1008" fill="#fff" stroke="#fff" stroke-width="2.4" stroke-linejoin="round"/>
<line x1="1317.2" y1="1013.9" x2="1297.4" y2="1009.8" stroke="#fff" stroke-width="5.1" stroke-linecap="round"/>
<polygon points="1290.1,1008.3 1299.2,1006.1 1297.6,1013.9" fill="#fff" stroke="#fff" stroke-width="2.4" stroke-linejoin="round"/>
<line x1="1238.3" y1="1015.1" x2="1260.7" y2="1021.6" stroke="#fff" stroke-width="5.1" stroke-linecap="round"/>
<polygon points="1267.9,1023.7 1258.6,1025.2 1260.9,1017.5" fill="#fff" stroke="#fff" stroke-width="2.4" stroke-linejoin="round"/>
<line x1="1283.5" y1="1026.8" x2="1261" y2="1036.3" stroke="#fff" stroke-width="5.1" stroke-linecap="round"/>
<polygon points="1254.1,1039.2 1260.4,1032.2 1263.5,1039.6" fill="#fff" stroke="#fff" stroke-width="2.4" stroke-linejoin="round"/>
<line x1="1282.9" y1="1048" x2="1256.5" y2="1046.7" stroke="#fff" stroke-width="5.1" stroke-linecap="round"/>
<polygon points="1249,1046.3 1257.7,1042.7 1257.3,1050.7" fill="#fff" stroke="#fff" stroke-width="2.4" stroke-linejoin="round"/>
<line x1="1381.6" y1="1028.9" x2="1348.2" y2="1039.9" stroke="#fff" stroke-width="5.1" stroke-linecap="round"/>
<polygon points="1341.1,1042.2 1347.9,1035.7 1350.4,1043.3" fill="#fff" stroke="#fff" stroke-width="2.4" stroke-linejoin="round"/>
<line x1="1381.6" y1="1051.5" x2="1350.9" y2="1057" stroke="#fff" stroke-width="5.1" stroke-linecap="round"/>
<polygon points="1343.5,1058.3 1351.2,1052.9 1352.6,1060.7" fill="#fff" stroke="#fff" stroke-width="2.4" stroke-linejoin="round"/>
<line x1="1277.7" y1="1063.8" x2="1264.1" y2="1077.6" stroke="#fff" stroke-width="5.1" stroke-linecap="round"/>
<polygon points="1258.8,1082.9 1261.9,1074 1267.6,1079.7" fill="#fff" stroke="#fff" stroke-width="2.4" stroke-linejoin="round"/>
<line x1="1311.7" y1="1072" x2="1291.9" y2="1075.5" stroke="#fff" stroke-width="5.1" stroke-linecap="round"/>
<polygon points="1284.5,1076.8 1292.2,1071.4 1293.6,1079.3" fill="#fff" stroke="#fff" stroke-width="2.4" stroke-linejoin="round"/>
<line x1="1261.3" y1="1099.8" x2="1234" y2="1114.7" stroke="#fff" stroke-width="5.1" stroke-linecap="round"/>
<polygon points="1227.4,1118.3 1232.9,1110.7 1236.8,1117.7" fill="#fff" stroke="#fff" stroke-width="2.4" stroke-linejoin="round"/>
<line x1="1267.9" y1="1117.3" x2="1252" y2="1132.1" stroke="#fff" stroke-width="5.1" stroke-linecap="round"/>
<polygon points="1246.5,1137.2 1250,1128.5 1255.4,1134.3" fill="#fff" stroke="#fff" stroke-width="2.4" stroke-linejoin="round"/>
<line x1="1305.5" y1="1126.9" x2="1283" y2="1136.4" stroke="#fff" stroke-width="5.1" stroke-linecap="round"/>
<polygon points="1276.1,1139.3 1282.4,1132.3 1285.5,1139.7" fill="#fff" stroke="#fff" stroke-width="2.4" stroke-linejoin="round"/>
<line x1="1330.2" y1="1145" x2="1323.6" y2="1139.6" stroke="#fff" stroke-width="5.1" stroke-linecap="round"/>
<polygon points="1317.8,1134.8 1326.9,1137.1 1321.8,1143.3" fill="#fff" stroke="#fff" stroke-width="2.4" stroke-linejoin="round"/>
<line x1="1269.1" y1="1148.1" x2="1236.6" y2="1157" stroke="#fff" stroke-width="5.1" stroke-linecap="round"/>
<polygon points="1229.4,1159 1236.5,1152.9 1238.7,1160.6" fill="#fff" stroke="#fff" stroke-width="2.4" stroke-linejoin="round"/>
<line x1="1280.8" y1="1174.4" x2="1263.5" y2="1170.4" stroke="#fff" stroke-width="5.1" stroke-linecap="round"/>
<polygon points="1256.2,1168.7 1265.4,1166.7 1263.6,1174.5" fill="#fff" stroke="#fff" stroke-width="2.4" stroke-linejoin="round"/>
<line x1="1302.8" y1="1208.9" x2="1286" y2="1214" stroke="#fff" stroke-width="5.1" stroke-linecap="round"/>
<polygon points="1278.8,1216.2 1285.8,1209.9 1288.1,1217.6" fill="#fff" stroke="#fff" stroke-width="2.4" stroke-linejoin="round"/>
<line x1="1258.2" y1="1229" x2="1236.1" y2="1229" stroke="#fff" stroke-width="5.1" stroke-linecap="round"/>
<polygon points="1228.6,1229 1237.1,1225 1237.1,1233" fill="#fff" stroke="#fff" stroke-width="2.4" stroke-linejoin="round"/>
<line x1="831.2" y1="1020.3" x2="847.6" y2="1025.2" stroke="#000" stroke-width="2.5"/>
<polygon points="854.8,1027.3 845.5,1028.7 847.8,1021" fill="#000"/>
<line x1="981" y1="1115.6" x2="957.9" y2="1124.9" stroke="#000" stroke-width="2.5"/>
<polygon points="950.9,1127.7 957.3,1120.8 960.3,1128.2" fill="#000"/>
<line x1="1017.4" y1="1207.2" x2="1013" y2="1223.7" stroke="#000" stroke-width="2.5"/>
<polygon points="1011.1,1231 1009.4,1221.8 1017.1,1223.8" fill="#000"/>
<line x1="1026.1" y1="1229.8" x2="1014.4" y2="1233.7" stroke="#000" stroke-width="2.5"/>
<polygon points="1007.3,1236 1014.1,1229.5 1016.6,1237.1" fill="#000"/>
<line x1="992.3" y1="1272.4" x2="1003.6" y2="1257.1" stroke="#000" stroke-width="2.5"/>
<polygon points="1008.1,1251.1 1006.2,1260.3 999.8,1255.5" fill="#000"/>
<polyline points="1070,1263.6 1049.3,1250.2 1030,1248.9" fill="none" stroke="#000" stroke-width="2.5"/>
<line x1="1030" y1="1248.9" x2="1029.4" y2="1248.8" stroke="#000" stroke-width="2.5"/>
<polygon points="1022,1247.5 1031.1,1245 1029.7,1252.9" fill="#000"/>
<line x1="1098.3" y1="1156.1" x2="1098.3" y2="1211.7" stroke="#000" stroke-width="2.5"/>
<polygon points="1098.3,1219.2 1094.3,1210.7 1102.3,1210.7" fill="#000"/>
<line x1="1076.4" y1="1181.1" x2="1087.1" y2="1226.1" stroke="#000" stroke-width="2.5"/>
<polygon points="1088.8,1233.4 1082.9,1226.1 1090.7,1224.2" fill="#000"/>
<line x1="1068.7" y1="1206.9" x2="1072.2" y2="1222.3" stroke="#000" stroke-width="2.5"/>
<polygon points="1073.8,1229.6 1068,1222.2 1075.8,1220.4" fill="#000"/>
<line x1="1152.5" y1="1263.6" x2="1139.5" y2="1237.6" stroke="#000" stroke-width="2.5"/>
<polygon points="1136.2,1230.9 1143.6,1236.7 1136.4,1240.3" fill="#000"/>
<line x1="1261.6" y1="819.7" x2="1253.2" y2="823.5" stroke="#000" stroke-width="2.5"/>
<polygon points="1246.4,826.6 1252.5,819.4 1255.8,826.7" fill="#000"/>
<line x1="1326.8" y1="866" x2="1304.3" y2="875.5" stroke="#000" stroke-width="2.5"/>
<polygon points="1297.4,878.4 1303.7,871.4 1306.8,878.8" fill="#000"/>
<line x1="1236.8" y1="908.6" x2="1221.7" y2="915.3" stroke="#000" stroke-width="2.5"/>
<polygon points="1214.8,918.3 1221,911.2 1224.2,918.5" fill="#000"/>
<line x1="1287.7" y1="916.9" x2="1264.5" y2="926.2" stroke="#000" stroke-width="2.5"/>
<polygon points="1257.5,929 1263.9,922.1 1266.9,929.6" fill="#000"/>
<line x1="1385.5" y1="901.8" x2="1358.4" y2="907.1" stroke="#000" stroke-width="2.5"/>
<polygon points="1351,908.6 1358.6,903 1360.1,910.9" fill="#000"/>
<line x1="1381.3" y1="963.7" x2="1355" y2="976.8" stroke="#000" stroke-width="2.5"/>
<polygon points="1348.3,980.2 1354.1,972.8 1357.7,980" fill="#000"/>
<line x1="1278.1" y1="977.5" x2="1254.8" y2="986.3" stroke="#000" stroke-width="2.5"/>
<polygon points="1247.8,989 1254.3,982.2 1257.2,989.7" fill="#000"/>
<line x1="1223.3" y1="991.2" x2="1237.9" y2="996.5" stroke="#000" stroke-width="2.5"/>
<polygon points="1244.9,999.1 1235.5,999.9 1238.3,992.4" fill="#000"/>
<line x1="1299.3" y1="996.6" x2="1275.6" y2="1004.5" stroke="#000" stroke-width="2.5"/>
<polygon points="1268.5,1006.9 1275.3,1000.4 1277.8,1008" fill="#000"/>
<line x1="1317.2" y1="1013.9" x2="1297.4" y2="1009.8" stroke="#000" stroke-width="2.5"/>
<polygon points="1290.1,1008.3 1299.2,1006.1 1297.6,1013.9" fill="#000"/>
<line x1="1238.3" y1="1015.1" x2="1260.7" y2="1021.6" stroke="#000" stroke-width="2.5"/>
<polygon points="1267.9,1023.7 1258.6,1025.2 1260.9,1017.5" fill="#000"/>
<line x1="1283.5" y1="1026.8" x2="1261" y2="1036.3" stroke="#000" stroke-width="2.5"/>
<polygon points="1254.1,1039.2 1260.4,1032.2 1263.5,1039.6" fill="#000"/>
<line x1="1282.9" y1="1048" x2="1256.5" y2="1046.7" stroke="#000" stroke-width="2.5"/>
<polygon points="1249,1046.3 1257.7,1042.7 1257.3,1050.7" fill="#000"/>
<line x1="1381.6" y1="1028.9" x2="1348.2" y2="1039.9" stroke="#000" stroke-width="2.5"/>
<polygon points="1341.1,1042.2 1347.9,1035.7 1350.4,1043.3" fill="#000"/>
<line x1="1381.6" y1="1051.5" x2="1350.9" y2="1057" stroke="#000" stroke-width="2.5"/>
<polygon points="1343.5,1058.3 1351.2,1052.9 1352.6,1060.7" fill="#000"/>
<line x1="1277.7" y1="1063.8" x2="1264.1" y2="1077.6" stroke="#000" stroke-width="2.5"/>
<polygon points="1258.8,1082.9 1261.9,1074 1267.6,1079.7" fill="#000"/>
<line x1="1311.7" y1="1072" x2="1291.9" y2="1075.5" stroke="#000" stroke-width="2.5"/>
<polygon points="1284.5,1076.8 1292.2,1071.4 1293.6,1079.3" fill="#000"/>
<line x1="1261.3" y1="1099.8" x2="1234" y2="1114.7" stroke="#000" stroke-width="2.5"/>
<polygon points="1227.4,1118.3 1232.9,1110.7 1236.8,1117.7" fill="#000"/>
<line x1="1267.9" y1="1117.3" x2="1252" y2="1132.1" stroke="#000" stroke-width="2.5"/>
<polygon points="1246.5,1137.2 1250,1128.5 1255.4,1134.3" fill="#000"/>
<line x1="1305.5" y1="1126.9" x2="1283" y2="1136.4" stroke="#000" stroke-width="2.5"/>
<polygon points="1276.1,1139.3 1282.4,1132.3 1285.5,1139.7" fill="#000"/>
<line x1="1330.2" y1="1145" x2="1323.6" y2="1139.6" stroke="#000" stroke-width="2.5"/>
<polygon points="1317.8,1134.8 1326.9,1137.1 1321.8,1143.3" fill="#000"/>
<line x1="1269.1" y1="1148.1" x2="1236.6" y2="1157" stroke="#000" stroke-width="2.5"/>
<polygon points="1229.4,1159 1236.5,1152.9 1238.7,1160.6" fill="#000"/>
<line x1="1280.8" y1="1174.4" x2="1263.5" y2="1170.4" stroke="#000" stroke-width="2.5"/>
<polygon points="1256.2,1168.7 1265.4,1166.7 1263.6,1174.5" fill="#000"/>
<line x1="1302.8" y1="1208.9" x2="1286" y2="1214" stroke="#000" stroke-width="2.5"/>
<polygon points="1278.8,1216.2 1285.8,1209.9 1288.1,1217.6" fill="#000"/>
<line x1="1258.2" y1="1229" x2="1236.1" y2="1229" stroke="#000" stroke-width="2.5"/>
<polygon points="1228.6,1229 1237.1,1225 1237.1,1233" fill="#000"/>
<polyline points="775.1,1582.3 745,1671.6 757.6,1714.3 764,1702.9 795.2,1728.5 834.6,1743.9 829.8,1751 784.1,1772.8 866.5,1746.3 891.9,1707.7 896.6,1733.2 897,1731.8 859.9,1833.7 867.7,1833.7 854,1649.6 831,1696.3 878.2,1705.8 890.7,1751.5 872.9,1770.4 850.4,1776.8 912,1770.4 921.5,1766.9 931,1772.8 887.2,1778.3 898.5,1780.6 898.5,1783.5 820.3,1766.2 819.6,1780.6 823.7,1796.3 855.2,1807.2 868.9,1808.3 889.1,1806.7 838.6,1815.4 870.6,1821.8 878.2,1820.7 827.9,1826.6 845.2,1828.5 850.9,1828.5 876,1830.1 881.2,1837.2 887.2,1836.1 850,1850.3 810.2,1861.6 874.1,1864.5 878.2,1859.3 883.1,1860.9 1208.7,1362.6 1194.4,1476 1192.1,1538.7 1144.7,1612.7 1206.2,1670.9 1136.7,1702.3 1149.3,1705.8 1111.1,1734.9 1128.4,1736.2 1121.7,1741.7 1106.9,1743.7 1181.6,1741.7 1147.5,1749.2 1175.1,1763 1191.4,1770.5 1116.7,1764.3 1124.7,1770 1134.2,1768 1136.7,1772.3 1129.2,1782.6 1110.4,1781.3 1110.4,1788.6 1126.7,1795.1 1117.9,1797.4 1136.2,1800.6 1142.2,1805.1 1148,1803.9 1174.4,1805.1 1173.9,1811.2 1152.3,1813.7 1144.3,1817.4 1141.2,1818.9 1153,1825.2 1162.6,1820.7 1165.6,1823.2 1160.6,1835.3 1200.7,1831.2 1200.7,1834.5 1191.9,1843.3 1184.4,1845.8 1184.4,1849.5 1157.5,1847.8 1151.3,1860.3 1148,1867.1 1141.7,1867.1 1165.6,1857.1 1148,1851.3 1140.5,1852.8 1137.5,1831.5 1135.5,1843.8 1131.7,1856.3 1129.2,1850.8 1133,1860.8 1138,1860.3 1122.9,1854.6 1119.9,1860.8 1125.4,1859.6 1115.4,1867.1 1121.4,1825.7 1119.7,1820.2 1122.9,1818.2 1115.4,1812.7 1120.4,1806.9 1116.2,1820.2 1109.1,1821.5 1104.6,1822.7 1102.1,1756.7 1103.2,1758.8 1105.3,1758.3 1101.1,1760.9 1103.2,1762 1100,1764 1102.1,1765.6 1097.9,1768.2 1099,1771.4 1096.9,1773.4 1100,1774.5 1094.8,1770.3 1106.8,1770.3 1107.9,1770.8 1096.9,1776.6 1092.7,1783.9 1094.8,1786 1091.7,1789.1 1098.5,1785.5 1101.6,1786 1101.1,1788.1 1088.5,1796.4 1092.7,1798.5 968.4,1857.2 960.4,1859.1 960.4,1819.8 971.8,1845.2 985.3,1867.4 965,1830.6 956.8,1824.7 986.1,1854 993.7,1865.7 1000.8,1867.9 990.8,1857 946.7,1868 993.9,1859 990,1861.8 975.6,1843.4 985,1860.6 970.7,1834.8 954,1836 965.6,1849.8 963.6,1833.1 946.2,1823.3 963.3,1864.1 986.8,1864.8 941.9,1832.4 940,1862.5 981.9,1847.4 977.1,1839.4 935.3,1834.5 985,1849.6 981,1862.7 998,1866.7 936.7,1848 978.3,1847.5 981,1867.2 968.5,1828.2 981.1,1843.2 974.3,1850.3 977.1,1850.3 963.7,1838.3 979.1,1856.4 973.1,1859.9 978.2,1865.7 991.2,1864.5 966.5,1843.4 945.4,1859.2 958.9,1829.7 964.7,1826.1 970.3,1842.1 939.5,1838.8 953.9,1822.3 989,1853.3 959.5,1838.4 961.1,1848.5 969.2,1867.2 941.5,1815.9 975.2,1862.8 996.7,1863.4 974.1,1866 981.7,1859 955,1868.2 938.9,1850.6 941.3,1865.7 981.8,1851.2 984.8,1857.5 945.8,1834.6 950.2,1856.5 949.8,1819 947.7,1851.8 992.4,1868.2 948.8,1830.6 934,1824.3 963.3,1846.7 973.8,1847.5 953.3,1819.2 988.8,1859.2 938.6,1834.7 967.5,1853.4 972.6,1839.2 976.1,1868 988.7,1867.2 953.7,1845.3 962.1,1851.9 940,1819.1 960.4,1867.7 972.5,1853.3 971.9,1864.1 955.6,1831.4 965.6,1862.3 947.1,1848.3 968.7,1839.6 993.2,1862.5 938.5,1822.7 945.2,1829 983.6,1864 942.5,1855.8 981,1854.1 975.1,1856.3 977.1,1859.5 970.1,1848.1 934.6,1820.6 966.6,1836.2 949.3,1822 958,1854.7 967.1,1833 963.2,1822.7 933.4,1855.5 944.1,1852.5 961.3,1855.2 933.1,1846.3 949.2,1866.3 949.5,1840.5 955.2,1850.8 959.5,1823.5 956.3,1840.2 962.3,1828.3 995.2,1868.3 968.8,1862.5 956.8,1845.5 966.8,1865.7 975.3,1837.2 955.4,1853.6 950,1847.9 956.8,1816.2 936.6,1818 940.1,1868.4 940.5,1859 965,1855.4 950.7,1843.2 952.8,1840.5 945.8,1815.7 945.3,1865.4 933.3,1816 942,1824.9 959.8,1835.2 944.5,1820.9 949.5,1825.8 956.4,1860.5 946.7,1838.9 949.9,1816.2 959.8,1844.2 954,1862 944.1,1845.9 953.3,1825.7 953.6,1857.8 970.7,1831.3 951.6,1833.4 960.5,1864.8 956.7,1820.5 952.5,1830.6 938.6,1855.4 950.9,1862.6 963.2,1867.9 941.4,1848.3 965,1858.8 941.6,1841.4 957.4,1866.1 934.8,1831.3 953,1815.8 950.9,1859.3 951.6,1868 935.3,1858.8 978.5,1844.5 952,1853.4 944.4,1842.8 947.8,1863.4 938.5,1827.5 931.3,1867.5 954.2,1812.4 927.2,1812 907,1868.2 917.7,1850.1 923.9,1824.3 931.7,1861.3 920.2,1823.8 908,1864.4 907.7,1826.8 936.6,1843.8 920.2,1848.4 911.6,1854.5 908.5,1820.1 922.9,1834.9 929.3,1840 912.1,1858.7 908,1843 923.8,1841.9 926.9,1817.6 919,1856.2 905,1823.8 900.3,1863.9 911.8,1822.7 934.4,1798.4 912.9,1866.2 903.9,1868 926.8,1852.9 951.1,1836.9 934.7,1868 899,1845.4 917.5,1812.5 945.5,1805.5 929,1821.5 930.5,1864.7 908.8,1823.9 918.7,1819 927.2,1866.8 903.4,1862.7 920.2,1868.4 918.4,1862.1 900.6,1857.9 937.3,1803.1 890.8,1867.6 921.4,1811.4 925.6,1832.4 931.9,1850.6 923.6,1820.3 923.4,1856.7 931.6,1826.2 900.4,1839.8 919.9,1832.7 905.1,1837 911.3,1828.9 923.6,1868.3 923.8,1852 935.3,1838.4 926.5,1804.4 895.7,1852.7 937.6,1866.8 911.7,1845 908.9,1814.6 917.5,1844.6 915.8,1865.4 934.3,1841.9 948.7,1835.2 908,1835 951.7,1850.3 919.3,1827.4 918.3,1836.3 925.9,1863.5 911,1833.1 930.1,1836.2 914,1834 941.4,1810.4 905.9,1856.5 908.5,1852.2 914.7,1811.4 932.2,1800.7 914.5,1815.1 907.4,1861.5 927,1798.7 897.3,1863.7 926.1,1857.7 893.8,1867.5 932.1,1838.3 943.8,1868.4 933.9,1810.7 955.8,1828.5 895,1861.1 908.8,1847.6 915.3,1856.3 926.3,1845.6 933.4,1863.8 923.6,1807.5 963.6,1842 902.3,1844.1 918.4,1840.1 925.9,1795.4 931.3,1808 939.7,1807.5 901,1832.7 939.2,1830.8 909.8,1839.7 924,1837.7 933.3,1804.8 899.3,1867.9 948.8,1809.7 929.9,1848 921.6,1830.4 904.5,1829.6 921.3,1863.1 957.5,1857.5 899.7,1851 913.4,1861.4 930.1,1816.8 930.3,1796.4 918.6,1805.9 921.6,1844.6 937.6,1799.8 943.4,1812.4 936.8,1852.7 903.7,1851.1 930.1,1858.3 942,1801.9 926.1,1826.9 922,1816.1 911.4,1818.4 944.6,1862.1 895.8,1856.8 1065.7,1835.6 1057.1,1850.9 1081.4,1813.3 1051.9,1855.2 1063.2,1863.7 1046,1866 1087.5,1841.5 1063.5,1838.5 1116.3,1832.2 1060.7,1848.2 1083.7,1810.1 1073.5,1847.4 1070.8,1852.3 1106,1790.2 1078.6,1837 1079.4,1866.9 1098.2,1841.5 1095.1,1835.8 1089.7,1807.5 1057.3,1862.5 1047.8,1862.4 1108.5,1801.7 1080.8,1861 1066.6,1853.7 1072.2,1832.3 1113.9,1846.8 1117,1859.8 1049.2,1866.7 1091.5,1835.4 1114.3,1841.1 1060.9,1843.6 1073.6,1824.5 1055.6,1866.8 1060.6,1866.9 1119.6,1867.4 1071.9,1827.5 1057.4,1847.5 1081,1844.5 1084.2,1798.9 1078.6,1811.4 1041.7,1868.4 1076.7,1844 1068,1846.3 1083,1807.2 1111.4,1806.1 1063,1855.5 1067.1,1867.7 1092.9,1866.2 1099.7,1838.7 1056.7,1857.1 1091.7,1863.2 1104.1,1781.4 1052.3,1865.9 1074.1,1850.2 1106,1857.6 1084.8,1866.8 1088.3,1854.3 1071.8,1867.8 1079.4,1817.8 1075.9,1826.6 1060.4,1863.7 1066.1,1843.6 1060.8,1859.3 1099.7,1790.7 1118.8,1835 1063.4,1851.2 1054.4,1853.7 1063.7,1868 1085.8,1831.5 1096,1782.7 1083.7,1826.4 1091.6,1851.6 1070.9,1858.1 1076.2,1823.5 1089.4,1813.7 1073.5,1854.4 1107.4,1837.1 1113.5,1853.3 1079.4,1833.1 1064.4,1858.2 1062.8,1841.4 1071.5,1843.3 1100.4,1866.7 1068.9,1839.3 1076.5,1816 1080.5,1808.6 1069.3,1855.3 1099.7,1833.8 1075.1,1841.5 1069.1,1834.7 1095.3,1779 1110.8,1868.1 1103.5,1775.7 1079.2,1841.7 1076.1,1820.7 1049.6,1860 1117.6,1851 1070.4,1862.5 1075.8,1835.3 1096.4,1797.6 1087.4,1865.9 1094.2,1792 1054.2,1862.8 1083.3,1839.5 1101.9,1800.7 1056,1859.9 1121.7,1850.8 1058.5,1854.3 1086.4,1836.5 1083.1,1835.4 1068.5,1830.5 1101,1795.9 1084.9,1804.1 1088.1,1791.4 1067.9,1859.7 1080.4,1823.4 1074.4,1837.7 1091.6,1842.8 1086.1,1808.3 1089.3,1819.7 1092.1,1847.2 1114.2,1815.5 1086.4,1859.4 1083.5,1822.9 1083.6,1857.5 1081,1853.4 1086.6,1848.5 1101.3,1861.9 1060.6,1851.1 1114.9,1837.8 1084.3,1813.8 1081.4,1828.9 1109.7,1846 1101.5,1857.4 1043.2,1865.6 1105.9,1845.9 1077,1831.6 1096,1810.7 1052.4,1859.2 1105.1,1797.2 1076,1866 1092.2,1825.8 1101.6,1815.9 1069.2,1849.9 1093.4,1812.1 1091.9,1830 1108.5,1796.3 1091.8,1815.3 1098.9,1830 1103.9,1866.8 1078.4,1863.9 1069.1,1865.7 1118.7,1855.5 1090.1,1786.4 1090.2,1800.4 1111.4,1809.8 1088.4,1802.9 1076.3,1859.3 1097,1794.8 1074.3,1830 1092.8,1856.7 1100.1,1809.3 1095.7,1844.6 1116.5,1828.2 1108,1812.3 1086.2,1816.3 1079.1,1820.6 1100.7,1804.7 1072,1865 1119.7,1843.4 1095.5,1826.3 1112.7,1822.3 1105.3,1787.1 1090.1,1867.1 1073.8,1862.2 1110.2,1798.6 1078,1857.1 1104,1772.3 1111.9,1838.5 1112.7,1864.7 1099.6,1778.9 1112.3,1813.2 1078.7,1848 1121.2,1846.3 1096.7,1790.7 1084.1,1845.3 1064.1,1848.4 1107.3,1867.9 1118.3,1839.9 1098.7,1848.6 1071.8,1839.4 1092.9,1818.9 1109.6,1854.8 1116.6,1848.3 1090.5,1839.1 1063.2,1845.7 1108.5,1824.6 1110.8,1849.6 1077.7,1851.2 1096.8,1863.5 1108.8,1791.3 1089.8,1822.7 1093.6,1859.5 1109.1,1832.7 1081.6,1850 1105.2,1849.8 1103.7,1863.8 1092.8,1822.6 1102.7,1845.4 1092.7,1795.4 1094.6,1801.5 1083,1816.7 1095.9,1806.6 1096,1852.4 1086.4,1851.6 1083.4,1819.7 1094.5,1850 1116.3,1824.5 1084.1,1863.3 1107.7,1862.1 1098.3,1859.5 1105.3,1830.2 1100.1,1844.1 1087.2,1827.1 1095.5,1821.2 1090.9,1792.2 1103.7,1812.7" fill="none" stroke="none" marker-start="url(#m)" marker-mid="url(#m)" marker-end="url(#m)"/>
<rect x="707.8" y="1352.6" width="627.4" height="522" fill="none" stroke="#111" stroke-width="1.8"/>
<line x1="707.8" y1="1874.6" x2="727.8" y2="1874.6" stroke="#333" stroke-width="1.3"/>
<line x1="707.8" y1="1855.7" x2="718.8" y2="1855.7" stroke="#333" stroke-width="1.3"/>
<line x1="707.8" y1="1836.7" x2="718.8" y2="1836.7" stroke="#333" stroke-width="1.3"/>
<line x1="707.8" y1="1817.8" x2="718.8" y2="1817.8" stroke="#333" stroke-width="1.3"/>
<line x1="707.8" y1="1798.8" x2="718.8" y2="1798.8" stroke="#333" stroke-width="1.3"/>
<line x1="707.8" y1="1779.9" x2="727.8" y2="1779.9" stroke="#333" stroke-width="1.3"/>
<line x1="707.8" y1="1760.9" x2="718.8" y2="1760.9" stroke="#333" stroke-width="1.3"/>
<line x1="707.8" y1="1742" x2="718.8" y2="1742" stroke="#333" stroke-width="1.3"/>
<line x1="707.8" y1="1723" x2="718.8" y2="1723" stroke="#333" stroke-width="1.3"/>
<line x1="707.8" y1="1704.1" x2="718.8" y2="1704.1" stroke="#333" stroke-width="1.3"/>
<line x1="707.8" y1="1685.1" x2="727.8" y2="1685.1" stroke="#333" stroke-width="1.3"/>
<line x1="707.8" y1="1666.2" x2="718.8" y2="1666.2" stroke="#333" stroke-width="1.3"/>
<line x1="707.8" y1="1647.2" x2="718.8" y2="1647.2" stroke="#333" stroke-width="1.3"/>
<line x1="707.8" y1="1628.3" x2="718.8" y2="1628.3" stroke="#333" stroke-width="1.3"/>
<line x1="707.8" y1="1609.3" x2="718.8" y2="1609.3" stroke="#333" stroke-width="1.3"/>
<line x1="707.8" y1="1590.4" x2="727.8" y2="1590.4" stroke="#333" stroke-width="1.3"/>
<line x1="707.8" y1="1571.4" x2="718.8" y2="1571.4" stroke="#333" stroke-width="1.3"/>
<line x1="707.8" y1="1552.5" x2="718.8" y2="1552.5" stroke="#333" stroke-width="1.3"/>
<line x1="707.8" y1="1533.5" x2="718.8" y2="1533.5" stroke="#333" stroke-width="1.3"/>
<line x1="707.8" y1="1514.6" x2="718.8" y2="1514.6" stroke="#333" stroke-width="1.3"/>
<line x1="707.8" y1="1495.6" x2="727.8" y2="1495.6" stroke="#333" stroke-width="1.3"/>
<line x1="707.8" y1="1476.7" x2="718.8" y2="1476.7" stroke="#333" stroke-width="1.3"/>
<line x1="707.8" y1="1457.7" x2="718.8" y2="1457.7" stroke="#333" stroke-width="1.3"/>
<line x1="707.8" y1="1438.8" x2="718.8" y2="1438.8" stroke="#333" stroke-width="1.3"/>
<line x1="707.8" y1="1419.8" x2="718.8" y2="1419.8" stroke="#333" stroke-width="1.3"/>
<line x1="707.8" y1="1400.9" x2="727.8" y2="1400.9" stroke="#333" stroke-width="1.3"/>
<line x1="707.8" y1="1382" x2="718.8" y2="1382" stroke="#333" stroke-width="1.3"/>
<line x1="707.8" y1="1363" x2="718.8" y2="1363" stroke="#333" stroke-width="1.3"/>
<line x1="739.2" y1="1874.6" x2="739.2" y2="1868.6" stroke="#333" stroke-width="1.3"/>
<line x1="770.5" y1="1874.6" x2="770.5" y2="1868.6" stroke="#333" stroke-width="1.3"/>
<line x1="801.9" y1="1874.6" x2="801.9" y2="1868.6" stroke="#333" stroke-width="1.3"/>
<line x1="833.3" y1="1874.6" x2="833.3" y2="1868.6" stroke="#333" stroke-width="1.3"/>
<line x1="864.6" y1="1874.6" x2="864.6" y2="1863.6" stroke="#333" stroke-width="1.3"/>
<line x1="896" y1="1874.6" x2="896" y2="1868.6" stroke="#333" stroke-width="1.3"/>
<line x1="927.4" y1="1874.6" x2="927.4" y2="1868.6" stroke="#333" stroke-width="1.3"/>
<line x1="958.8" y1="1874.6" x2="958.8" y2="1868.6" stroke="#333" stroke-width="1.3"/>
<line x1="990.1" y1="1874.6" x2="990.1" y2="1868.6" stroke="#333" stroke-width="1.3"/>
<line x1="1021.5" y1="1874.6" x2="1021.5" y2="1863.6" stroke="#333" stroke-width="1.3"/>
<line x1="1052.9" y1="1874.6" x2="1052.9" y2="1868.6" stroke="#333" stroke-width="1.3"/>
<line x1="1084.2" y1="1874.6" x2="1084.2" y2="1868.6" stroke="#333" stroke-width="1.3"/>
<line x1="1115.6" y1="1874.6" x2="1115.6" y2="1868.6" stroke="#333" stroke-width="1.3"/>
<line x1="1147" y1="1874.6" x2="1147" y2="1868.6" stroke="#333" stroke-width="1.3"/>
<line x1="1178.3" y1="1874.6" x2="1178.3" y2="1863.6" stroke="#333" stroke-width="1.3"/>
<line x1="1209.7" y1="1874.6" x2="1209.7" y2="1868.6" stroke="#333" stroke-width="1.3"/>
<line x1="1241.1" y1="1874.6" x2="1241.1" y2="1868.6" stroke="#333" stroke-width="1.3"/>
<line x1="1272.5" y1="1874.6" x2="1272.5" y2="1868.6" stroke="#333" stroke-width="1.3"/>
<line x1="1303.8" y1="1874.6" x2="1303.8" y2="1868.6" stroke="#333" stroke-width="1.3"/>
<text x="702.9" y="1875.5" font-size="20" text-anchor="end" fill="#000">0</text>
<text x="702.9" y="1786.4" font-size="20" text-anchor="end" fill="#000">20</text>
<text x="702.9" y="1694.6" font-size="20" text-anchor="end" fill="#000">40</text>
<text x="702.9" y="1598.3" font-size="20" text-anchor="end" fill="#000">60</text>
<text x="702.9" y="1501.1" font-size="20" text-anchor="end" fill="#000">80</text>
<text x="702.9" y="1409.4" font-size="20" text-anchor="end" fill="#000">100</text>
<text x="719" y="1896.8" font-size="20" text-anchor="middle" fill="#000">-10</text>
<text x="865.8" y="1896.8" font-size="20" text-anchor="middle" fill="#000">-5</text>
<text x="1020.1" y="1896.8" font-size="20" text-anchor="middle" fill="#000">0</text>
<text x="1179.4" y="1896.8" font-size="20" text-anchor="middle" fill="#000">5</text>
<text x="1330.7" y="1896.8" font-size="20" text-anchor="middle" fill="#000">10</text>
<text x="856.4" y="1925.6" font-size="26.4">log<tspan font-size="17.3" dy="7">2</tspan><tspan dy="-7"> fold change</tspan></text>
<text transform="translate(660.8,1636) rotate(-90)" font-size="26" text-anchor="middle">-log<tspan font-size="17" dy="7">10</tspan><tspan dy="-7">P</tspan></text>
<text x="740.6" y="1390.3" font-size="26" text-anchor="start" fill="#000">DN3b/4</text>
<text x="954.5" y="1390.3" font-size="26" text-anchor="start" fill="#000">DPbl</text>
<polygon points="852,1372.2 917,1372.2 917,1364 933.7,1380.1 917,1396.2 917,1388.3 852,1388.3" fill="#000"/>
<text x="745.8" y="1551.5" font-size="15.0" text-anchor="start" fill="#3aab62" font-style="italic">Tcrg-v2</text>
<text x="729.6" y="1640" font-size="15.0" text-anchor="start" fill="#3aab62" font-style="italic">Tcrg-c2</text>
<text x="717.1" y="1699.2" font-size="15.0" text-anchor="start" fill="#3aab62" font-style="italic">Tcrg-c4</text>
<text x="781" y="1697.5" font-size="15.0" text-anchor="start" fill="#111" font-style="italic">Nkg7</text>
<text x="734.4" y="1743.8" font-size="15.0" text-anchor="start" fill="#3aab62" font-style="italic">Tcrg-c1</text>
<text x="750.9" y="1762.2" font-size="15.0" text-anchor="start" fill="#3aab62" font-style="italic">Tcrg-v4</text>
<text x="734.4" y="1793" font-size="15.0" text-anchor="start" fill="#3aab62" font-style="italic">Tcrg-v1</text>
<text x="831" y="1717.7" font-size="15.0" text-anchor="start" fill="#e0532f" font-style="italic">Ccnd2</text>
<text x="886" y="1675.5" font-size="15.0" text-anchor="start" fill="#111" font-style="italic">Gzma</text>
<text x="921.5" y="1724.8" font-size="15.0" text-anchor="start" fill="#111" font-style="italic">Il7r</text>
<text x="826.7" y="1805.8" font-size="15.0" text-anchor="start" fill="#111" font-style="italic">Cd7</text>
<text x="788.1" y="1843.2" font-size="15.0" text-anchor="start" fill="#3aab62" font-style="italic">Tcrg-v5</text>
<text x="748.1" y="1861.7" font-size="15.0" text-anchor="start" fill="#3aab62" font-style="italic">Tcrg-v7</text>
<text x="1247" y="1374.8" font-size="15.0" text-anchor="start" fill="#111" font-style="italic">Cd8a</text>
<text x="1232" y="1476.5" font-size="15.0" text-anchor="start" fill="#111" font-style="italic">Cd8b1</text>
<text x="1232.7" y="1543.5" font-size="15.0" text-anchor="start" fill="#111" font-style="italic">Cd4</text>
<text x="1198.2" y="1701.8" font-size="15.0" text-anchor="start" fill="#111" font-style="italic">Glcci1</text>
<text x="1158.1" y="1731.2" font-size="15.0" text-anchor="start" fill="#111" font-style="italic">Ccng2</text>
<text x="1212" y="1805.3" font-size="15.0" text-anchor="start" fill="#2e6cbe" font-style="italic">Trav3-4</text>
<text x="1218.8" y="1843.5" font-size="15.0" text-anchor="start" fill="#111" font-style="italic">Arhgef11</text>
<text x="1238.3" y="1861.8" font-size="15.0" text-anchor="start" fill="#2e6cbe" font-style="italic">Trav5-4</text>
<text x="1241.3" y="1889.2" font-size="15.0" text-anchor="start" fill="#2e6cbe" font-style="italic">Trav9-4</text>
<text x="1010.5" y="1838" font-size="15.0" text-anchor="start" fill="#2e6cbe" font-style="italic">Trav19</text>
<text x="1051.4" y="1897.5" font-size="15.0" text-anchor="start" fill="#2e6cbe" font-style="italic">Trav3-3</text>
<text x="1073.3" y="1915.8" font-size="15.0" text-anchor="start" fill="#2e6cbe" font-style="italic">Trav8-2</text>
<text x="1133" y="1919.2" font-size="15.0" text-anchor="start" fill="#2e6cbe" font-style="italic">Trav7-6</text>
<line x1="774.5" y1="1558" x2="774.9" y2="1571" stroke="#fff" stroke-width="5.1" stroke-linecap="round"/>
<polygon points="775.1,1578.5 770.9,1570.1 778.8,1569.9" fill="#fff" stroke="#fff" stroke-width="2.4" stroke-linejoin="round"/>
<line x1="742.6" y1="1647.2" x2="743.7" y2="1659.9" stroke="#fff" stroke-width="5.1" stroke-linecap="round"/>
<polygon points="744.3,1667.4 739.6,1659.3 747.6,1658.6" fill="#fff" stroke="#fff" stroke-width="2.4" stroke-linejoin="round"/>
<line x1="736.7" y1="1704.8" x2="748.2" y2="1710" stroke="#fff" stroke-width="5.1" stroke-linecap="round"/>
<polygon points="755,1713.1 745.6,1713.2 748.9,1705.9" fill="#fff" stroke="#fff" stroke-width="2.4" stroke-linejoin="round"/>
<line x1="797.6" y1="1704.1" x2="796.5" y2="1716.7" stroke="#fff" stroke-width="5.1" stroke-linecap="round"/>
<polygon points="795.9,1724.2 792.6,1715.4 800.6,1716.1" fill="#fff" stroke="#fff" stroke-width="2.4" stroke-linejoin="round"/>
<line x1="786.5" y1="1740.1" x2="821.6" y2="1742.7" stroke="#fff" stroke-width="5.1" stroke-linecap="round"/>
<polygon points="829.1,1743.2 820.3,1746.6 820.9,1738.6" fill="#fff" stroke="#fff" stroke-width="2.4" stroke-linejoin="round"/>
<line x1="805" y1="1755.5" x2="817.1" y2="1753" stroke="#fff" stroke-width="5.1" stroke-linecap="round"/>
<polygon points="824.4,1751.5 816.9,1757.1 815.3,1749.3" fill="#fff" stroke="#fff" stroke-width="2.4" stroke-linejoin="round"/>
<line x1="760.4" y1="1779.2" x2="772.7" y2="1777.5" stroke="#fff" stroke-width="5.1" stroke-linecap="round"/>
<polygon points="780.1,1776.4 772.2,1781.6 771.1,1773.6" fill="#fff" stroke="#fff" stroke-width="2.4" stroke-linejoin="round"/>
<line x1="855.9" y1="1723.1" x2="861.6" y2="1734.1" stroke="#fff" stroke-width="5.1" stroke-linecap="round"/>
<polygon points="865.1,1740.8 857.6,1735.1 864.7,1731.4" fill="#fff" stroke="#fff" stroke-width="2.4" stroke-linejoin="round"/>
<line x1="895.5" y1="1681.1" x2="894.4" y2="1694.2" stroke="#fff" stroke-width="5.1" stroke-linecap="round"/>
<polygon points="893.8,1701.7 890.5,1692.9 898.5,1693.6" fill="#fff" stroke="#fff" stroke-width="2.4" stroke-linejoin="round"/>
<line x1="917.5" y1="1721.4" x2="908.1" y2="1726.1" stroke="#fff" stroke-width="5.1" stroke-linecap="round"/>
<polygon points="901.4,1729.5 907.2,1722.1 910.8,1729.3" fill="#fff" stroke="#fff" stroke-width="2.4" stroke-linejoin="round"/>
<line x1="843.3" y1="1811.4" x2="858" y2="1825.3" stroke="#fff" stroke-width="5.1" stroke-linecap="round"/>
<polygon points="863.5,1830.4 854.6,1827.5 860,1821.7" fill="#fff" stroke="#fff" stroke-width="2.4" stroke-linejoin="round"/>
<line x1="842.9" y1="1841.5" x2="891.7" y2="1853.9" stroke="#fff" stroke-width="5.1" stroke-linecap="round"/>
<polygon points="899,1855.7 889.8,1857.5 891.7,1849.7" fill="#fff" stroke="#fff" stroke-width="2.4" stroke-linejoin="round"/>
<line x1="800.7" y1="1855" x2="866.6" y2="1859.9" stroke="#fff" stroke-width="5.1" stroke-linecap="round"/>
<polygon points="874.1,1860.5 865.3,1863.9 865.9,1855.9" fill="#fff" stroke="#fff" stroke-width="2.4" stroke-linejoin="round"/>
<line x1="1241.3" y1="1367.6" x2="1220.6" y2="1363.5" stroke="#fff" stroke-width="5.1" stroke-linecap="round"/>
<polygon points="1213.2,1362.1 1222.3,1359.8 1220.8,1367.7" fill="#fff" stroke="#fff" stroke-width="2.4" stroke-linejoin="round"/>
<line x1="1226.2" y1="1470" x2="1205" y2="1474.1" stroke="#fff" stroke-width="5.1" stroke-linecap="round"/>
<polygon points="1197.6,1475.5 1205.2,1470 1206.7,1477.8" fill="#fff" stroke="#fff" stroke-width="2.4" stroke-linejoin="round"/>
<line x1="1226.2" y1="1538.2" x2="1204.4" y2="1538.2" stroke="#fff" stroke-width="5.1" stroke-linecap="round"/>
<polygon points="1196.9,1538.2 1205.4,1534.2 1205.4,1542.2" fill="#fff" stroke="#fff" stroke-width="2.4" stroke-linejoin="round"/>
<line x1="1193.7" y1="1697.8" x2="1160.9" y2="1703.9" stroke="#fff" stroke-width="5.1" stroke-linecap="round"/>
<polygon points="1153.5,1705.3 1161.1,1699.8 1162.6,1707.7" fill="#fff" stroke="#fff" stroke-width="2.4" stroke-linejoin="round"/>
<line x1="1153" y1="1725.9" x2="1121.6" y2="1731.6" stroke="#fff" stroke-width="5.1" stroke-linecap="round"/>
<polygon points="1114.2,1732.9 1121.9,1727.5 1123.3,1735.3" fill="#fff" stroke="#fff" stroke-width="2.4" stroke-linejoin="round"/>
<line x1="1207" y1="1806.2" x2="1163.9" y2="1820.4" stroke="#fff" stroke-width="5.1" stroke-linecap="round"/>
<polygon points="1156.8,1822.7 1163.6,1816.2 1166.1,1823.8" fill="#fff" stroke="#fff" stroke-width="2.4" stroke-linejoin="round"/>
<line x1="1213.7" y1="1838.3" x2="1169.2" y2="1846.4" stroke="#fff" stroke-width="5.1" stroke-linecap="round"/>
<polygon points="1161.8,1847.8 1169.4,1842.3 1170.9,1850.2" fill="#fff" stroke="#fff" stroke-width="2.4" stroke-linejoin="round"/>
<line x1="1233.3" y1="1855.8" x2="1163" y2="1859.9" stroke="#fff" stroke-width="5.1" stroke-linecap="round"/>
<polygon points="1155.5,1860.3 1163.8,1855.8 1164.2,1863.8" fill="#fff" stroke="#fff" stroke-width="2.4" stroke-linejoin="round"/>
<line x1="1238.3" y1="1883.9" x2="1159.2" y2="1869.3" stroke="#fff" stroke-width="5.1" stroke-linecap="round"/>
<polygon points="1151.8,1867.9 1160.9,1865.5 1159.4,1873.4" fill="#fff" stroke="#fff" stroke-width="2.4" stroke-linejoin="round"/>
<line x1="1056.4" y1="1836.3" x2="1109.9" y2="1860.3" stroke="#fff" stroke-width="5.1" stroke-linecap="round"/>
<polygon points="1116.7,1863.4 1107.3,1863.6 1110.6,1856.3" fill="#fff" stroke="#fff" stroke-width="2.4" stroke-linejoin="round"/>
<line x1="1106.6" y1="1890.4" x2="1115.7" y2="1876.6" stroke="#fff" stroke-width="5.1" stroke-linecap="round"/>
<polygon points="1119.9,1870.4 1118.5,1879.7 1111.9,1875.3" fill="#fff" stroke="#fff" stroke-width="2.4" stroke-linejoin="round"/>
<line x1="1119.2" y1="1899" x2="1123.7" y2="1872" stroke="#fff" stroke-width="5.1" stroke-linecap="round"/>
<polygon points="1124.9,1864.6 1127.5,1873.6 1119.6,1872.3" fill="#fff" stroke="#fff" stroke-width="2.4" stroke-linejoin="round"/>
<line x1="1138.5" y1="1902.2" x2="1134" y2="1870.2" stroke="#fff" stroke-width="5.1" stroke-linecap="round"/>
<polygon points="1133,1862.8 1138.1,1870.7 1130.2,1871.8" fill="#fff" stroke="#fff" stroke-width="2.4" stroke-linejoin="round"/>
<line x1="774.5" y1="1558" x2="774.9" y2="1571" stroke="#000" stroke-width="2.5"/>
<polygon points="775.1,1578.5 770.9,1570.1 778.8,1569.9" fill="#000"/>
<line x1="742.6" y1="1647.2" x2="743.7" y2="1659.9" stroke="#000" stroke-width="2.5"/>
<polygon points="744.3,1667.4 739.6,1659.3 747.6,1658.6" fill="#000"/>
<line x1="736.7" y1="1704.8" x2="748.2" y2="1710" stroke="#000" stroke-width="2.5"/>
<polygon points="755,1713.1 745.6,1713.2 748.9,1705.9" fill="#000"/>
<line x1="797.6" y1="1704.1" x2="796.5" y2="1716.7" stroke="#000" stroke-width="2.5"/>
<polygon points="795.9,1724.2 792.6,1715.4 800.6,1716.1" fill="#000"/>
<line x1="786.5" y1="1740.1" x2="821.6" y2="1742.7" stroke="#000" stroke-width="2.5"/>
<polygon points="829.1,1743.2 820.3,1746.6 820.9,1738.6" fill="#000"/>
<line x1="805" y1="1755.5" x2="817.1" y2="1753" stroke="#000" stroke-width="2.5"/>
<polygon points="824.4,1751.5 816.9,1757.1 815.3,1749.3" fill="#000"/>
<line x1="760.4" y1="1779.2" x2="772.7" y2="1777.5" stroke="#000" stroke-width="2.5"/>
<polygon points="780.1,1776.4 772.2,1781.6 771.1,1773.6" fill="#000"/>
<line x1="855.9" y1="1723.1" x2="861.6" y2="1734.1" stroke="#000" stroke-width="2.5"/>
<polygon points="865.1,1740.8 857.6,1735.1 864.7,1731.4" fill="#000"/>
<line x1="895.5" y1="1681.1" x2="894.4" y2="1694.2" stroke="#000" stroke-width="2.5"/>
<polygon points="893.8,1701.7 890.5,1692.9 898.5,1693.6" fill="#000"/>
<line x1="917.5" y1="1721.4" x2="908.1" y2="1726.1" stroke="#000" stroke-width="2.5"/>
<polygon points="901.4,1729.5 907.2,1722.1 910.8,1729.3" fill="#000"/>
<line x1="843.3" y1="1811.4" x2="858" y2="1825.3" stroke="#000" stroke-width="2.5"/>
<polygon points="863.5,1830.4 854.6,1827.5 860,1821.7" fill="#000"/>
<line x1="842.9" y1="1841.5" x2="891.7" y2="1853.9" stroke="#000" stroke-width="2.5"/>
<polygon points="899,1855.7 889.8,1857.5 891.7,1849.7" fill="#000"/>
<line x1="800.7" y1="1855" x2="866.6" y2="1859.9" stroke="#000" stroke-width="2.5"/>
<polygon points="874.1,1860.5 865.3,1863.9 865.9,1855.9" fill="#000"/>
<line x1="1241.3" y1="1367.6" x2="1220.6" y2="1363.5" stroke="#000" stroke-width="2.5"/>
<polygon points="1213.2,1362.1 1222.3,1359.8 1220.8,1367.7" fill="#000"/>
<line x1="1226.2" y1="1470" x2="1205" y2="1474.1" stroke="#000" stroke-width="2.5"/>
<polygon points="1197.6,1475.5 1205.2,1470 1206.7,1477.8" fill="#000"/>
<line x1="1226.2" y1="1538.2" x2="1204.4" y2="1538.2" stroke="#000" stroke-width="2.5"/>
<polygon points="1196.9,1538.2 1205.4,1534.2 1205.4,1542.2" fill="#000"/>
<line x1="1193.7" y1="1697.8" x2="1160.9" y2="1703.9" stroke="#000" stroke-width="2.5"/>
<polygon points="1153.5,1705.3 1161.1,1699.8 1162.6,1707.7" fill="#000"/>
<line x1="1153" y1="1725.9" x2="1121.6" y2="1731.6" stroke="#000" stroke-width="2.5"/>
<polygon points="1114.2,1732.9 1121.9,1727.5 1123.3,1735.3" fill="#000"/>
<line x1="1207" y1="1806.2" x2="1163.9" y2="1820.4" stroke="#000" stroke-width="2.5"/>
<polygon points="1156.8,1822.7 1163.6,1816.2 1166.1,1823.8" fill="#000"/>
<line x1="1213.7" y1="1838.3" x2="1169.2" y2="1846.4" stroke="#000" stroke-width="2.5"/>
<polygon points="1161.8,1847.8 1169.4,1842.3 1170.9,1850.2" fill="#000"/>
<line x1="1233.3" y1="1855.8" x2="1163" y2="1859.9" stroke="#000" stroke-width="2.5"/>
<polygon points="1155.5,1860.3 1163.8,1855.8 1164.2,1863.8" fill="#000"/>
<line x1="1238.3" y1="1883.9" x2="1159.2" y2="1869.3" stroke="#000" stroke-width="2.5"/>
<polygon points="1151.8,1867.9 1160.9,1865.5 1159.4,1873.4" fill="#000"/>
<line x1="1056.4" y1="1836.3" x2="1109.9" y2="1860.3" stroke="#000" stroke-width="2.5"/>
<polygon points="1116.7,1863.4 1107.3,1863.6 1110.6,1856.3" fill="#000"/>
<line x1="1106.6" y1="1890.4" x2="1115.7" y2="1876.6" stroke="#000" stroke-width="2.5"/>
<polygon points="1119.9,1870.4 1118.5,1879.7 1111.9,1875.3" fill="#000"/>
<line x1="1119.2" y1="1899" x2="1123.7" y2="1872" stroke="#000" stroke-width="2.5"/>
<polygon points="1124.9,1864.6 1127.5,1873.6 1119.6,1872.3" fill="#000"/>
<line x1="1138.5" y1="1902.2" x2="1134" y2="1870.2" stroke="#000" stroke-width="2.5"/>
<polygon points="1133,1862.8 1138.1,1870.7 1130.2,1871.8" fill="#000"/>
<polyline points="774.4,2136.3 742.4,2319 834.4,2252.4 829.9,2269.5 839.8,2271.9 853.9,2283.3 848.8,2299.5 862.2,2313 845.8,2318.4 854.8,2319 867.6,2320.5 868.2,2325.9 837.7,2325.9 844.6,2328 800.2,2328.3 767.8,2348.9 801.7,2347.4 821.2,2347.7 793.6,2358.8 774.7,2362.4 776.8,2375.9 783.1,2378.3 782.8,2387.6 776.8,2395.7 751.4,2423.3 751.4,2427.1 774.1,2411.9 784,2408 784.6,2415.5 785.2,2422.4 794.2,2429.2 767.2,2431.3 771.4,2433.1 776.8,2435.5 782.8,2435.8 782.2,2445.7 818.8,2448.1 809.2,2448.1 888.3,2372.3 1176.3,2014 1193.8,2013.5 1179.5,2022.3 1195.8,2022.8 1172,2041.6 1193.3,2036.6 1162,2045.9 1161.5,2052.1 1167,2054.1 1187.8,2053.4 1187,2060.4 1169,2067.2 1146.4,2085.5 1161.5,2095 1155.2,2099.3 1141.1,2101.8 1162,2102.6 1167.7,2102.6 1188.3,2116.9 1159,2120.6 1150.7,2128.2 1136.9,2133.2 1139.9,2137.7 1155.7,2140 1130.6,2142 1145.6,2145 1172.7,2143.7 1127.6,2151.5 1135.6,2150.7 1148.2,2152.7 1135.6,2157.8 1141.9,2156.5 1120.6,2161.5 1123.6,2162 1145.6,2164.5 1152.7,2166.5 1163.2,2165 1165.7,2163.3 1127.6,2168.3 1127.6,2172.1 1136.9,2175.8 1141.1,2175.8 1144.4,2175.8 1190.8,2188.9 1177.8,2194.6 1190.8,2203.9 1151.2,2195.1 1141.1,2203.9 1151.2,2205.4 1116.8,2193.9 1108.5,2195.9 1107.5,2204.2 1118.8,2207.9 1098.5,2214.7 1135.1,2213 1142.6,2215.5 1152.7,2217.2 1118.8,2215.5 1113,2218.5 1109.8,2228.1 1083.7,2267.7 1191.3,2203.8 1189.6,2230.6 1203.4,2253.9 1174,2249.4 1158.2,2246.9 1177.8,2282.8 1159,2284.8 1157,2274.8 1150.7,2276.5 1145.6,2300.4 1133.1,2297.3 1159.5,2321.2 1151.9,2316.2 1149.9,2319.9 1137.6,2317.9 1135.1,2322.2 1214.6,2343.8 1205.4,2358.1 1140.6,2338 1133.1,2337.5 1129.6,2334.2 1138.1,2376.4 1130.6,2386.9 1142.4,2394.4 1134.4,2402.7 1122.3,2404.5 1115.5,2404.5 1151.4,2415.8 1131.8,2428.8 1106.8,2412.7 1099.2,2399.5 1093.7,2391.2 1114.8,2368.8 1105.5,2373.6 1100.5,2373.9 1085.4,2373.9 1097.5,2358.1 1102.5,2353 1111.3,2350 1106.8,2345 1111.8,2341.7 1088,2349.8 1096.7,2340 1113,2333.7 1123.1,2326.7 1117.3,2324.7 1109.3,2320.4 1101.7,2317.9 1094.7,2319.9 1088.7,2319.9 1128.6,2313.6 1123.8,2314.1 1102.5,2303.4 1109.8,2305.4 1097.5,2298.3 1105.5,2296.6 1101,2294.1 1120.6,2295.3 1124.3,2295.8 1128.8,2299.8 1131.4,2298.3 1109.8,2289.6 1095.5,2287.8 1096,2292.8 1120.6,2281 1119.3,2276.5 1123.8,2273.3 1133.9,2273.3 1125.6,2264 1136.4,2260.2 1112.5,2261 1114.8,2253.4 1123.1,2253.9 1124.3,2246.9 1132.6,2250.9 1138.6,2250.9 1142.4,2240.6 1140.1,2235.1 1124.8,2232.1 1118.8,2235.1 1136.9,2225.1 1130.6,2224.3 1126.8,2227.6 1123.6,2222.1 1153.2,2217.6 1142.6,2215.6 1135.6,2213.8 1135.6,2216.3 1118.8,2215.1 1113,2219.6 1119.3,2208.3 1141.4,2203.8 1151.2,2205.8 1107,2204.5 1098.7,2214.6 1100.5,2222.1 1103,2223.3 1108,2237.6 1105.5,2236.4 1099.2,2244.7 1102.2,2247.2 1101.2,2252.7 1096,2267.2 1085.4,2254.7 1088,2274.3 1090.5,2274.8 1088.4,2282.3 1079.2,2281.5 1076.7,2288.6 1070.4,2295.8 1076.7,2297.8 1074.2,2309.1 1077.2,2312.9 1081.7,2313.4 1091,2312.9 1095.5,2319.9 1091.7,2307.9 1096.7,2312.4 900.2,2436.9 920.3,2428.9 902.9,2429.2 926.9,2445.9 873.8,2382.4 893.3,2446.5 913.5,2416.1 897.5,2399.2 868.9,2405.3 879.3,2445.5 831.1,2410.6 920.3,2424.2 870.1,2423.5 917.2,2420.5 874.1,2444.6 909.9,2447.4 911.5,2439.6 889.4,2404.4 892.2,2417.6 885.1,2374.4 926.8,2433 926,2442.8 886.9,2444.3 883.5,2416.4 921.6,2441.9 878.2,2424 891.2,2383.8 827.6,2415.6 862.2,2444.3 923.1,2433.4 908.8,2418.2 863.9,2409.5 883.1,2435.8 898.2,2394.3 913.5,2410.8 918.7,2433.6 833.1,2424.7 917.6,2427.3 915.2,2413.7 934.8,2447.3 871.6,2398.8 891.1,2425.3 829.7,2444.5 902.5,2396.6 932.5,2442.3 891.2,2430.2 830.1,2421.9 897.7,2387.1 879.2,2375.6 916.5,2439.9 823.3,2410.7 860.2,2388.2 886.4,2447.5 842.4,2397.8 875.5,2430.7 907.4,2399.4 884.8,2419.2 900.9,2392.8 905.3,2396.6 891.9,2388.6 870.7,2382.7 863.6,2424 908.4,2429.3 881.2,2426.5 861.4,2394.7 908.6,2440.8 905.9,2421.4 930.2,2440.6 897.9,2383.6 848.8,2447.4 836.2,2399.9 905.8,2435.6 921,2445.9 923.6,2427.7 921.7,2437.4 910.7,2409.8 928.3,2437.5 849,2397.1 850.3,2424.2 904.2,2425.4 914.3,2422.6 916.6,2417.3 845.7,2394.6 874.2,2411.7 844.6,2420.7 857.7,2437.1 820.9,2444.1 830.9,2406.9 903,2406.9 895.1,2415.5 908.4,2403.8 906.6,2447.5 914.2,2444 909.7,2424.2 886.6,2400.1 892.5,2432.8 895.6,2381.7 901.2,2446 891.5,2398.4 879.1,2436.1 867.1,2391.9 857.6,2447.1 926.4,2439.8 870.4,2446.1 845.9,2426.9 876.8,2447.1 853.7,2444.1 889.5,2413.6 864.9,2387.1 864.5,2436.9 876.2,2390.2 865.7,2432.4 889,2410.1 918.2,2436.8 884.8,2390.1 896.6,2412.8 931.5,2447.2 880.6,2417.9 885.4,2370.9 873.6,2377.7 901.9,2413.6 886.1,2431.9 897.8,2446.4 897.8,2407.6 837.9,2432.3 889.5,2387.1 871.7,2416.6 827.2,2421.8 885.7,2437.2 870.3,2419.7 915.4,2430.2 887.4,2434.9 838.4,2423.8 920.8,2421.3 878.8,2409.4 851.5,2431.1 873.2,2386.7 875.6,2394.4 890.2,2395 842.3,2437 891.6,2402.3 893.9,2443.2 828.1,2407.8 894.8,2378.5 895.2,2390.6 851.2,2441.6 884.3,2383.9 892.2,2373.3 850.5,2391.6 917.4,2446.3 827.5,2439.5 881.6,2385.1 882.8,2447.6 900.5,2401 862.3,2430.2 865.2,2414 882.9,2432.4 899.3,2410.6 874.4,2399.9 882,2406.4 879.4,2393.2 825,2442.6 907.9,2414.4 887.6,2390.9 910.3,2444.4 819.5,2419.8 898.4,2418.4 858.5,2402.4 837.2,2404.7 875.4,2427.9 830.3,2418.7 867.5,2426.7 838.5,2437.7 868.2,2401.7 851.2,2403.1 897.1,2443.6 885.4,2381.4 848.4,2418.1 929.9,2443.5 897.5,2421.2 842.1,2442.5 836.2,2421.2 904.6,2414.6 902.5,2443 901.4,2417.5 844.4,2447.7 867.6,2445.2 833.1,2403 860.7,2422.3 864.7,2440.8 848.9,2434.4 917.1,2443.4 885.2,2395.9 865.7,2421.5 868.1,2388.4 882.3,2422 912.4,2420.5 882,2380.8 893.9,2411.8 904.3,2399.2 883.4,2411.8 857.1,2392.9 894.3,2408.5 912.6,2432 879.2,2383 890.4,2375.7 905.7,2432.8 856.9,2397.5 894.4,2387.3 853.3,2408.6 882.3,2394.9 877.7,2404.4 887.4,2378.4 838.9,2446.5 868.3,2384.5 911.6,2435.2 854.8,2447.4 833.1,2421 910.9,2405.4 913.9,2446.9 856.3,2408.1 868.9,2429.9 905.5,2440.4 903.6,2419.8 879,2421.2 888.5,2422.9 862.7,2406.8 855.7,2413.4 911.3,2427.3 894.1,2439.6 845.3,2432.7 904.6,2402.6 864.9,2404.5 830.1,2430.8 835.8,2410.6 860.1,2416.8 821.1,2414.5 866.6,2382.1 891.7,2379.3 899.5,2396.9 846.2,2413.5 846.5,2438.7 841.2,2410.2 824.8,2425.5 878.2,2386.7 883.5,2402.3 888.3,2381.9 863.3,2447.7 831.2,2439.6 905.7,2406.1 851.7,2447 832.9,2445.1 899.6,2441.5 892.4,2406 881.2,2442.4 916.9,2424.1 915.2,2436.7 832.1,2433.7 862.2,2385.9 860.3,2391.2 884,2378.3 888.3,2397.5 876.9,2439.2 825.8,2428.7 894.9,2435.3 895,2401.5 848.4,2407.8 895.4,2426.8 875.6,2421.8 872.1,2394.2 902.8,2433.6 866.2,2398.5 889.6,2443 871,2436.7 881.1,2413.8 854.8,2432.1 893.5,2423.1 886.5,2413.1 853.5,2395.6 857.1,2387.4 889.8,2447 842,2402.8 915.4,2433.6 863.9,2392.6 841.6,2422.8 857.4,2428.7 898.7,2430.5 924.8,2430.6 852.8,2399.4 868,2436.8 873.5,2391 901.3,2425.6 834.8,2427.4 860,2442.5 908,2408.3 882.9,2372.7 847.3,2399.4 873.3,2403.9 818.8,2411.4 847.7,2403.3 873.4,2420.1 839.4,2428.1 842.7,2425.3 860.9,2411.5 874.3,2437.7 887.7,2440.8 835.7,2414.3 856.3,2443 836.1,2447.6 871.4,2410.7 841.6,2431 855.9,2425.9 909.4,2437.2 880.6,2401.5 824.1,2407.7 905.8,2444.7 884.3,2441.4 858.5,2424.6 904.1,2393.8 900.3,2388.9 896.7,2433 878.6,2378.9 823.2,2420.8 904.4,2409.9 879.2,2429.8 874.7,2416.4 822.1,2429.9 849.9,2444 877.1,2443.5 838.7,2408.4 886.2,2386.7 909.7,2433 883.9,2429.4 845.5,2435.7 876.8,2398.5 894.4,2395.8 914.1,2426.4 838.7,2414.1 902.7,2438.4 854.2,2438.5 923.8,2447.2 868.6,2396.4 887.4,2428.2 872.9,2434.3 885.3,2408.4 855,2420.7 908.1,2411.5 849.4,2420.8 825.4,2419.1 847.9,2410.6 883.4,2444.4 877.3,2433.3 869.9,2442.1 888.3,2416.2 846.9,2422.6 830.1,2414.1 897.4,2438.3 898.4,2427.1 869.1,2414.6 855.8,2417.3 851.9,2419.2 898.4,2404.9 882.5,2398.7 862.4,2397.9 874.8,2425.1 860.5,2439.5 827.7,2411.7 835.6,2444.1 864.6,2400.9 819.2,2424.3 822.9,2434.5 828.2,2435.5 828.9,2425.3 847.2,2442.8 819.9,2427.7 835.5,2417.3 844.2,2400.1 827.4,2431.8 877.1,2418 925,2436.8 824,2447.5 875.7,2379.6 867.1,2417.4 881,2387.9 908.9,2421.4 890.1,2419.8 834.8,2430.4 869,2409.2 821,2438.6 871.5,2426.7 852.1,2415 840.8,2434.6 845.4,2445 831.1,2337.4 814.7,2378.5 870.6,2365.6 838.2,2387 803.9,2442.4 872.7,2343.9 775.6,2440.6 777,2430.6 805.6,2409.5 799.1,2399.8 840.9,2336.3 847.8,2348.4 832.8,2372.8 883.5,2366.9 842.9,2414.8 880.1,2362.5 862.5,2434.7 876.2,2355.8 803.3,2392.3 879.6,2371.2 840.9,2361.3 842.6,2320.2 781.3,2428 858.6,2330.9 808.3,2442.3 863.4,2363.3 817.8,2377.3 823.3,2367.9 836.7,2333.5 872.3,2331.3 867.8,2363.9 854,2337.8 846.3,2363.6 853,2328.4 890.5,2436.6 813.6,2398 862.9,2334.7 808.6,2379.7 803.3,2446.4 869.8,2374.5 788.9,2403.7 860.1,2357 843.1,2385.6 842.6,2349.7 827.7,2353.8 830.9,2392.4 829.9,2381.8 851.4,2341.6 811.9,2411.4 783.1,2419 882.3,2353.6 822.9,2360.1 847.5,2373.1 788.8,2431.8 792.4,2441 780.2,2443.4 815,2446.8 856.2,2341.8 795.8,2444.2 864.5,2370.5 798.7,2445.8 867.1,2342.2 795,2437.8 872.3,2372.8 809.6,2383.7 860.8,2383.2 843.4,2382.8 824.1,2348 842.1,2331 845.9,2340 887.9,2367.9 838.3,2417.2 810.2,2404.7 804.7,2421.5 875,2330.6 798.3,2440.2 884.9,2363.1 832.5,2398 820.6,2404.9 834.8,2396.2 812.5,2387.4 817.2,2400.7 834.9,2359.8 881.9,2357.2 850,2360.8 859.3,2380.4 827.9,2398.7 838,2363.3 838,2343.4 868.7,2378.3 843.9,2357.7 785.3,2444.2 832.4,2387.7 839.2,2399.8 816.1,2438.3 876.5,2360.1 853,2334 837.7,2346.4 838.8,2353.5 802,2402.1 837.3,2440.4 859.7,2367.9 851.7,2322.7 800.7,2414.7 795.6,2425.7 793.4,2446.7 826.9,2365.8 871.3,2350.7 809.2,2425.6 841.6,2325.7 833.2,2356.2 827.2,2447.4 841.4,2365.9 846.7,2383.7 800.9,2433 790.9,2415.5 777.3,2425.3 806.5,2399.4 858.8,2324.3 814.2,2435.3 836,2390.8 849.9,2345.9 840.3,2380.7 804.8,2386.1 816.9,2430.9 834.9,2348.5 828.2,2339.2 888.8,2407.2 819,2359.7 815.3,2425 850.2,2368.9 810.6,2369.9 799.5,2408 856.2,2365.5 825.8,2394.2 850,2316 854.8,2323.9 830,2362.2 863.6,2352.9 825.1,2383.2 836.3,2351.9 858.5,2319.7 837.4,2337.6 869.3,2356.9 818,2397.6 795.6,2409.9 804.8,2431.2 813,2402.5 808.7,2437.2 828.1,2401.7 865.7,2374.5 774.1,2427.3 875.3,2333.8 835.1,2385.4 820.1,2370.7 802.1,2423.1 798.6,2422.2 797,2398 832,2383.9 791.8,2421.6 835.3,2330.8 800.3,2438.1 780.3,2432.1 831.3,2368 832.9,2363.9 847.4,2336.9 848.4,2332.4 834.9,2343.1 819.2,2436.2 781.8,2413.9 850.9,2387.2 806,2416.6 814,2392.8 870.4,2347.3 828.1,2376.6 790.5,2401.4 857.2,2348.8 806.2,2425.1 839.1,2392.1 852.7,2379.2 823.2,2372.8 887.5,2360.1 791.2,2406.4 813.8,2366.5 861.7,2343.7 787.2,2428.6 821.7,2362.7 791.8,2396.6 854.3,2314.1 786.1,2447.2 1020.3,2408.3 1029.6,2439.8 992,2447.4 1015.5,2446.4 1032.2,2391 1071.7,2349.1 1072.7,2369.9 1080.1,2424.4 994.5,2441 1034,2416.8 1006.9,2432.4 1024.3,2410.2 990,2444 1085.2,2367.5 1006.9,2426.9 986.2,2446.7 1011.3,2443.2 1025.2,2439.5 1041.6,2446.6 1018.4,2421.3 1059,2341.9 1015.9,2431.7 1050.9,2436.5 997.6,2446.4 1038.3,2417.9 1022.9,2429.4 1026,2402.6 1025.6,2422.3 1006.5,2441.4 1012.8,2432.4 1051,2422.6 1024.3,2443.2 1021.1,2447.1 1048,2384.9 1042.4,2443.2 1014.4,2442.6 997.9,2437.9 1057.1,2396.8 1038.2,2383.4 1016.6,2414.4 1036.6,2426.7 1040.2,2379.5 1056,2353.1 1013.2,2420.8 1048,2405.3 1065,2383.3 1043.1,2369.8 1042.7,2389.5 1007.4,2438.4 1073.8,2293.8 1048.5,2361.1 1067.8,2315.1 1034.7,2422.2 1020.4,2418.7 1045.1,2361.2 1066.8,2340.8 1058.4,2366.9 1022.5,2413.6 1057,2445.2 1013.6,2417.1 1004.6,2430.2 1031.1,2416.1 1067,2309.6 1041.8,2385.4 1018,2424.5 1039.5,2411 1036.2,2412.4 1051.9,2442.5 1042.8,2380.5 1011,2429.8 1025.2,2406.5 1074.4,2333.4 1059,2415 1052.5,2355.3 1034,2428.6 1084.3,2336.8 1018.7,2433.9 1045.1,2392 1050.7,2382.1 1002.8,2441.8 1042.2,2375.4 1011.1,2435.5 1078.5,2427.7 1055.2,2432.9 1053.9,2374.2 1095.9,2368.8 1085.9,2426.5 1045.4,2402.7 1038.9,2393.2 1065.5,2348.8 1012.8,2423.7 1049.1,2377.6 1082.8,2276.6 1050.9,2349.9 1036,2437.4 1032.6,2436.4 1029.6,2433.5 1098.9,2445.3 999,2441.2 1047.6,2447 1061.8,2366.4 1029.7,2412.9 1070.2,2438.9 1078.6,2366.9 1001.4,2437.6 1051.4,2399.8 1001.1,2445.6 1020.1,2411.3 1005.7,2444.6 1061.6,2327.7 1042.6,2426.8 1051.1,2359.9 1027,2424.9 1055,2378 1074.2,2338.4 1034.6,2384.9 1048.6,2401.7 1018,2444 1053.2,2424.7 1050.2,2430.1 1060.9,2438.4 1014.1,2435.5 1037.8,2405.5 1061.9,2373.3 1060.7,2384.1 1031,2444.9 1099.9,2257.5 1028.7,2403 1018.1,2428.5 1086.1,2353.6 1088.8,2330 1023.8,2418.5 1076.1,2445.1 1086.7,2259.5 1025.4,2433.1 1069.4,2382.3 1021.2,2432.5 1051.4,2394.3 1075.8,2343.3 1101.8,2231 1061.8,2408.3 1040.1,2440.5 1013.4,2427.8 1010,2422.5 1028.7,2394.3 1063.6,2430.1 1001.8,2431.6 1048.5,2372.1 1021.8,2438.1 1035.6,2442.8 1064.5,2345.2 1009,2447.4 1044.1,2414.2 1077.7,2416.8 1016.9,2411.2 1058.5,2423.9 1090.7,2324.4 1068.9,2430.9 1054.9,2386.4 1011,2440.2 1068.9,2399.1 1032.2,2425.4 994.8,2446.4 1034,2431.7 1058.5,2435.5 1040.3,2408.2 1044.1,2434.7 1046.4,2437 1040.3,2431.1 1021.9,2421.5 1065.2,2423.3 1004.8,2436.9 1045.6,2388.4 1060.6,2432.4 1022.9,2403.1 1060.7,2418.8 1046.5,2395.8 999.2,2434 1027.4,2398.1 1086.8,2409.6 1030.4,2421.1 1045.4,2381.9 1084.6,2325.5 1081.3,2338 1062.7,2400.3 1043.4,2364.4 1031.6,2403.6 1077.3,2388 1035.4,2407.8 1064.2,2321.9 1040.9,2372.5 1036.2,2379.4 1024.5,2399.9 1098.6,2412.3 1059.5,2376.7 1039.4,2399.6 1042.1,2402.7 1099.3,2315.1 1085.2,2436.9 1026.9,2447.4 1080.6,2292.5 1065.2,2335.2 1040.8,2434.9 1045.7,2410.7 1028.7,2407.4 1063.5,2368.7 1012.7,2446.5 1057.3,2339.6 1041.2,2423.9 1066.2,2402.4 1067.7,2414.5 1073.9,2312 1090.8,2253.6 1032.7,2396.6 1046.6,2415.9 1091,2287.2 1023.1,2426.2 1032.5,2387.8 1036.2,2434.6 1072.9,2315.7 1048.5,2389.3 1045.2,2376.8 1063.7,2447.2 1063.6,2410.7 1065.3,2398.9 1046.5,2430.1 1084.2,2444.8 1058.4,2404.8 1066.7,2328.4 1027.2,2429.9 1032.6,2399.5 1057.3,2391.8 1028.7,2418.1 1038.2,2414.4 1017.6,2436.5 1054.3,2437.2 1085.7,2415 1102.3,2445.7 1039,2421.9 1048.5,2355.4 1075.7,2423.7 1046.2,2443 1043.1,2399.4 1031,2410.4 1003.6,2447.4 1029.7,2426.8 1060.4,2358.5 1041.4,2416.5 1071,2412.9 1037.4,2386.2 1096.4,2253.6 1016.3,2418.1 1054.2,2398.5 1098.4,2220.2 1074.3,2304.9 1081,2446.8 1063.5,2319.1 1068.4,2447.5 1079.6,2331.6 1027.9,2436.6 1054.5,2429.9 996.3,2443.3 1060.3,2369.1 1035.4,2403.4 1010.2,2427.1 1052.6,2408.4 1002.4,2434.6 1078.5,2302.4 1076.5,2323.6 1085.6,2418.9 1072.8,2406.1 1066.1,2352.3 1052.7,2347.3 1020.8,2442.6 1082.9,2270.4 1054.8,2363.7 1071.9,2361.2 1070.2,2311.6 1082.2,2353.9 1061.1,2339.1 1016.8,2441.1 1080.3,2376.4 1079.8,2404.2 1059,2394 1037.9,2376.7 1089.9,2315.5 1047.8,2422.1 1057.5,2335.1 1014.3,2439.2 1067.4,2331.8 1025.3,2413 1066.4,2443.5 1082.8,2360.3 1064.7,2396.1 1054.8,2394.6 1032.1,2442.2 1081.9,2279.3 1088.9,2343.3 1038,2396.4 1077.6,2394.1 1024.9,2435.9 1068.9,2307.6 1049.7,2367.8 1090.2,2427.7 1065.9,2434 1061.6,2351.2 1084.5,2287.7 1057.3,2344.8 1054.7,2415.8 1073.9,2379.5 1082.4,2322.6 1054.5,2447.6 1032.9,2447 1067.8,2366.3 1056.6,2349.2 1066.4,2418.7 1099.7,2346.6 1069.4,2320.3 1091.1,2247.5 1085.1,2291.3 1075.5,2326.3 1035.3,2390.3 1081.7,2285.2 1008.1,2435.6 1071.9,2307.2 1068.6,2372.6 1069.5,2409.5 1093.1,2265.9 1054.1,2404.8 1062.7,2416.5 1063.4,2358.4 1080.5,2415.2 1037.1,2446.2 1062.9,2333.4 1046.6,2369.2 1094.7,2410 1050,2365 1091.1,2418.8 1083,2426.2 1098.9,2434.7 1102.6,2341.7 1089.1,2300.2 1061.4,2380.9 1064.5,2324.9 1048.9,2397.6 1072.8,2445 1095.6,2400.8 1056.4,2372.8 1088.1,2446 1060.3,2346.9 1054.4,2412.7 1061.4,2413.1 1076.4,2397.6 1060.4,2335.1 1063.9,2375.6 1060,2331.5 1096.2,2395.3 1042.8,2405.5 989.1,2446.7 1070.2,2337.6 1070.6,2416.5 1038.2,2429.2 1094.6,2296 1074.2,2435.6 1069.9,2369.3 1073.5,2421.4 1049.8,2444.8 1091.6,2357 1069.6,2303.7 1051.3,2414.7 1050.6,2386.7 1051.3,2402.9 1101.9,2368.2 1082.9,2389.7 1061.8,2361.1 1094.1,2447.4 1048.9,2418.9 1081.8,2335 1061.7,2405.2 1090.9,2444.6 1048.9,2439.6 1058.7,2428.8 1072.5,2373.1 1065,2386.8 1098.3,2233.9 1039.4,2437.7 1063.6,2442.4 1061.5,2426.3 993,2443.9 1033.7,2393.5 1093.9,2419 1052,2419.7 1054.7,2369.7 1008.2,2429.4 1051.7,2411.7 1093.8,2330.4 1041.2,2419.9 1057.6,2438.9 1091.8,2256.9 1059.1,2441.5 1069.7,2385.6 1061.5,2323.5 1036.3,2400 1027.4,2415.4 1111.3,2426.8 1112.8,2443.3 1088.3,2374.8 1115.9,2414.5 1114.2,2440.9 1112.2,2321.6 1085.6,2400 1094.4,2275.5 1115.7,2343.6 1097.6,2379.6 1119.8,2366.6 1098,2421.4 1104.7,2292.6 1103.1,2334.7 1079.7,2380.5 1105.3,2358.9 1083.2,2429.6 1074.3,2388.7 1077.4,2437.2 1085.4,2329.4 1098.2,2441.2 1111.2,2399.7 1114.5,2419.7 1096.5,2332.4 1093.6,2351.6 1109.1,2384.4 1107.2,2329.7 1092.8,2338.6 1102.1,2377.1 1082.5,2296.4 1045.8,2419.9 1069.5,2378.1 1108,2437.1 1107.1,2388.3 1088.4,2396.1 1091.5,2434.2 1088.7,2289.1 1080.9,2307.1 1103.6,2308 1066.5,2380 1104.4,2411.2 1100.8,2286.4 1108.3,2426.5 1095,2359.9 1100.7,2416.1 1114.5,2447.6 1074.3,2401.2 1076.2,2407.1 1111.4,2361.3 1091.5,2399.2 1096.7,2375.3 1079.4,2391 1102.2,2434.1 1121.3,2443.1 1122.3,2397.3 1116.3,2397 1127.4,2427.4 1102.5,2364.4 1117.2,2390 1110.5,2328.7" fill="none" stroke="none" marker-start="url(#m)" marker-mid="url(#m)" marker-end="url(#m)"/>
<rect x="706.4" y="1966" width="591.8" height="492.4" fill="none" stroke="#111" stroke-width="1.8"/>
<line x1="706.4" y1="2458.4" x2="726.4" y2="2458.4" stroke="#333" stroke-width="1.3"/>
<line x1="706.4" y1="2437.9" x2="717.4" y2="2437.9" stroke="#333" stroke-width="1.3"/>
<line x1="706.4" y1="2417.3" x2="717.4" y2="2417.3" stroke="#333" stroke-width="1.3"/>
<line x1="706.4" y1="2396.8" x2="717.4" y2="2396.8" stroke="#333" stroke-width="1.3"/>
<line x1="706.4" y1="2376.3" x2="726.4" y2="2376.3" stroke="#333" stroke-width="1.3"/>
<line x1="706.4" y1="2355.8" x2="717.4" y2="2355.8" stroke="#333" stroke-width="1.3"/>
<line x1="706.4" y1="2335.2" x2="717.4" y2="2335.2" stroke="#333" stroke-width="1.3"/>
<line x1="706.4" y1="2314.7" x2="717.4" y2="2314.7" stroke="#333" stroke-width="1.3"/>
<line x1="706.4" y1="2294.2" x2="726.4" y2="2294.2" stroke="#333" stroke-width="1.3"/>
<line x1="706.4" y1="2273.7" x2="717.4" y2="2273.7" stroke="#333" stroke-width="1.3"/>
<line x1="706.4" y1="2253.2" x2="717.4" y2="2253.2" stroke="#333" stroke-width="1.3"/>
<line x1="706.4" y1="2232.6" x2="717.4" y2="2232.6" stroke="#333" stroke-width="1.3"/>
<line x1="706.4" y1="2212.1" x2="726.4" y2="2212.1" stroke="#333" stroke-width="1.3"/>
<line x1="706.4" y1="2191.6" x2="717.4" y2="2191.6" stroke="#333" stroke-width="1.3"/>
<line x1="706.4" y1="2171.1" x2="717.4" y2="2171.1" stroke="#333" stroke-width="1.3"/>
<line x1="706.4" y1="2150.5" x2="717.4" y2="2150.5" stroke="#333" stroke-width="1.3"/>
<line x1="706.4" y1="2130" x2="726.4" y2="2130" stroke="#333" stroke-width="1.3"/>
<line x1="706.4" y1="2109.5" x2="717.4" y2="2109.5" stroke="#333" stroke-width="1.3"/>
<line x1="706.4" y1="2088.9" x2="717.4" y2="2088.9" stroke="#333" stroke-width="1.3"/>
<line x1="706.4" y1="2068.4" x2="717.4" y2="2068.4" stroke="#333" stroke-width="1.3"/>
<line x1="706.4" y1="2047.9" x2="726.4" y2="2047.9" stroke="#333" stroke-width="1.3"/>
<line x1="706.4" y1="2027.4" x2="717.4" y2="2027.4" stroke="#333" stroke-width="1.3"/>
<line x1="706.4" y1="2006.8" x2="717.4" y2="2006.8" stroke="#333" stroke-width="1.3"/>
<line x1="706.4" y1="1986.3" x2="717.4" y2="1986.3" stroke="#333" stroke-width="1.3"/>
<line x1="706.4" y1="1965.8" x2="726.4" y2="1965.8" stroke="#333" stroke-width="1.3"/>
<line x1="748.6" y1="2458.4" x2="748.6" y2="2448.4" stroke="#333" stroke-width="1.3"/>
<line x1="790.8" y1="2458.4" x2="790.8" y2="2439.4" stroke="#333" stroke-width="1.3"/>
<line x1="833" y1="2458.4" x2="833" y2="2448.4" stroke="#333" stroke-width="1.3"/>
<line x1="875.2" y1="2458.4" x2="875.2" y2="2439.4" stroke="#333" stroke-width="1.3"/>
<line x1="917.4" y1="2458.4" x2="917.4" y2="2448.4" stroke="#333" stroke-width="1.3"/>
<line x1="959.6" y1="2458.4" x2="959.6" y2="2439.4" stroke="#333" stroke-width="1.3"/>
<line x1="1001.8" y1="2458.4" x2="1001.8" y2="2448.4" stroke="#333" stroke-width="1.3"/>
<line x1="1044" y1="2458.4" x2="1044" y2="2439.4" stroke="#333" stroke-width="1.3"/>
<line x1="1086.2" y1="2458.4" x2="1086.2" y2="2448.4" stroke="#333" stroke-width="1.3"/>
<line x1="1128.4" y1="2458.4" x2="1128.4" y2="2439.4" stroke="#333" stroke-width="1.3"/>
<line x1="1170.6" y1="2458.4" x2="1170.6" y2="2448.4" stroke="#333" stroke-width="1.3"/>
<line x1="1212.8" y1="2458.4" x2="1212.8" y2="2439.4" stroke="#333" stroke-width="1.3"/>
<line x1="1255" y1="2458.4" x2="1255" y2="2448.4" stroke="#333" stroke-width="1.3"/>
<text x="700.9" y="2470.6" font-size="20" text-anchor="end" fill="#000">0</text>
<text x="700.9" y="2301.7" font-size="20" text-anchor="end" fill="#000">20</text>
<text x="700.9" y="2140.6" font-size="20" text-anchor="end" fill="#000">40</text>
<text x="700.9" y="1977.1" font-size="20" text-anchor="end" fill="#000">60</text>
<text x="791.8" y="2481.3" font-size="20" text-anchor="middle" fill="#000">-4</text>
<text x="960.2" y="2481.3" font-size="20" text-anchor="middle" fill="#000">0</text>
<text x="1129.3" y="2481.3" font-size="20" text-anchor="middle" fill="#000">4</text>
<text x="1297.4" y="2481.3" font-size="20" text-anchor="middle" fill="#000">8</text>
<text x="908.7" y="2508.5" font-size="26.4">log<tspan font-size="17.3" dy="7">2</tspan><tspan dy="-7"> fold change</tspan></text>
<text transform="translate(668.5,2207) rotate(-90)" font-size="26" text-anchor="middle">-log<tspan font-size="17" dy="7">10</tspan><tspan dy="-7">P</tspan></text>
<text x="797.2" y="2006.8" font-size="26" text-anchor="start" fill="#000">DPsm</text>
<text x="992.6" y="2006.8" font-size="26" text-anchor="start" fill="#000">DPbl</text>
<polygon points="886,1996.2 903.5,1979 903.5,1987.5 970.5,1987.5 970.5,2005 903.5,2005 903.5,2013.5" fill="#fff" stroke="#000" stroke-width="3"/>
<text x="918.3" y="2367.3" font-size="15.7" text-anchor="start" fill="#111" font-style="italic">Cd52</text>
<text x="1112.5" y="1998.2" font-size="15.7" text-anchor="start" fill="#111" font-style="italic">Ube2c</text>
<text x="1203.4" y="1994.4" font-size="15.7" text-anchor="start" fill="#111" font-style="italic">Aurkb</text>
<text x="1086.7" y="2018.8" font-size="15.7" text-anchor="start" fill="#111" font-style="italic">Ccna2</text>
<text x="1215.9" y="2018.3" font-size="15.7" text-anchor="start" fill="#111" font-style="italic">Cdk1</text>
<text x="1077.2" y="2041.3" font-size="15.7" text-anchor="start" fill="#111" font-style="italic">Nusap1</text>
<text x="1206.6" y="2045.9" font-size="15.7" text-anchor="start" fill="#111" font-style="italic">Rrm2</text>
<text x="1079.2" y="2062.2" font-size="15.7" text-anchor="start" fill="#111" font-style="italic">Top2a</text>
<text x="1106" y="2077.2" font-size="15.7" text-anchor="start" fill="#111" font-style="italic">Pclaf</text>
<text x="1185.3" y="2090.5" font-size="15.7" text-anchor="start" fill="#111" font-style="italic">Prc1</text>
<text x="1088" y="2102.3" font-size="15.7" text-anchor="start" fill="#111" font-style="italic">Tacc3</text>
<text x="1101.7" y="2123.1" font-size="15.7" text-anchor="start" fill="#111" font-style="italic">Plk1</text>
<text x="1182" y="2133.2" font-size="15.7" text-anchor="start" fill="#111" font-style="italic">Kif11</text>
<text x="1055.8" y="2151.7" font-size="15.7" text-anchor="start" fill="#111" font-style="italic">Mki67</text>
<text x="1178.8" y="2160" font-size="15.7" text-anchor="start" fill="#111" font-style="italic">Tpx2</text>
<text x="1050.8" y="2174.3" font-size="15.7" text-anchor="start" fill="#111" font-style="italic">Kpna2</text>
<text x="1173.2" y="2182.6" font-size="15.7" text-anchor="start" fill="#111" font-style="italic">Knl1</text>
<text x="1052.8" y="2203.9" font-size="15.7" text-anchor="start" fill="#111" font-style="italic">Kif15</text>
<text x="1045.8" y="2234.4" font-size="15.7" text-anchor="start" fill="#111" font-style="italic">Ect2</text>
<text x="1008.2" y="2266.2" font-size="15.7" text-anchor="start" fill="#111" font-style="italic">Ccnb2</text>
<text x="998.9" y="2300.8" font-size="15.7" text-anchor="start" fill="#111" font-style="italic">Ncapg2</text>
<line x1="912.3" y1="2363.3" x2="897.3" y2="2367.3" stroke="#fff" stroke-width="5.1" stroke-linecap="round"/>
<polygon points="890.1,2369.3 897.3,2363.2 899.3,2370.9" fill="#fff" stroke="#fff" stroke-width="2.4" stroke-linejoin="round"/>
<line x1="1158.7" y1="1999.7" x2="1167.2" y2="2006.2" stroke="#fff" stroke-width="5.1" stroke-linecap="round"/>
<polygon points="1173.2,2010.7 1164,2008.7 1168.8,2002.4" fill="#fff" stroke="#fff" stroke-width="2.4" stroke-linejoin="round"/>
<line x1="1211.4" y1="1999" x2="1202.5" y2="2007.6" stroke="#fff" stroke-width="5.1" stroke-linecap="round"/>
<polygon points="1197.1,2012.8 1200.4,2004 1206,2009.8" fill="#fff" stroke="#fff" stroke-width="2.4" stroke-linejoin="round"/>
<line x1="1135.1" y1="2014" x2="1164.5" y2="2014.4" stroke="#fff" stroke-width="5.1" stroke-linecap="round"/>
<polygon points="1172,2014.5 1163.4,2018.4 1163.6,2010.4" fill="#fff" stroke="#fff" stroke-width="2.4" stroke-linejoin="round"/>
<line x1="1209.6" y1="2014" x2="1186" y2="2020.7" stroke="#fff" stroke-width="5.1" stroke-linecap="round"/>
<polygon points="1178.8,2022.8 1185.9,2016.6 1188.1,2024.3" fill="#fff" stroke="#fff" stroke-width="2.4" stroke-linejoin="round"/>
<line x1="1133.6" y1="2034.1" x2="1167.2" y2="2025.4" stroke="#fff" stroke-width="5.1" stroke-linecap="round"/>
<polygon points="1174.5,2023.5 1167.3,2029.5 1165.3,2021.8" fill="#fff" stroke="#fff" stroke-width="2.4" stroke-linejoin="round"/>
<line x1="1202.1" y1="2040.4" x2="1183.3" y2="2040.9" stroke="#fff" stroke-width="5.1" stroke-linecap="round"/>
<polygon points="1175.8,2041.1 1184.2,2036.9 1184.4,2044.9" fill="#fff" stroke="#fff" stroke-width="2.4" stroke-linejoin="round"/>
<line x1="1125.1" y1="2054.9" x2="1149.7" y2="2047.9" stroke="#fff" stroke-width="5.1" stroke-linecap="round"/>
<polygon points="1156.9,2045.9 1149.8,2052.1 1147.6,2044.4" fill="#fff" stroke="#fff" stroke-width="2.4" stroke-linejoin="round"/>
<line x1="1134.9" y1="2062.4" x2="1150.1" y2="2055.5" stroke="#fff" stroke-width="5.1" stroke-linecap="round"/>
<polygon points="1156.9,2052.4 1150.8,2059.6 1147.5,2052.3" fill="#fff" stroke="#fff" stroke-width="2.4" stroke-linejoin="round"/>
<line x1="1180" y1="2087.5" x2="1170.6" y2="2091.4" stroke="#fff" stroke-width="5.1" stroke-linecap="round"/>
<polygon points="1163.7,2094.3 1170,2087.3 1173.1,2094.7" fill="#fff" stroke="#fff" stroke-width="2.4" stroke-linejoin="round"/>
<line x1="1130.6" y1="2097.6" x2="1143.2" y2="2098.7" stroke="#fff" stroke-width="5.1" stroke-linecap="round"/>
<polygon points="1150.7,2099.3 1141.9,2102.6 1142.6,2094.6" fill="#fff" stroke="#fff" stroke-width="2.4" stroke-linejoin="round"/>
<line x1="1134.9" y1="2111.9" x2="1149.9" y2="2105.9" stroke="#fff" stroke-width="5.1" stroke-linecap="round"/>
<polygon points="1156.9,2103.1 1150.5,2110 1147.5,2102.5" fill="#fff" stroke="#fff" stroke-width="2.4" stroke-linejoin="round"/>
<line x1="1177" y1="2126.9" x2="1151.1" y2="2134.2" stroke="#fff" stroke-width="5.1" stroke-linecap="round"/>
<polygon points="1143.9,2136.2 1151,2130 1153.2,2137.8" fill="#fff" stroke="#fff" stroke-width="2.4" stroke-linejoin="round"/>
<line x1="1100.5" y1="2146.5" x2="1116.2" y2="2148.5" stroke="#fff" stroke-width="5.1" stroke-linecap="round"/>
<polygon points="1123.6,2149.5 1114.7,2152.4 1115.7,2144.4" fill="#fff" stroke="#fff" stroke-width="2.4" stroke-linejoin="round"/>
<line x1="1173.2" y1="2153.7" x2="1135" y2="2160.7" stroke="#fff" stroke-width="5.1" stroke-linecap="round"/>
<polygon points="1127.6,2162 1135.2,2156.5 1136.7,2164.4" fill="#fff" stroke="#fff" stroke-width="2.4" stroke-linejoin="round"/>
<line x1="1101" y1="2162" x2="1120.4" y2="2155.9" stroke="#fff" stroke-width="5.1" stroke-linecap="round"/>
<polygon points="1127.6,2153.7 1120.7,2160.1 1118.3,2152.4" fill="#fff" stroke="#fff" stroke-width="2.4" stroke-linejoin="round"/>
<line x1="1167.7" y1="2175.3" x2="1137.9" y2="2167.7" stroke="#fff" stroke-width="5.1" stroke-linecap="round"/>
<polygon points="1130.6,2165.8 1139.8,2164 1137.8,2171.8" fill="#fff" stroke="#fff" stroke-width="2.4" stroke-linejoin="round"/>
<line x1="1093" y1="2197.2" x2="1118.1" y2="2197.6" stroke="#fff" stroke-width="5.1" stroke-linecap="round"/>
<polygon points="1125.6,2197.7 1117,2201.6 1117.2,2193.6" fill="#fff" stroke="#fff" stroke-width="2.4" stroke-linejoin="round"/>
<line x1="1082.4" y1="2228.3" x2="1099.3" y2="2227.8" stroke="#fff" stroke-width="5.1" stroke-linecap="round"/>
<polygon points="1106.8,2227.6 1098.4,2231.8 1098.2,2223.8" fill="#fff" stroke="#fff" stroke-width="2.4" stroke-linejoin="round"/>
<line x1="1058.3" y1="2262.2" x2="1071" y2="2263.8" stroke="#fff" stroke-width="5.1" stroke-linecap="round"/>
<polygon points="1078.4,2264.7 1069.5,2267.6 1070.5,2259.7" fill="#fff" stroke="#fff" stroke-width="2.4" stroke-linejoin="round"/>
<line x1="1057.8" y1="2297.3" x2="1077.4" y2="2302.3" stroke="#fff" stroke-width="5.1" stroke-linecap="round"/>
<polygon points="1084.7,2304.1 1075.5,2305.9 1077.4,2298.1" fill="#fff" stroke="#fff" stroke-width="2.4" stroke-linejoin="round"/>
<line x1="912.3" y1="2363.3" x2="897.3" y2="2367.3" stroke="#000" stroke-width="2.5"/>
<polygon points="890.1,2369.3 897.3,2363.2 899.3,2370.9" fill="#000"/>
<line x1="1158.7" y1="1999.7" x2="1167.2" y2="2006.2" stroke="#000" stroke-width="2.5"/>
<polygon points="1173.2,2010.7 1164,2008.7 1168.8,2002.4" fill="#000"/>
<line x1="1211.4" y1="1999" x2="1202.5" y2="2007.6" stroke="#000" stroke-width="2.5"/>
<polygon points="1197.1,2012.8 1200.4,2004 1206,2009.8" fill="#000"/>
<line x1="1135.1" y1="2014" x2="1164.5" y2="2014.4" stroke="#000" stroke-width="2.5"/>
<polygon points="1172,2014.5 1163.4,2018.4 1163.6,2010.4" fill="#000"/>
<line x1="1209.6" y1="2014" x2="1186" y2="2020.7" stroke="#000" stroke-width="2.5"/>
<polygon points="1178.8,2022.8 1185.9,2016.6 1188.1,2024.3" fill="#000"/>
<line x1="1133.6" y1="2034.1" x2="1167.2" y2="2025.4" stroke="#000" stroke-width="2.5"/>
<polygon points="1174.5,2023.5 1167.3,2029.5 1165.3,2021.8" fill="#000"/>
<line x1="1202.1" y1="2040.4" x2="1183.3" y2="2040.9" stroke="#000" stroke-width="2.5"/>
<polygon points="1175.8,2041.1 1184.2,2036.9 1184.4,2044.9" fill="#000"/>
<line x1="1125.1" y1="2054.9" x2="1149.7" y2="2047.9" stroke="#000" stroke-width="2.5"/>
<polygon points="1156.9,2045.9 1149.8,2052.1 1147.6,2044.4" fill="#000"/>
<line x1="1134.9" y1="2062.4" x2="1150.1" y2="2055.5" stroke="#000" stroke-width="2.5"/>
<polygon points="1156.9,2052.4 1150.8,2059.6 1147.5,2052.3" fill="#000"/>
<line x1="1180" y1="2087.5" x2="1170.6" y2="2091.4" stroke="#000" stroke-width="2.5"/>
<polygon points="1163.7,2094.3 1170,2087.3 1173.1,2094.7" fill="#000"/>
<line x1="1130.6" y1="2097.6" x2="1143.2" y2="2098.7" stroke="#000" stroke-width="2.5"/>
<polygon points="1150.7,2099.3 1141.9,2102.6 1142.6,2094.6" fill="#000"/>
<line x1="1134.9" y1="2111.9" x2="1149.9" y2="2105.9" stroke="#000" stroke-width="2.5"/>
<polygon points="1156.9,2103.1 1150.5,2110 1147.5,2102.5" fill="#000"/>
<line x1="1177" y1="2126.9" x2="1151.1" y2="2134.2" stroke="#000" stroke-width="2.5"/>
<polygon points="1143.9,2136.2 1151,2130 1153.2,2137.8" fill="#000"/>
<line x1="1100.5" y1="2146.5" x2="1116.2" y2="2148.5" stroke="#000" stroke-width="2.5"/>
<polygon points="1123.6,2149.5 1114.7,2152.4 1115.7,2144.4" fill="#000"/>
<line x1="1173.2" y1="2153.7" x2="1135" y2="2160.7" stroke="#000" stroke-width="2.5"/>
<polygon points="1127.6,2162 1135.2,2156.5 1136.7,2164.4" fill="#000"/>
<line x1="1101" y1="2162" x2="1120.4" y2="2155.9" stroke="#000" stroke-width="2.5"/>
<polygon points="1127.6,2153.7 1120.7,2160.1 1118.3,2152.4" fill="#000"/>
<line x1="1167.7" y1="2175.3" x2="1137.9" y2="2167.7" stroke="#000" stroke-width="2.5"/>
<polygon points="1130.6,2165.8 1139.8,2164 1137.8,2171.8" fill="#000"/>
<line x1="1093" y1="2197.2" x2="1118.1" y2="2197.6" stroke="#000" stroke-width="2.5"/>
<polygon points="1125.6,2197.7 1117,2201.6 1117.2,2193.6" fill="#000"/>
<line x1="1082.4" y1="2228.3" x2="1099.3" y2="2227.8" stroke="#000" stroke-width="2.5"/>
<polygon points="1106.8,2227.6 1098.4,2231.8 1098.2,2223.8" fill="#000"/>
<line x1="1058.3" y1="2262.2" x2="1071" y2="2263.8" stroke="#000" stroke-width="2.5"/>
<polygon points="1078.4,2264.7 1069.5,2267.6 1070.5,2259.7" fill="#000"/>
<line x1="1057.8" y1="2297.3" x2="1077.4" y2="2302.3" stroke="#000" stroke-width="2.5"/>
<polygon points="1084.7,2304.1 1075.5,2305.9 1077.4,2298.1" fill="#000"/>
</svg></body></html>
